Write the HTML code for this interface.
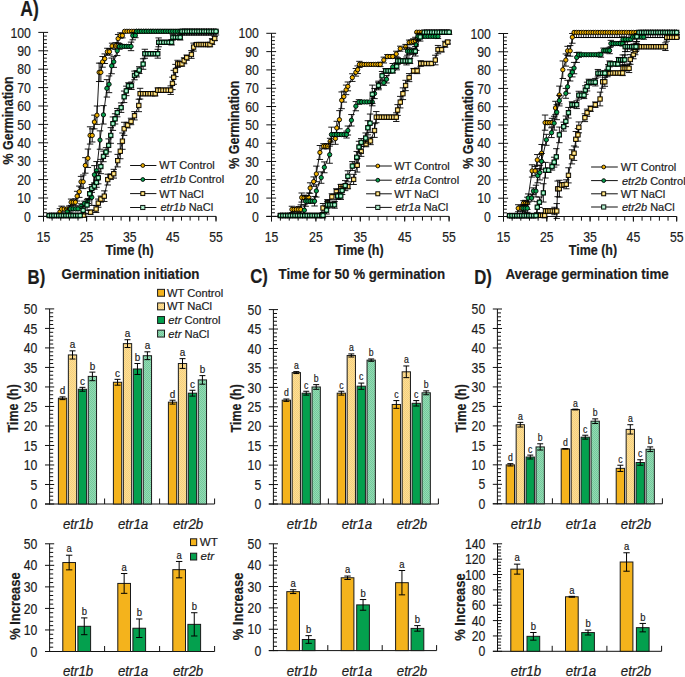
<!DOCTYPE html>
<html><head><meta charset="utf-8"><style>html,body{margin:0;padding:0;background:#fff;}svg{display:block;}text{font-family:"Liberation Sans",sans-serif;stroke:#1c1c1c;stroke-width:0.2px;}</style></head><body>
<svg width="685" height="677" viewBox="0 0 685 677" font-family="Liberation Sans, sans-serif" fill="#1c1c1c">
<defs><pattern id="pp" width="2" height="2" patternUnits="userSpaceOnUse"><rect width="2" height="2" fill="#FCDE96"/><rect width="1" height="1" fill="#F6D07C"/><rect x="1" y="1" width="1" height="1" fill="#F6D07C"/></pattern><pattern id="pg" width="2" height="2" patternUnits="userSpaceOnUse"><rect width="2" height="2" fill="#95DAB4"/><rect width="1" height="1" fill="#72CA9B"/><rect x="1" y="1" width="1" height="1" fill="#72CA9B"/></pattern></defs>
<rect width="685" height="677" fill="#fff"/>
<text transform="translate(20.2,15.7) scale(0.8,1)" font-size="22" font-weight="bold">A)</text>
<path d="M43.5 216.9V32.4M38.3 216.4H48.1M43.5 212.72H46.9M43.5 209.04H46.9M43.5 205.36H46.9M43.5 201.68H46.9M38.3 198H48.1M43.5 194.32H46.9M43.5 190.64H46.9M43.5 186.96H46.9M43.5 183.28H46.9M38.3 179.6H48.1M43.5 175.92H46.9M43.5 172.24H46.9M43.5 168.56H46.9M43.5 164.88H46.9M38.3 161.2H48.1M43.5 157.52H46.9M43.5 153.84H46.9M43.5 150.16H46.9M43.5 146.48H46.9M38.3 142.8H48.1M43.5 139.12H46.9M43.5 135.44H46.9M43.5 131.76H46.9M43.5 128.08H46.9M38.3 124.4H48.1M43.5 120.72H46.9M43.5 117.04H46.9M43.5 113.36H46.9M43.5 109.68H46.9M38.3 106H48.1M43.5 102.32H46.9M43.5 98.64H46.9M43.5 94.96H46.9M43.5 91.28H46.9M38.3 87.6H48.1M43.5 83.92H46.9M43.5 80.24H46.9M43.5 76.56H46.9M43.5 72.88H46.9M38.3 69.2H48.1M43.5 65.52H46.9M43.5 61.84H46.9M43.5 58.16H46.9M43.5 54.48H46.9M38.3 50.8H48.1M43.5 47.12H46.9M43.5 43.44H46.9M43.5 39.76H46.9M43.5 36.08H46.9M38.3 32.4H48.1M38.3 216.4H216M43.5 216.4V220.6M52.12 216.4V220.6M60.75 216.4V220.6M69.38 216.4V220.6M78 216.4V220.6M86.62 216.4V220.6M95.25 216.4V220.6M103.88 216.4V220.6M112.5 216.4V220.6M121.12 216.4V220.6M129.75 216.4V220.6M138.38 216.4V220.6M147 216.4V220.6M155.62 216.4V220.6M164.25 216.4V220.6M172.88 216.4V220.6M181.5 216.4V220.6M190.12 216.4V220.6M198.75 216.4V220.6M207.38 216.4V220.6M216 216.4V220.6M43.5 216.4V221.6M86.62 216.4V221.6M129.75 216.4V221.6M172.88 216.4V221.6M216 216.4V221.6" stroke="#111" stroke-width="1" fill="none"/>
<text transform="translate(30.9,221.55) scale(0.85,1)" font-size="14.4" text-anchor="end">0</text>
<text transform="translate(30.9,203.15) scale(0.85,1)" font-size="14.4" text-anchor="end">10</text>
<text transform="translate(30.9,184.75) scale(0.85,1)" font-size="14.4" text-anchor="end">20</text>
<text transform="translate(30.9,166.35) scale(0.85,1)" font-size="14.4" text-anchor="end">30</text>
<text transform="translate(30.9,147.95) scale(0.85,1)" font-size="14.4" text-anchor="end">40</text>
<text transform="translate(30.9,129.55) scale(0.85,1)" font-size="14.4" text-anchor="end">50</text>
<text transform="translate(30.9,111.15) scale(0.85,1)" font-size="14.4" text-anchor="end">60</text>
<text transform="translate(30.9,92.75) scale(0.85,1)" font-size="14.4" text-anchor="end">70</text>
<text transform="translate(30.9,74.35) scale(0.85,1)" font-size="14.4" text-anchor="end">80</text>
<text transform="translate(30.9,55.95) scale(0.85,1)" font-size="14.4" text-anchor="end">90</text>
<text transform="translate(30.9,37.55) scale(0.85,1)" font-size="14.4" text-anchor="end">100</text>
<text transform="translate(43.5,241.9) scale(0.85,1)" font-size="14.4" text-anchor="middle">15</text>
<text transform="translate(86.62,241.9) scale(0.85,1)" font-size="14.4" text-anchor="middle">25</text>
<text transform="translate(129.75,241.9) scale(0.85,1)" font-size="14.4" text-anchor="middle">35</text>
<text transform="translate(172.88,241.9) scale(0.85,1)" font-size="14.4" text-anchor="middle">45</text>
<text transform="translate(216,241.9) scale(0.85,1)" font-size="14.4" text-anchor="middle">55</text>
<path d="M59.89 208.67V215.3M56.69 208.67H63.09M56.69 215.3H63.09M61.61 206.13V211.95M58.41 206.13H64.81M58.41 211.95H64.81M64.2 207.75V210.33M61 207.75H67.4M61 210.33H67.4M66.79 207.75V210.33M63.59 207.75H69.99M63.59 210.33H69.99M69.38 205.88V212.2M66.17 205.88H72.58M66.17 212.2H72.58M71.1 199.07V205.39M67.9 199.07H74.3M67.9 205.39H74.3M73.26 200.06V204.41M70.06 200.06H76.46M70.06 204.41H76.46M75.41 198.79V205.68M72.21 198.79H78.61M72.21 205.68H78.61M77.14 191.3V201.02M73.94 191.3H80.34M73.94 201.02H80.34M79.29 186.09V197.4M76.09 186.09H82.49M76.09 197.4H82.49M81.02 176.4V187.21M77.82 176.4H84.22M77.82 187.21H84.22M83.17 175V188.61M79.97 175H86.38M79.97 188.61H86.38M85.33 157.67V173.2M82.13 157.67H88.53M82.13 173.2H88.53M87.92 149.06V167.46M84.72 149.06H91.12M84.72 167.46H91.12M90.08 126.81V144.07M86.88 126.81H93.28M86.88 144.07H93.28M92.23 128.89V141.99M89.03 128.89H95.43M89.03 141.99H95.43M94.39 115.15V128.86M91.19 115.15H97.59M91.19 128.86H97.59M96.97 106V124.4M93.77 106H100.17M93.77 124.4H100.17M99.13 63.13V81.53M95.93 63.13H102.33M95.93 81.53H102.33M100.86 63.13V81.53M97.66 63.13H104.06M97.66 81.53H104.06M102.58 56.49V67.19M99.38 56.49H105.78M99.38 67.19H105.78M104.74 53.92V63.5M101.54 53.92H107.94M101.54 63.5H107.94M107.33 48.25V55.19M104.12 48.25H110.53M104.12 55.19H110.53M109.48 48.54V54.9M106.28 48.54H112.68M106.28 54.9H112.68M112.07 43.16V48.87M108.87 43.16H115.27M108.87 48.87H115.27M115.52 42.7V49.33M112.32 42.7H118.72M112.32 49.33H118.72M118.11 34.48V42.83M114.91 34.48H121.31M114.91 42.83H121.31M120.26 32.87V38.19M117.06 32.87H123.46M117.06 38.19H123.46M122.42 33.21V37.85M119.22 33.21H125.62M119.22 37.85H125.62" stroke="#000" stroke-width="0.9" fill="none"/>
<path d="M49.54 215.5L51.8 215.5L54.07 215.5L56.33 215.5L58.59 215.5L59.89 211.98L61.61 209.04L64.2 209.04L66.79 209.04L69.38 209.04L71.1 202.23L73.26 202.23L75.41 202.23L77.14 196.16L79.29 191.74L81.02 181.81L83.17 181.81L85.33 165.43L87.92 158.26L90.08 135.44L92.23 135.44L94.39 122.01L96.97 115.2L99.13 72.33L100.86 72.33L102.58 61.84L104.74 58.71L107.33 51.72L109.48 51.72L112.07 46.02L115.52 46.02L118.11 38.66L120.26 35.53L122.42 35.53L124.57 31.3L126.92 31.3L129.26 31.3L131.61 31.3L133.95 31.3L136.3 31.3L138.64 31.3L140.98 31.3L143.33 31.3L145.67 31.3L148.02 31.3L150.36 31.3L152.71 31.3L155.05 31.3L157.39 31.3L159.74 31.3L162.08 31.3L164.43 31.3L166.77 31.3L169.12 31.3L171.46 31.3L173.8 31.3L176.15 31.3L178.49 31.3L180.84 31.3L183.18 31.3L185.52 31.3L187.87 31.3L190.21 31.3L192.56 31.3L194.9 31.3L197.25 31.3L199.59 31.3L201.93 31.3L204.28 31.3L206.62 31.3L208.97 31.3L211.31 31.3L213.66 31.3L216 31.3" stroke="#000" stroke-width="0.9" fill="none"/>
<circle cx="49.54" cy="215.5" r="2.15" fill="#F2B200" stroke="#000" stroke-width="0.9"/>
<circle cx="51.8" cy="215.5" r="2.15" fill="#F2B200" stroke="#000" stroke-width="0.9"/>
<circle cx="54.07" cy="215.5" r="2.15" fill="#F2B200" stroke="#000" stroke-width="0.9"/>
<circle cx="56.33" cy="215.5" r="2.15" fill="#F2B200" stroke="#000" stroke-width="0.9"/>
<circle cx="58.59" cy="215.5" r="2.15" fill="#F2B200" stroke="#000" stroke-width="0.9"/>
<circle cx="59.89" cy="211.98" r="2.15" fill="#F2B200" stroke="#000" stroke-width="0.9"/>
<circle cx="61.61" cy="209.04" r="2.15" fill="#F2B200" stroke="#000" stroke-width="0.9"/>
<circle cx="64.2" cy="209.04" r="2.15" fill="#F2B200" stroke="#000" stroke-width="0.9"/>
<circle cx="66.79" cy="209.04" r="2.15" fill="#F2B200" stroke="#000" stroke-width="0.9"/>
<circle cx="69.38" cy="209.04" r="2.15" fill="#F2B200" stroke="#000" stroke-width="0.9"/>
<circle cx="71.1" cy="202.23" r="2.15" fill="#F2B200" stroke="#000" stroke-width="0.9"/>
<circle cx="73.26" cy="202.23" r="2.15" fill="#F2B200" stroke="#000" stroke-width="0.9"/>
<circle cx="75.41" cy="202.23" r="2.15" fill="#F2B200" stroke="#000" stroke-width="0.9"/>
<circle cx="77.14" cy="196.16" r="2.15" fill="#F2B200" stroke="#000" stroke-width="0.9"/>
<circle cx="79.29" cy="191.74" r="2.15" fill="#F2B200" stroke="#000" stroke-width="0.9"/>
<circle cx="81.02" cy="181.81" r="2.15" fill="#F2B200" stroke="#000" stroke-width="0.9"/>
<circle cx="83.17" cy="181.81" r="2.15" fill="#F2B200" stroke="#000" stroke-width="0.9"/>
<circle cx="85.33" cy="165.43" r="2.15" fill="#F2B200" stroke="#000" stroke-width="0.9"/>
<circle cx="87.92" cy="158.26" r="2.15" fill="#F2B200" stroke="#000" stroke-width="0.9"/>
<circle cx="90.08" cy="135.44" r="2.15" fill="#F2B200" stroke="#000" stroke-width="0.9"/>
<circle cx="92.23" cy="135.44" r="2.15" fill="#F2B200" stroke="#000" stroke-width="0.9"/>
<circle cx="94.39" cy="122.01" r="2.15" fill="#F2B200" stroke="#000" stroke-width="0.9"/>
<circle cx="96.97" cy="115.2" r="2.15" fill="#F2B200" stroke="#000" stroke-width="0.9"/>
<circle cx="99.13" cy="72.33" r="2.15" fill="#F2B200" stroke="#000" stroke-width="0.9"/>
<circle cx="100.86" cy="72.33" r="2.15" fill="#F2B200" stroke="#000" stroke-width="0.9"/>
<circle cx="102.58" cy="61.84" r="2.15" fill="#F2B200" stroke="#000" stroke-width="0.9"/>
<circle cx="104.74" cy="58.71" r="2.15" fill="#F2B200" stroke="#000" stroke-width="0.9"/>
<circle cx="107.33" cy="51.72" r="2.15" fill="#F2B200" stroke="#000" stroke-width="0.9"/>
<circle cx="109.48" cy="51.72" r="2.15" fill="#F2B200" stroke="#000" stroke-width="0.9"/>
<circle cx="112.07" cy="46.02" r="2.15" fill="#F2B200" stroke="#000" stroke-width="0.9"/>
<circle cx="115.52" cy="46.02" r="2.15" fill="#F2B200" stroke="#000" stroke-width="0.9"/>
<circle cx="118.11" cy="38.66" r="2.15" fill="#F2B200" stroke="#000" stroke-width="0.9"/>
<circle cx="120.26" cy="35.53" r="2.15" fill="#F2B200" stroke="#000" stroke-width="0.9"/>
<circle cx="122.42" cy="35.53" r="2.15" fill="#F2B200" stroke="#000" stroke-width="0.9"/>
<circle cx="124.57" cy="31.3" r="2.15" fill="#F2B200" stroke="#000" stroke-width="0.9"/>
<circle cx="126.92" cy="31.3" r="2.15" fill="#F2B200" stroke="#000" stroke-width="0.9"/>
<circle cx="129.26" cy="31.3" r="2.15" fill="#F2B200" stroke="#000" stroke-width="0.9"/>
<circle cx="131.61" cy="31.3" r="2.15" fill="#F2B200" stroke="#000" stroke-width="0.9"/>
<circle cx="133.95" cy="31.3" r="2.15" fill="#F2B200" stroke="#000" stroke-width="0.9"/>
<circle cx="136.3" cy="31.3" r="2.15" fill="#F2B200" stroke="#000" stroke-width="0.9"/>
<circle cx="138.64" cy="31.3" r="2.15" fill="#F2B200" stroke="#000" stroke-width="0.9"/>
<circle cx="140.98" cy="31.3" r="2.15" fill="#F2B200" stroke="#000" stroke-width="0.9"/>
<circle cx="143.33" cy="31.3" r="2.15" fill="#F2B200" stroke="#000" stroke-width="0.9"/>
<circle cx="145.67" cy="31.3" r="2.15" fill="#F2B200" stroke="#000" stroke-width="0.9"/>
<circle cx="148.02" cy="31.3" r="2.15" fill="#F2B200" stroke="#000" stroke-width="0.9"/>
<circle cx="150.36" cy="31.3" r="2.15" fill="#F2B200" stroke="#000" stroke-width="0.9"/>
<circle cx="152.71" cy="31.3" r="2.15" fill="#F2B200" stroke="#000" stroke-width="0.9"/>
<circle cx="155.05" cy="31.3" r="2.15" fill="#F2B200" stroke="#000" stroke-width="0.9"/>
<circle cx="157.39" cy="31.3" r="2.15" fill="#F2B200" stroke="#000" stroke-width="0.9"/>
<circle cx="159.74" cy="31.3" r="2.15" fill="#F2B200" stroke="#000" stroke-width="0.9"/>
<circle cx="162.08" cy="31.3" r="2.15" fill="#F2B200" stroke="#000" stroke-width="0.9"/>
<circle cx="164.43" cy="31.3" r="2.15" fill="#F2B200" stroke="#000" stroke-width="0.9"/>
<circle cx="166.77" cy="31.3" r="2.15" fill="#F2B200" stroke="#000" stroke-width="0.9"/>
<circle cx="169.12" cy="31.3" r="2.15" fill="#F2B200" stroke="#000" stroke-width="0.9"/>
<circle cx="171.46" cy="31.3" r="2.15" fill="#F2B200" stroke="#000" stroke-width="0.9"/>
<circle cx="173.8" cy="31.3" r="2.15" fill="#F2B200" stroke="#000" stroke-width="0.9"/>
<circle cx="176.15" cy="31.3" r="2.15" fill="#F2B200" stroke="#000" stroke-width="0.9"/>
<circle cx="178.49" cy="31.3" r="2.15" fill="#F2B200" stroke="#000" stroke-width="0.9"/>
<circle cx="180.84" cy="31.3" r="2.15" fill="#F2B200" stroke="#000" stroke-width="0.9"/>
<circle cx="183.18" cy="31.3" r="2.15" fill="#F2B200" stroke="#000" stroke-width="0.9"/>
<circle cx="185.52" cy="31.3" r="2.15" fill="#F2B200" stroke="#000" stroke-width="0.9"/>
<circle cx="187.87" cy="31.3" r="2.15" fill="#F2B200" stroke="#000" stroke-width="0.9"/>
<circle cx="190.21" cy="31.3" r="2.15" fill="#F2B200" stroke="#000" stroke-width="0.9"/>
<circle cx="192.56" cy="31.3" r="2.15" fill="#F2B200" stroke="#000" stroke-width="0.9"/>
<circle cx="194.9" cy="31.3" r="2.15" fill="#F2B200" stroke="#000" stroke-width="0.9"/>
<circle cx="197.25" cy="31.3" r="2.15" fill="#F2B200" stroke="#000" stroke-width="0.9"/>
<circle cx="199.59" cy="31.3" r="2.15" fill="#F2B200" stroke="#000" stroke-width="0.9"/>
<circle cx="201.93" cy="31.3" r="2.15" fill="#F2B200" stroke="#000" stroke-width="0.9"/>
<circle cx="204.28" cy="31.3" r="2.15" fill="#F2B200" stroke="#000" stroke-width="0.9"/>
<circle cx="206.62" cy="31.3" r="2.15" fill="#F2B200" stroke="#000" stroke-width="0.9"/>
<circle cx="208.97" cy="31.3" r="2.15" fill="#F2B200" stroke="#000" stroke-width="0.9"/>
<circle cx="211.31" cy="31.3" r="2.15" fill="#F2B200" stroke="#000" stroke-width="0.9"/>
<circle cx="213.66" cy="31.3" r="2.15" fill="#F2B200" stroke="#000" stroke-width="0.9"/>
<circle cx="216" cy="31.3" r="2.15" fill="#F2B200" stroke="#000" stroke-width="0.9"/>
<path d="M67.22 208.84V215.13M64.02 208.84H70.42M64.02 215.13H70.42M70.67 206.92V210.79M67.47 206.92H73.87M67.47 210.79H73.87M73.11 207.53V210.18M69.91 207.53H76.31M69.91 210.18H76.31M75.56 207.53V210.18M72.36 207.53H78.76M72.36 210.18H78.76M78 206.96V210.75M74.8 206.96H81.2M74.8 210.75H81.2M81.02 203.82V208.74M77.82 203.82H84.22M77.82 208.74H84.22M84.47 201.13V205.91M81.27 201.13H87.67M81.27 205.91H87.67M87.92 198.45V203.44M84.72 198.45H91.12M84.72 203.44H91.12M91.8 189.13V205.4M88.6 189.13H95M88.6 205.4H95M94.39 165.62V184.02M91.19 165.62H97.59M91.19 184.02H97.59M96.54 161.57V179.97M93.34 161.57H99.74M93.34 179.97H99.74M99.99 130.84V149.24M96.79 130.84H103.19M96.79 149.24H103.19M103.44 105.63V124.03M100.24 105.63H106.64M100.24 124.03H106.64M106.89 79.63V97.05M103.69 79.63H110.09M103.69 97.05H110.09M109.05 75.92V92.66M105.85 75.92H112.25M105.85 92.66H112.25M111.64 58.05V73.73M108.44 58.05H114.84M108.44 73.73H114.84M113.79 56.32V67.36M110.59 56.32H116.99M110.59 67.36H116.99M117.24 46.02V55.58M114.04 46.02H120.44M114.04 55.58H120.44M119.4 43.5V49.27M116.2 43.5H122.6M116.2 49.27H122.6M121.73 44.95V47.82M118.53 44.95H124.93M118.53 47.82H124.93M124.06 45.1V47.67M120.86 45.1H127.26M120.86 47.67H127.26M126.39 45.1V47.67M123.19 45.1H129.59M123.19 47.67H129.59M128.71 44.65V48.12M125.51 44.65H131.91M125.51 48.12H131.91M131.04 42.11V50.66M127.84 42.11H134.24M127.84 50.66H134.24M132.77 32.4V39.8M129.57 32.4H135.97M129.57 39.8H135.97M135.36 33.38V37.68M132.16 33.38H138.56M132.16 37.68H138.56" stroke="#000" stroke-width="0.9" fill="none"/>
<path d="M49.11 215.5L51.39 215.5L53.67 215.5L55.94 215.5L58.22 215.5L60.5 215.5L62.78 215.5L65.06 215.5L67.22 211.98L70.67 208.86L73.11 208.86L75.56 208.86L78 208.86L81.02 206.28L84.47 203.52L87.92 200.94L91.8 197.26L94.39 174.82L96.54 170.77L99.99 140.04L103.44 114.83L106.89 88.34L109.05 84.29L111.64 65.89L113.79 61.84L117.24 50.8L119.4 46.38L121.73 46.38L124.06 46.38L126.39 46.38L128.71 46.38L131.04 46.38L132.77 35.53L135.36 35.53L136.65 31.3L139.05 31.3L141.46 31.3L143.86 31.3L146.27 31.3L148.67 31.3L151.08 31.3L153.48 31.3L155.89 31.3L158.29 31.3L160.7 31.3L163.1 31.3L165.5 31.3L167.91 31.3L170.31 31.3L172.72 31.3L175.12 31.3L177.53 31.3L179.93 31.3L182.34 31.3L184.74 31.3L187.15 31.3L189.55 31.3L191.95 31.3L194.36 31.3L196.76 31.3L199.17 31.3L201.57 31.3L203.98 31.3L206.38 31.3L208.79 31.3L211.19 31.3L213.6 31.3L216 31.3" stroke="#000" stroke-width="0.9" fill="none"/>
<circle cx="49.11" cy="215.5" r="2.15" fill="#07A04C" stroke="#000" stroke-width="0.9"/>
<circle cx="51.39" cy="215.5" r="2.15" fill="#07A04C" stroke="#000" stroke-width="0.9"/>
<circle cx="53.67" cy="215.5" r="2.15" fill="#07A04C" stroke="#000" stroke-width="0.9"/>
<circle cx="55.94" cy="215.5" r="2.15" fill="#07A04C" stroke="#000" stroke-width="0.9"/>
<circle cx="58.22" cy="215.5" r="2.15" fill="#07A04C" stroke="#000" stroke-width="0.9"/>
<circle cx="60.5" cy="215.5" r="2.15" fill="#07A04C" stroke="#000" stroke-width="0.9"/>
<circle cx="62.78" cy="215.5" r="2.15" fill="#07A04C" stroke="#000" stroke-width="0.9"/>
<circle cx="65.06" cy="215.5" r="2.15" fill="#07A04C" stroke="#000" stroke-width="0.9"/>
<circle cx="67.22" cy="211.98" r="2.15" fill="#07A04C" stroke="#000" stroke-width="0.9"/>
<circle cx="70.67" cy="208.86" r="2.15" fill="#07A04C" stroke="#000" stroke-width="0.9"/>
<circle cx="73.11" cy="208.86" r="2.15" fill="#07A04C" stroke="#000" stroke-width="0.9"/>
<circle cx="75.56" cy="208.86" r="2.15" fill="#07A04C" stroke="#000" stroke-width="0.9"/>
<circle cx="78" cy="208.86" r="2.15" fill="#07A04C" stroke="#000" stroke-width="0.9"/>
<circle cx="81.02" cy="206.28" r="2.15" fill="#07A04C" stroke="#000" stroke-width="0.9"/>
<circle cx="84.47" cy="203.52" r="2.15" fill="#07A04C" stroke="#000" stroke-width="0.9"/>
<circle cx="87.92" cy="200.94" r="2.15" fill="#07A04C" stroke="#000" stroke-width="0.9"/>
<circle cx="91.8" cy="197.26" r="2.15" fill="#07A04C" stroke="#000" stroke-width="0.9"/>
<circle cx="94.39" cy="174.82" r="2.15" fill="#07A04C" stroke="#000" stroke-width="0.9"/>
<circle cx="96.54" cy="170.77" r="2.15" fill="#07A04C" stroke="#000" stroke-width="0.9"/>
<circle cx="99.99" cy="140.04" r="2.15" fill="#07A04C" stroke="#000" stroke-width="0.9"/>
<circle cx="103.44" cy="114.83" r="2.15" fill="#07A04C" stroke="#000" stroke-width="0.9"/>
<circle cx="106.89" cy="88.34" r="2.15" fill="#07A04C" stroke="#000" stroke-width="0.9"/>
<circle cx="109.05" cy="84.29" r="2.15" fill="#07A04C" stroke="#000" stroke-width="0.9"/>
<circle cx="111.64" cy="65.89" r="2.15" fill="#07A04C" stroke="#000" stroke-width="0.9"/>
<circle cx="113.79" cy="61.84" r="2.15" fill="#07A04C" stroke="#000" stroke-width="0.9"/>
<circle cx="117.24" cy="50.8" r="2.15" fill="#07A04C" stroke="#000" stroke-width="0.9"/>
<circle cx="119.4" cy="46.38" r="2.15" fill="#07A04C" stroke="#000" stroke-width="0.9"/>
<circle cx="121.73" cy="46.38" r="2.15" fill="#07A04C" stroke="#000" stroke-width="0.9"/>
<circle cx="124.06" cy="46.38" r="2.15" fill="#07A04C" stroke="#000" stroke-width="0.9"/>
<circle cx="126.39" cy="46.38" r="2.15" fill="#07A04C" stroke="#000" stroke-width="0.9"/>
<circle cx="128.71" cy="46.38" r="2.15" fill="#07A04C" stroke="#000" stroke-width="0.9"/>
<circle cx="131.04" cy="46.38" r="2.15" fill="#07A04C" stroke="#000" stroke-width="0.9"/>
<circle cx="132.77" cy="35.53" r="2.15" fill="#07A04C" stroke="#000" stroke-width="0.9"/>
<circle cx="135.36" cy="35.53" r="2.15" fill="#07A04C" stroke="#000" stroke-width="0.9"/>
<circle cx="136.65" cy="31.3" r="2.15" fill="#07A04C" stroke="#000" stroke-width="0.9"/>
<circle cx="139.05" cy="31.3" r="2.15" fill="#07A04C" stroke="#000" stroke-width="0.9"/>
<circle cx="141.46" cy="31.3" r="2.15" fill="#07A04C" stroke="#000" stroke-width="0.9"/>
<circle cx="143.86" cy="31.3" r="2.15" fill="#07A04C" stroke="#000" stroke-width="0.9"/>
<circle cx="146.27" cy="31.3" r="2.15" fill="#07A04C" stroke="#000" stroke-width="0.9"/>
<circle cx="148.67" cy="31.3" r="2.15" fill="#07A04C" stroke="#000" stroke-width="0.9"/>
<circle cx="151.08" cy="31.3" r="2.15" fill="#07A04C" stroke="#000" stroke-width="0.9"/>
<circle cx="153.48" cy="31.3" r="2.15" fill="#07A04C" stroke="#000" stroke-width="0.9"/>
<circle cx="155.89" cy="31.3" r="2.15" fill="#07A04C" stroke="#000" stroke-width="0.9"/>
<circle cx="158.29" cy="31.3" r="2.15" fill="#07A04C" stroke="#000" stroke-width="0.9"/>
<circle cx="160.7" cy="31.3" r="2.15" fill="#07A04C" stroke="#000" stroke-width="0.9"/>
<circle cx="163.1" cy="31.3" r="2.15" fill="#07A04C" stroke="#000" stroke-width="0.9"/>
<circle cx="165.5" cy="31.3" r="2.15" fill="#07A04C" stroke="#000" stroke-width="0.9"/>
<circle cx="167.91" cy="31.3" r="2.15" fill="#07A04C" stroke="#000" stroke-width="0.9"/>
<circle cx="170.31" cy="31.3" r="2.15" fill="#07A04C" stroke="#000" stroke-width="0.9"/>
<circle cx="172.72" cy="31.3" r="2.15" fill="#07A04C" stroke="#000" stroke-width="0.9"/>
<circle cx="175.12" cy="31.3" r="2.15" fill="#07A04C" stroke="#000" stroke-width="0.9"/>
<circle cx="177.53" cy="31.3" r="2.15" fill="#07A04C" stroke="#000" stroke-width="0.9"/>
<circle cx="179.93" cy="31.3" r="2.15" fill="#07A04C" stroke="#000" stroke-width="0.9"/>
<circle cx="182.34" cy="31.3" r="2.15" fill="#07A04C" stroke="#000" stroke-width="0.9"/>
<circle cx="184.74" cy="31.3" r="2.15" fill="#07A04C" stroke="#000" stroke-width="0.9"/>
<circle cx="187.15" cy="31.3" r="2.15" fill="#07A04C" stroke="#000" stroke-width="0.9"/>
<circle cx="189.55" cy="31.3" r="2.15" fill="#07A04C" stroke="#000" stroke-width="0.9"/>
<circle cx="191.95" cy="31.3" r="2.15" fill="#07A04C" stroke="#000" stroke-width="0.9"/>
<circle cx="194.36" cy="31.3" r="2.15" fill="#07A04C" stroke="#000" stroke-width="0.9"/>
<circle cx="196.76" cy="31.3" r="2.15" fill="#07A04C" stroke="#000" stroke-width="0.9"/>
<circle cx="199.17" cy="31.3" r="2.15" fill="#07A04C" stroke="#000" stroke-width="0.9"/>
<circle cx="201.57" cy="31.3" r="2.15" fill="#07A04C" stroke="#000" stroke-width="0.9"/>
<circle cx="203.98" cy="31.3" r="2.15" fill="#07A04C" stroke="#000" stroke-width="0.9"/>
<circle cx="206.38" cy="31.3" r="2.15" fill="#07A04C" stroke="#000" stroke-width="0.9"/>
<circle cx="208.79" cy="31.3" r="2.15" fill="#07A04C" stroke="#000" stroke-width="0.9"/>
<circle cx="211.19" cy="31.3" r="2.15" fill="#07A04C" stroke="#000" stroke-width="0.9"/>
<circle cx="213.6" cy="31.3" r="2.15" fill="#07A04C" stroke="#000" stroke-width="0.9"/>
<circle cx="216" cy="31.3" r="2.15" fill="#07A04C" stroke="#000" stroke-width="0.9"/>
<path d="M83.61 213.25V216.97M80.41 213.25H86.81M80.41 216.97H86.81M90.51 210.18V214.16M87.31 210.18H93.71M87.31 214.16H93.71M96.11 205.55V212.53M92.91 205.55H99.31M92.91 212.53H99.31M98.27 199.07V207.24M95.07 199.07H101.47M95.07 207.24H101.47M100.86 196.1V202.11M97.66 196.1H104.06M97.66 202.11H104.06M104.31 190.85V201.47M101.11 190.85H107.51M101.11 201.47H107.51M107.76 174.2V185M104.56 174.2H110.96M104.56 185H110.96M110.78 173.98V179.33M107.58 173.98H113.98M107.58 179.33H113.98M113.79 169.33V178.09M110.59 169.33H116.99M110.59 178.09H116.99M117.68 154.38V166.91M114.48 154.38H120.88M114.48 166.91H120.88M120.26 143.76V158.76M117.06 143.76H123.46M117.06 158.76H123.46M122.42 133V149.29M119.22 133H125.62M119.22 149.29H125.62M124.14 122.27V135.37M120.94 122.27H127.34M120.94 135.37H127.34M127.59 122.33V127.94M124.39 122.33H130.79M124.39 127.94H130.79M131.04 118.23V124.68M127.84 118.23H134.24M127.84 124.68H134.24M134.49 111.59V119.92M131.29 111.59H137.69M131.29 119.92H137.69M138.81 99.22V111.67M135.61 99.22H142.01M135.61 111.67H142.01M140.1 88.3V99.05M136.9 88.3H143.3M136.9 99.05H143.3M142.62 92.2V95.14M139.42 92.2H145.82M139.42 95.14H145.82M145.13 92.38V94.96M141.93 92.38H148.33M141.93 94.96H148.33M147.65 92.38V94.96M144.45 92.38H150.85M144.45 94.96H150.85M150.16 92.38V94.96M146.96 92.38H153.36M146.96 94.96H153.36M152.68 92.36V94.99M149.48 92.36H155.88M149.48 94.99H155.88M155.19 91.42V95.92M151.99 91.42H158.39M151.99 95.92H158.39M157.78 87.93V92.43M154.58 87.93H160.98M154.58 92.43H160.98M160.37 88.89V91.46M157.17 88.89H163.57M157.17 91.46H163.57M162.96 88.89V91.46M159.76 88.89H166.16M159.76 91.46H166.16M165.54 88.89V91.46M162.34 88.89H168.74M162.34 91.46H168.74M168.13 88.89V91.46M164.93 88.89H171.33M164.93 91.46H171.33M170.72 85.9V94.45M167.52 85.9H173.92M167.52 94.45H173.92M172.44 77.13V89.6M169.24 77.13H175.64M169.24 89.6H175.64M173.74 70.33V84.26M170.54 70.33H176.94M170.54 84.26H176.94M175.46 64.39V76.58M172.26 64.39H178.66M172.26 76.58H178.66M177.62 60.29V67.44M174.42 60.29H180.82M174.42 67.44H180.82M179.78 62.04V65.69M176.58 62.04H182.97M176.58 65.69H182.97M181.93 61.57V66.16M178.73 61.57H185.13M178.73 66.16H185.13M184.09 57.73V63.74M180.89 57.73H187.29M180.89 63.74H187.29M186.68 54.99V60.23M183.48 54.99H189.88M183.48 60.23H189.88M191.42 50.6V58.36M188.22 50.6H194.62M188.22 58.36H194.62M193.57 43.12V51.12M190.38 43.12H196.77M190.38 51.12H196.77M196.59 42.65V46.44M193.39 42.65H199.79M193.39 46.44H199.79M198.82 43.17V45.92M195.62 43.17H202.02M195.62 45.92H202.02M201.05 43.26V45.83M197.85 43.26H204.25M197.85 45.83H204.25M203.28 43.26V45.83M200.08 43.26H206.48M200.08 45.83H206.48M205.51 43.26V45.83M202.31 43.26H208.71M202.31 45.83H208.71M207.73 43.12V45.97M204.53 43.12H210.93M204.53 45.97H210.93M209.96 42.3V46.78M206.76 42.3H213.16M206.76 46.78H213.16M212.12 38.64V44.56M208.92 38.64H215.32M208.92 44.56H215.32M214.71 36.32V40.62M211.51 36.32H217.91M211.51 40.62H217.91" stroke="#000" stroke-width="0.9" fill="none"/>
<path d="M49.54 215.5L51.89 215.5L54.25 215.5L56.6 215.5L58.96 215.5L61.31 215.5L63.67 215.5L66.02 215.5L68.38 215.5L70.74 215.5L73.09 215.5L75.45 215.5L77.8 215.5L80.16 215.5L83.61 215.11L90.51 212.17L96.11 209.04L98.27 203.15L100.86 199.1L104.31 196.16L107.76 179.6L110.78 176.66L113.79 173.71L117.68 160.65L120.26 151.26L122.42 141.14L124.14 128.82L127.59 125.14L131.04 121.46L134.49 115.75L138.81 105.45L140.1 93.67L142.62 93.67L145.13 93.67L147.65 93.67L150.16 93.67L152.68 93.67L155.19 93.67L157.78 90.18L160.37 90.18L162.96 90.18L165.54 90.18L168.13 90.18L170.72 90.18L172.44 83.37L173.74 77.3L175.46 70.49L177.62 63.86L179.78 63.86L181.93 63.86L184.09 60.74L186.68 57.61L191.42 54.48L193.57 47.12L196.59 44.54L198.82 44.54L201.05 44.54L203.28 44.54L205.51 44.54L207.73 44.54L209.96 44.54L212.12 41.6L214.71 38.47" stroke="#000" stroke-width="0.9" fill="none"/>
<rect x="47.34" y="213.3" width="4.4" height="4.4" fill="#D8A838" stroke="#000" stroke-width="0.9"/>
<circle cx="49.54" cy="215.5" r="1.2" fill="#FBF0A6"/>
<rect x="49.69" y="213.3" width="4.4" height="4.4" fill="#D8A838" stroke="#000" stroke-width="0.9"/>
<circle cx="51.89" cy="215.5" r="1.2" fill="#FBF0A6"/>
<rect x="52.05" y="213.3" width="4.4" height="4.4" fill="#D8A838" stroke="#000" stroke-width="0.9"/>
<circle cx="54.25" cy="215.5" r="1.2" fill="#FBF0A6"/>
<rect x="54.4" y="213.3" width="4.4" height="4.4" fill="#D8A838" stroke="#000" stroke-width="0.9"/>
<circle cx="56.6" cy="215.5" r="1.2" fill="#FBF0A6"/>
<rect x="56.76" y="213.3" width="4.4" height="4.4" fill="#D8A838" stroke="#000" stroke-width="0.9"/>
<circle cx="58.96" cy="215.5" r="1.2" fill="#FBF0A6"/>
<rect x="59.11" y="213.3" width="4.4" height="4.4" fill="#D8A838" stroke="#000" stroke-width="0.9"/>
<circle cx="61.31" cy="215.5" r="1.2" fill="#FBF0A6"/>
<rect x="61.47" y="213.3" width="4.4" height="4.4" fill="#D8A838" stroke="#000" stroke-width="0.9"/>
<circle cx="63.67" cy="215.5" r="1.2" fill="#FBF0A6"/>
<rect x="63.82" y="213.3" width="4.4" height="4.4" fill="#D8A838" stroke="#000" stroke-width="0.9"/>
<circle cx="66.02" cy="215.5" r="1.2" fill="#FBF0A6"/>
<rect x="66.18" y="213.3" width="4.4" height="4.4" fill="#D8A838" stroke="#000" stroke-width="0.9"/>
<circle cx="68.38" cy="215.5" r="1.2" fill="#FBF0A6"/>
<rect x="68.54" y="213.3" width="4.4" height="4.4" fill="#D8A838" stroke="#000" stroke-width="0.9"/>
<circle cx="70.74" cy="215.5" r="1.2" fill="#FBF0A6"/>
<rect x="70.89" y="213.3" width="4.4" height="4.4" fill="#D8A838" stroke="#000" stroke-width="0.9"/>
<circle cx="73.09" cy="215.5" r="1.2" fill="#FBF0A6"/>
<rect x="73.25" y="213.3" width="4.4" height="4.4" fill="#D8A838" stroke="#000" stroke-width="0.9"/>
<circle cx="75.45" cy="215.5" r="1.2" fill="#FBF0A6"/>
<rect x="75.6" y="213.3" width="4.4" height="4.4" fill="#D8A838" stroke="#000" stroke-width="0.9"/>
<circle cx="77.8" cy="215.5" r="1.2" fill="#FBF0A6"/>
<rect x="77.96" y="213.3" width="4.4" height="4.4" fill="#D8A838" stroke="#000" stroke-width="0.9"/>
<circle cx="80.16" cy="215.5" r="1.2" fill="#FBF0A6"/>
<rect x="81.41" y="212.91" width="4.4" height="4.4" fill="#D8A838" stroke="#000" stroke-width="0.9"/>
<circle cx="83.61" cy="215.11" r="1.2" fill="#FBF0A6"/>
<rect x="88.31" y="209.97" width="4.4" height="4.4" fill="#D8A838" stroke="#000" stroke-width="0.9"/>
<circle cx="90.51" cy="212.17" r="1.2" fill="#FBF0A6"/>
<rect x="93.91" y="206.84" width="4.4" height="4.4" fill="#D8A838" stroke="#000" stroke-width="0.9"/>
<circle cx="96.11" cy="209.04" r="1.2" fill="#FBF0A6"/>
<rect x="96.07" y="200.95" width="4.4" height="4.4" fill="#D8A838" stroke="#000" stroke-width="0.9"/>
<circle cx="98.27" cy="203.15" r="1.2" fill="#FBF0A6"/>
<rect x="98.66" y="196.9" width="4.4" height="4.4" fill="#D8A838" stroke="#000" stroke-width="0.9"/>
<circle cx="100.86" cy="199.1" r="1.2" fill="#FBF0A6"/>
<rect x="102.11" y="193.96" width="4.4" height="4.4" fill="#D8A838" stroke="#000" stroke-width="0.9"/>
<circle cx="104.31" cy="196.16" r="1.2" fill="#FBF0A6"/>
<rect x="105.56" y="177.4" width="4.4" height="4.4" fill="#D8A838" stroke="#000" stroke-width="0.9"/>
<circle cx="107.76" cy="179.6" r="1.2" fill="#FBF0A6"/>
<rect x="108.58" y="174.46" width="4.4" height="4.4" fill="#D8A838" stroke="#000" stroke-width="0.9"/>
<circle cx="110.78" cy="176.66" r="1.2" fill="#FBF0A6"/>
<rect x="111.59" y="171.51" width="4.4" height="4.4" fill="#D8A838" stroke="#000" stroke-width="0.9"/>
<circle cx="113.79" cy="173.71" r="1.2" fill="#FBF0A6"/>
<rect x="115.48" y="158.45" width="4.4" height="4.4" fill="#D8A838" stroke="#000" stroke-width="0.9"/>
<circle cx="117.68" cy="160.65" r="1.2" fill="#FBF0A6"/>
<rect x="118.06" y="149.06" width="4.4" height="4.4" fill="#D8A838" stroke="#000" stroke-width="0.9"/>
<circle cx="120.26" cy="151.26" r="1.2" fill="#FBF0A6"/>
<rect x="120.22" y="138.94" width="4.4" height="4.4" fill="#D8A838" stroke="#000" stroke-width="0.9"/>
<circle cx="122.42" cy="141.14" r="1.2" fill="#FBF0A6"/>
<rect x="121.94" y="126.62" width="4.4" height="4.4" fill="#D8A838" stroke="#000" stroke-width="0.9"/>
<circle cx="124.14" cy="128.82" r="1.2" fill="#FBF0A6"/>
<rect x="125.39" y="122.94" width="4.4" height="4.4" fill="#D8A838" stroke="#000" stroke-width="0.9"/>
<circle cx="127.59" cy="125.14" r="1.2" fill="#FBF0A6"/>
<rect x="128.84" y="119.26" width="4.4" height="4.4" fill="#D8A838" stroke="#000" stroke-width="0.9"/>
<circle cx="131.04" cy="121.46" r="1.2" fill="#FBF0A6"/>
<rect x="132.29" y="113.55" width="4.4" height="4.4" fill="#D8A838" stroke="#000" stroke-width="0.9"/>
<circle cx="134.49" cy="115.75" r="1.2" fill="#FBF0A6"/>
<rect x="136.61" y="103.25" width="4.4" height="4.4" fill="#D8A838" stroke="#000" stroke-width="0.9"/>
<circle cx="138.81" cy="105.45" r="1.2" fill="#FBF0A6"/>
<rect x="137.9" y="91.47" width="4.4" height="4.4" fill="#D8A838" stroke="#000" stroke-width="0.9"/>
<circle cx="140.1" cy="93.67" r="1.2" fill="#FBF0A6"/>
<rect x="140.42" y="91.47" width="4.4" height="4.4" fill="#D8A838" stroke="#000" stroke-width="0.9"/>
<circle cx="142.62" cy="93.67" r="1.2" fill="#FBF0A6"/>
<rect x="142.93" y="91.47" width="4.4" height="4.4" fill="#D8A838" stroke="#000" stroke-width="0.9"/>
<circle cx="145.13" cy="93.67" r="1.2" fill="#FBF0A6"/>
<rect x="145.45" y="91.47" width="4.4" height="4.4" fill="#D8A838" stroke="#000" stroke-width="0.9"/>
<circle cx="147.65" cy="93.67" r="1.2" fill="#FBF0A6"/>
<rect x="147.96" y="91.47" width="4.4" height="4.4" fill="#D8A838" stroke="#000" stroke-width="0.9"/>
<circle cx="150.16" cy="93.67" r="1.2" fill="#FBF0A6"/>
<rect x="150.48" y="91.47" width="4.4" height="4.4" fill="#D8A838" stroke="#000" stroke-width="0.9"/>
<circle cx="152.68" cy="93.67" r="1.2" fill="#FBF0A6"/>
<rect x="152.99" y="91.47" width="4.4" height="4.4" fill="#D8A838" stroke="#000" stroke-width="0.9"/>
<circle cx="155.19" cy="93.67" r="1.2" fill="#FBF0A6"/>
<rect x="155.58" y="87.98" width="4.4" height="4.4" fill="#D8A838" stroke="#000" stroke-width="0.9"/>
<circle cx="157.78" cy="90.18" r="1.2" fill="#FBF0A6"/>
<rect x="158.17" y="87.98" width="4.4" height="4.4" fill="#D8A838" stroke="#000" stroke-width="0.9"/>
<circle cx="160.37" cy="90.18" r="1.2" fill="#FBF0A6"/>
<rect x="160.76" y="87.98" width="4.4" height="4.4" fill="#D8A838" stroke="#000" stroke-width="0.9"/>
<circle cx="162.96" cy="90.18" r="1.2" fill="#FBF0A6"/>
<rect x="163.34" y="87.98" width="4.4" height="4.4" fill="#D8A838" stroke="#000" stroke-width="0.9"/>
<circle cx="165.54" cy="90.18" r="1.2" fill="#FBF0A6"/>
<rect x="165.93" y="87.98" width="4.4" height="4.4" fill="#D8A838" stroke="#000" stroke-width="0.9"/>
<circle cx="168.13" cy="90.18" r="1.2" fill="#FBF0A6"/>
<rect x="168.52" y="87.98" width="4.4" height="4.4" fill="#D8A838" stroke="#000" stroke-width="0.9"/>
<circle cx="170.72" cy="90.18" r="1.2" fill="#FBF0A6"/>
<rect x="170.24" y="81.17" width="4.4" height="4.4" fill="#D8A838" stroke="#000" stroke-width="0.9"/>
<circle cx="172.44" cy="83.37" r="1.2" fill="#FBF0A6"/>
<rect x="171.54" y="75.1" width="4.4" height="4.4" fill="#D8A838" stroke="#000" stroke-width="0.9"/>
<circle cx="173.74" cy="77.3" r="1.2" fill="#FBF0A6"/>
<rect x="173.26" y="68.29" width="4.4" height="4.4" fill="#D8A838" stroke="#000" stroke-width="0.9"/>
<circle cx="175.46" cy="70.49" r="1.2" fill="#FBF0A6"/>
<rect x="175.42" y="61.66" width="4.4" height="4.4" fill="#D8A838" stroke="#000" stroke-width="0.9"/>
<circle cx="177.62" cy="63.86" r="1.2" fill="#FBF0A6"/>
<rect x="177.58" y="61.66" width="4.4" height="4.4" fill="#D8A838" stroke="#000" stroke-width="0.9"/>
<circle cx="179.78" cy="63.86" r="1.2" fill="#FBF0A6"/>
<rect x="179.73" y="61.66" width="4.4" height="4.4" fill="#D8A838" stroke="#000" stroke-width="0.9"/>
<circle cx="181.93" cy="63.86" r="1.2" fill="#FBF0A6"/>
<rect x="181.89" y="58.54" width="4.4" height="4.4" fill="#D8A838" stroke="#000" stroke-width="0.9"/>
<circle cx="184.09" cy="60.74" r="1.2" fill="#FBF0A6"/>
<rect x="184.48" y="55.41" width="4.4" height="4.4" fill="#D8A838" stroke="#000" stroke-width="0.9"/>
<circle cx="186.68" cy="57.61" r="1.2" fill="#FBF0A6"/>
<rect x="189.22" y="52.28" width="4.4" height="4.4" fill="#D8A838" stroke="#000" stroke-width="0.9"/>
<circle cx="191.42" cy="54.48" r="1.2" fill="#FBF0A6"/>
<rect x="191.38" y="44.92" width="4.4" height="4.4" fill="#D8A838" stroke="#000" stroke-width="0.9"/>
<circle cx="193.57" cy="47.12" r="1.2" fill="#FBF0A6"/>
<rect x="194.39" y="42.34" width="4.4" height="4.4" fill="#D8A838" stroke="#000" stroke-width="0.9"/>
<circle cx="196.59" cy="44.54" r="1.2" fill="#FBF0A6"/>
<rect x="196.62" y="42.34" width="4.4" height="4.4" fill="#D8A838" stroke="#000" stroke-width="0.9"/>
<circle cx="198.82" cy="44.54" r="1.2" fill="#FBF0A6"/>
<rect x="198.85" y="42.34" width="4.4" height="4.4" fill="#D8A838" stroke="#000" stroke-width="0.9"/>
<circle cx="201.05" cy="44.54" r="1.2" fill="#FBF0A6"/>
<rect x="201.08" y="42.34" width="4.4" height="4.4" fill="#D8A838" stroke="#000" stroke-width="0.9"/>
<circle cx="203.28" cy="44.54" r="1.2" fill="#FBF0A6"/>
<rect x="203.31" y="42.34" width="4.4" height="4.4" fill="#D8A838" stroke="#000" stroke-width="0.9"/>
<circle cx="205.51" cy="44.54" r="1.2" fill="#FBF0A6"/>
<rect x="205.53" y="42.34" width="4.4" height="4.4" fill="#D8A838" stroke="#000" stroke-width="0.9"/>
<circle cx="207.73" cy="44.54" r="1.2" fill="#FBF0A6"/>
<rect x="207.76" y="42.34" width="4.4" height="4.4" fill="#D8A838" stroke="#000" stroke-width="0.9"/>
<circle cx="209.96" cy="44.54" r="1.2" fill="#FBF0A6"/>
<rect x="209.92" y="39.4" width="4.4" height="4.4" fill="#D8A838" stroke="#000" stroke-width="0.9"/>
<circle cx="212.12" cy="41.6" r="1.2" fill="#FBF0A6"/>
<rect x="212.51" y="36.27" width="4.4" height="4.4" fill="#D8A838" stroke="#000" stroke-width="0.9"/>
<circle cx="214.71" cy="38.47" r="1.2" fill="#FBF0A6"/>
<path d="M83.17 206.63V214.03M79.97 206.63H86.38M79.97 214.03H86.38M87.06 199.64V210.34M83.86 199.64H90.26M83.86 210.34H90.26M89.64 187.82V199.72M86.44 187.82H92.84M86.44 199.72H92.84M91.8 184.5V192.36M88.6 184.5H95M88.6 192.36H95M94.39 182.8V189.28M91.19 182.8H97.59M91.19 189.28H97.59M96.54 177.84V187.25M93.34 177.84H99.74M93.34 187.25H99.74M98.27 171.69V183.83M95.07 171.69H101.47M95.07 183.83H101.47M100.86 159.38V173.69M97.66 159.38H104.06M97.66 173.69H104.06M103.44 151.13V161.7M100.24 151.13H106.64M100.24 161.7H106.64M106.03 147.68V156.32M102.83 147.68H109.23M102.83 156.32H109.23M108.62 138.89V151.87M105.42 138.89H111.82M105.42 151.87H111.82M110.78 127.61V143.27M107.58 127.61H113.98M107.58 143.27H113.98M112.93 116.93V130.4M109.73 116.93H116.13M109.73 130.4H116.13M115.09 113.76V124M111.89 113.76H118.29M111.89 124H118.29M117.24 108.44V116.81M114.04 108.44H120.44M114.04 116.81H120.44M121.12 102.9V112.41M117.92 102.9H124.33M117.92 112.41H124.33M124.14 91.05V102.55M120.94 91.05H127.34M120.94 102.55H127.34M126.3 86.16V95.66M123.1 86.16H129.5M123.1 95.66H129.5M128.46 82.73V88.79M125.26 82.73H131.66M125.26 88.79H131.66M131.47 82.04V89.48M128.28 82.04H134.67M128.28 89.48H134.67M134.49 71.12V79.8M131.29 71.12H137.69M131.29 79.8H137.69M136.65 70.64V76.96M133.45 70.64H139.85M133.45 76.96H139.85M139.24 66.71V73.53M136.04 66.71H142.44M136.04 73.53H142.44M143.12 58.81V69.28M139.92 58.81H146.32M139.92 69.28H146.32M144.84 49.25V58.24M141.64 49.25H148.04M141.64 58.24H148.04M147.43 52.46V55.03M144.23 52.46H150.63M144.23 55.03H150.63M150.02 52.46V55.03M146.82 52.46H153.22M146.82 55.03H153.22M152.61 52.46V55.03M149.41 52.46H155.81M149.41 55.03H155.81M155.19 52.46V55.03M151.99 52.46H158.39M151.99 55.03H158.39M157.78 49.32V58.17M154.58 49.32H160.98M154.58 58.17H160.98M158.64 37.91V46.76M155.44 37.91H161.84M155.44 46.76H161.84M161.23 41.05V43.62M158.03 41.05H164.43M158.03 43.62H164.43M163.82 41.05V43.62M160.62 41.05H167.02M160.62 43.62H167.02M166.41 41.05V43.62M163.21 41.05H169.61M163.21 43.62H169.61M168.99 41.05V43.62M165.79 41.05H172.19M165.79 43.62H172.19M171.58 39.68V44.99M168.38 39.68H174.78M168.38 44.99H174.78M172.88 34.71V40.02M169.68 34.71H176.07M169.68 40.02H176.07M175.32 35.93V38.81M172.12 35.93H178.52M172.12 38.81H178.52M177.76 35.97V38.77M174.56 35.97H180.96M174.56 38.77H180.96M180.21 34.71V40.02M177.01 34.71H183.41M177.01 40.02H183.41M181.93 31.3V34.98M178.73 34.98H185.13M184.36 31.3V34.98M181.16 34.98H187.56M186.8 31.3V34.98M183.6 34.98H190M189.23 31.3V34.98M186.03 34.98H192.43M191.67 31.3V34.98M188.47 34.98H194.87M194.1 31.3V34.98M190.9 34.98H197.3M196.53 31.3V34.98M193.33 34.98H199.73M198.97 31.3V34.98M195.77 34.98H202.17M201.4 31.3V34.98M198.2 34.98H204.6M203.83 31.3V34.98M200.63 34.98H207.03M206.27 31.3V34.98M203.07 34.98H209.47M208.7 31.3V34.98M205.5 34.98H211.9M211.13 31.3V34.98M207.93 34.98H214.33M213.57 31.3V34.98M210.37 34.98H216.77M216 31.3V34.98M212.8 34.98H219.2" stroke="#000" stroke-width="0.9" fill="none"/>
<path d="M49.11 215.5L51.49 215.5L53.88 215.5L56.27 215.5L58.66 215.5L61.05 215.5L63.44 215.5L65.83 215.5L68.21 215.5L70.6 215.5L72.99 215.5L75.38 215.5L77.77 215.5L80.16 215.5L83.17 210.33L87.06 204.99L89.64 193.77L91.8 188.43L94.39 186.04L96.54 182.54L98.27 177.76L100.86 166.54L103.44 156.42L106.03 152L108.62 145.38L110.78 135.44L112.93 123.66L115.09 118.88L117.24 112.62L121.12 107.66L124.14 96.8L126.3 90.91L128.46 85.76L131.47 85.76L134.49 75.46L136.65 73.8L139.24 70.12L143.12 64.05L144.84 53.74L147.43 53.74L150.02 53.74L152.61 53.74L155.19 53.74L157.78 53.74L158.64 42.34L161.23 42.34L163.82 42.34L166.41 42.34L168.99 42.34L171.58 42.34L172.88 37.37L175.32 37.37L177.76 37.37L180.21 37.37L181.93 31.3L184.36 31.3L186.8 31.3L189.23 31.3L191.67 31.3L194.1 31.3L196.53 31.3L198.97 31.3L201.4 31.3L203.83 31.3L206.27 31.3L208.7 31.3L211.13 31.3L213.57 31.3L216 31.3" stroke="#000" stroke-width="0.9" fill="none"/>
<rect x="46.91" y="213.3" width="4.4" height="4.4" fill="#128A47" stroke="#000" stroke-width="0.9"/>
<circle cx="49.11" cy="215.5" r="1.35" fill="#B4F2D4"/>
<rect x="49.29" y="213.3" width="4.4" height="4.4" fill="#128A47" stroke="#000" stroke-width="0.9"/>
<circle cx="51.49" cy="215.5" r="1.35" fill="#B4F2D4"/>
<rect x="51.68" y="213.3" width="4.4" height="4.4" fill="#128A47" stroke="#000" stroke-width="0.9"/>
<circle cx="53.88" cy="215.5" r="1.35" fill="#B4F2D4"/>
<rect x="54.07" y="213.3" width="4.4" height="4.4" fill="#128A47" stroke="#000" stroke-width="0.9"/>
<circle cx="56.27" cy="215.5" r="1.35" fill="#B4F2D4"/>
<rect x="56.46" y="213.3" width="4.4" height="4.4" fill="#128A47" stroke="#000" stroke-width="0.9"/>
<circle cx="58.66" cy="215.5" r="1.35" fill="#B4F2D4"/>
<rect x="58.85" y="213.3" width="4.4" height="4.4" fill="#128A47" stroke="#000" stroke-width="0.9"/>
<circle cx="61.05" cy="215.5" r="1.35" fill="#B4F2D4"/>
<rect x="61.24" y="213.3" width="4.4" height="4.4" fill="#128A47" stroke="#000" stroke-width="0.9"/>
<circle cx="63.44" cy="215.5" r="1.35" fill="#B4F2D4"/>
<rect x="63.63" y="213.3" width="4.4" height="4.4" fill="#128A47" stroke="#000" stroke-width="0.9"/>
<circle cx="65.83" cy="215.5" r="1.35" fill="#B4F2D4"/>
<rect x="66.01" y="213.3" width="4.4" height="4.4" fill="#128A47" stroke="#000" stroke-width="0.9"/>
<circle cx="68.21" cy="215.5" r="1.35" fill="#B4F2D4"/>
<rect x="68.4" y="213.3" width="4.4" height="4.4" fill="#128A47" stroke="#000" stroke-width="0.9"/>
<circle cx="70.6" cy="215.5" r="1.35" fill="#B4F2D4"/>
<rect x="70.79" y="213.3" width="4.4" height="4.4" fill="#128A47" stroke="#000" stroke-width="0.9"/>
<circle cx="72.99" cy="215.5" r="1.35" fill="#B4F2D4"/>
<rect x="73.18" y="213.3" width="4.4" height="4.4" fill="#128A47" stroke="#000" stroke-width="0.9"/>
<circle cx="75.38" cy="215.5" r="1.35" fill="#B4F2D4"/>
<rect x="75.57" y="213.3" width="4.4" height="4.4" fill="#128A47" stroke="#000" stroke-width="0.9"/>
<circle cx="77.77" cy="215.5" r="1.35" fill="#B4F2D4"/>
<rect x="77.96" y="213.3" width="4.4" height="4.4" fill="#128A47" stroke="#000" stroke-width="0.9"/>
<circle cx="80.16" cy="215.5" r="1.35" fill="#B4F2D4"/>
<rect x="80.97" y="208.13" width="4.4" height="4.4" fill="#128A47" stroke="#000" stroke-width="0.9"/>
<circle cx="83.17" cy="210.33" r="1.35" fill="#B4F2D4"/>
<rect x="84.86" y="202.79" width="4.4" height="4.4" fill="#128A47" stroke="#000" stroke-width="0.9"/>
<circle cx="87.06" cy="204.99" r="1.35" fill="#B4F2D4"/>
<rect x="87.44" y="191.57" width="4.4" height="4.4" fill="#128A47" stroke="#000" stroke-width="0.9"/>
<circle cx="89.64" cy="193.77" r="1.35" fill="#B4F2D4"/>
<rect x="89.6" y="186.23" width="4.4" height="4.4" fill="#128A47" stroke="#000" stroke-width="0.9"/>
<circle cx="91.8" cy="188.43" r="1.35" fill="#B4F2D4"/>
<rect x="92.19" y="183.84" width="4.4" height="4.4" fill="#128A47" stroke="#000" stroke-width="0.9"/>
<circle cx="94.39" cy="186.04" r="1.35" fill="#B4F2D4"/>
<rect x="94.34" y="180.34" width="4.4" height="4.4" fill="#128A47" stroke="#000" stroke-width="0.9"/>
<circle cx="96.54" cy="182.54" r="1.35" fill="#B4F2D4"/>
<rect x="96.07" y="175.56" width="4.4" height="4.4" fill="#128A47" stroke="#000" stroke-width="0.9"/>
<circle cx="98.27" cy="177.76" r="1.35" fill="#B4F2D4"/>
<rect x="98.66" y="164.34" width="4.4" height="4.4" fill="#128A47" stroke="#000" stroke-width="0.9"/>
<circle cx="100.86" cy="166.54" r="1.35" fill="#B4F2D4"/>
<rect x="101.24" y="154.22" width="4.4" height="4.4" fill="#128A47" stroke="#000" stroke-width="0.9"/>
<circle cx="103.44" cy="156.42" r="1.35" fill="#B4F2D4"/>
<rect x="103.83" y="149.8" width="4.4" height="4.4" fill="#128A47" stroke="#000" stroke-width="0.9"/>
<circle cx="106.03" cy="152" r="1.35" fill="#B4F2D4"/>
<rect x="106.42" y="143.18" width="4.4" height="4.4" fill="#128A47" stroke="#000" stroke-width="0.9"/>
<circle cx="108.62" cy="145.38" r="1.35" fill="#B4F2D4"/>
<rect x="108.58" y="133.24" width="4.4" height="4.4" fill="#128A47" stroke="#000" stroke-width="0.9"/>
<circle cx="110.78" cy="135.44" r="1.35" fill="#B4F2D4"/>
<rect x="110.73" y="121.46" width="4.4" height="4.4" fill="#128A47" stroke="#000" stroke-width="0.9"/>
<circle cx="112.93" cy="123.66" r="1.35" fill="#B4F2D4"/>
<rect x="112.89" y="116.68" width="4.4" height="4.4" fill="#128A47" stroke="#000" stroke-width="0.9"/>
<circle cx="115.09" cy="118.88" r="1.35" fill="#B4F2D4"/>
<rect x="115.04" y="110.42" width="4.4" height="4.4" fill="#128A47" stroke="#000" stroke-width="0.9"/>
<circle cx="117.24" cy="112.62" r="1.35" fill="#B4F2D4"/>
<rect x="118.92" y="105.46" width="4.4" height="4.4" fill="#128A47" stroke="#000" stroke-width="0.9"/>
<circle cx="121.12" cy="107.66" r="1.35" fill="#B4F2D4"/>
<rect x="121.94" y="94.6" width="4.4" height="4.4" fill="#128A47" stroke="#000" stroke-width="0.9"/>
<circle cx="124.14" cy="96.8" r="1.35" fill="#B4F2D4"/>
<rect x="124.1" y="88.71" width="4.4" height="4.4" fill="#128A47" stroke="#000" stroke-width="0.9"/>
<circle cx="126.3" cy="90.91" r="1.35" fill="#B4F2D4"/>
<rect x="126.26" y="83.56" width="4.4" height="4.4" fill="#128A47" stroke="#000" stroke-width="0.9"/>
<circle cx="128.46" cy="85.76" r="1.35" fill="#B4F2D4"/>
<rect x="129.28" y="83.56" width="4.4" height="4.4" fill="#128A47" stroke="#000" stroke-width="0.9"/>
<circle cx="131.47" cy="85.76" r="1.35" fill="#B4F2D4"/>
<rect x="132.29" y="73.26" width="4.4" height="4.4" fill="#128A47" stroke="#000" stroke-width="0.9"/>
<circle cx="134.49" cy="75.46" r="1.35" fill="#B4F2D4"/>
<rect x="134.45" y="71.6" width="4.4" height="4.4" fill="#128A47" stroke="#000" stroke-width="0.9"/>
<circle cx="136.65" cy="73.8" r="1.35" fill="#B4F2D4"/>
<rect x="137.04" y="67.92" width="4.4" height="4.4" fill="#128A47" stroke="#000" stroke-width="0.9"/>
<circle cx="139.24" cy="70.12" r="1.35" fill="#B4F2D4"/>
<rect x="140.92" y="61.85" width="4.4" height="4.4" fill="#128A47" stroke="#000" stroke-width="0.9"/>
<circle cx="143.12" cy="64.05" r="1.35" fill="#B4F2D4"/>
<rect x="142.64" y="51.54" width="4.4" height="4.4" fill="#128A47" stroke="#000" stroke-width="0.9"/>
<circle cx="144.84" cy="53.74" r="1.35" fill="#B4F2D4"/>
<rect x="145.23" y="51.54" width="4.4" height="4.4" fill="#128A47" stroke="#000" stroke-width="0.9"/>
<circle cx="147.43" cy="53.74" r="1.35" fill="#B4F2D4"/>
<rect x="147.82" y="51.54" width="4.4" height="4.4" fill="#128A47" stroke="#000" stroke-width="0.9"/>
<circle cx="150.02" cy="53.74" r="1.35" fill="#B4F2D4"/>
<rect x="150.41" y="51.54" width="4.4" height="4.4" fill="#128A47" stroke="#000" stroke-width="0.9"/>
<circle cx="152.61" cy="53.74" r="1.35" fill="#B4F2D4"/>
<rect x="152.99" y="51.54" width="4.4" height="4.4" fill="#128A47" stroke="#000" stroke-width="0.9"/>
<circle cx="155.19" cy="53.74" r="1.35" fill="#B4F2D4"/>
<rect x="155.58" y="51.54" width="4.4" height="4.4" fill="#128A47" stroke="#000" stroke-width="0.9"/>
<circle cx="157.78" cy="53.74" r="1.35" fill="#B4F2D4"/>
<rect x="156.44" y="40.14" width="4.4" height="4.4" fill="#128A47" stroke="#000" stroke-width="0.9"/>
<circle cx="158.64" cy="42.34" r="1.35" fill="#B4F2D4"/>
<rect x="159.03" y="40.14" width="4.4" height="4.4" fill="#128A47" stroke="#000" stroke-width="0.9"/>
<circle cx="161.23" cy="42.34" r="1.35" fill="#B4F2D4"/>
<rect x="161.62" y="40.14" width="4.4" height="4.4" fill="#128A47" stroke="#000" stroke-width="0.9"/>
<circle cx="163.82" cy="42.34" r="1.35" fill="#B4F2D4"/>
<rect x="164.21" y="40.14" width="4.4" height="4.4" fill="#128A47" stroke="#000" stroke-width="0.9"/>
<circle cx="166.41" cy="42.34" r="1.35" fill="#B4F2D4"/>
<rect x="166.79" y="40.14" width="4.4" height="4.4" fill="#128A47" stroke="#000" stroke-width="0.9"/>
<circle cx="168.99" cy="42.34" r="1.35" fill="#B4F2D4"/>
<rect x="169.38" y="40.14" width="4.4" height="4.4" fill="#128A47" stroke="#000" stroke-width="0.9"/>
<circle cx="171.58" cy="42.34" r="1.35" fill="#B4F2D4"/>
<rect x="170.68" y="35.17" width="4.4" height="4.4" fill="#128A47" stroke="#000" stroke-width="0.9"/>
<circle cx="172.88" cy="37.37" r="1.35" fill="#B4F2D4"/>
<rect x="173.12" y="35.17" width="4.4" height="4.4" fill="#128A47" stroke="#000" stroke-width="0.9"/>
<circle cx="175.32" cy="37.37" r="1.35" fill="#B4F2D4"/>
<rect x="175.56" y="35.17" width="4.4" height="4.4" fill="#128A47" stroke="#000" stroke-width="0.9"/>
<circle cx="177.76" cy="37.37" r="1.35" fill="#B4F2D4"/>
<rect x="178.01" y="35.17" width="4.4" height="4.4" fill="#128A47" stroke="#000" stroke-width="0.9"/>
<circle cx="180.21" cy="37.37" r="1.35" fill="#B4F2D4"/>
<rect x="179.73" y="29.1" width="4.4" height="4.4" fill="#128A47" stroke="#000" stroke-width="0.9"/>
<circle cx="181.93" cy="31.3" r="1.35" fill="#B4F2D4"/>
<rect x="182.16" y="29.1" width="4.4" height="4.4" fill="#128A47" stroke="#000" stroke-width="0.9"/>
<circle cx="184.36" cy="31.3" r="1.35" fill="#B4F2D4"/>
<rect x="184.6" y="29.1" width="4.4" height="4.4" fill="#128A47" stroke="#000" stroke-width="0.9"/>
<circle cx="186.8" cy="31.3" r="1.35" fill="#B4F2D4"/>
<rect x="187.03" y="29.1" width="4.4" height="4.4" fill="#128A47" stroke="#000" stroke-width="0.9"/>
<circle cx="189.23" cy="31.3" r="1.35" fill="#B4F2D4"/>
<rect x="189.47" y="29.1" width="4.4" height="4.4" fill="#128A47" stroke="#000" stroke-width="0.9"/>
<circle cx="191.67" cy="31.3" r="1.35" fill="#B4F2D4"/>
<rect x="191.9" y="29.1" width="4.4" height="4.4" fill="#128A47" stroke="#000" stroke-width="0.9"/>
<circle cx="194.1" cy="31.3" r="1.35" fill="#B4F2D4"/>
<rect x="194.33" y="29.1" width="4.4" height="4.4" fill="#128A47" stroke="#000" stroke-width="0.9"/>
<circle cx="196.53" cy="31.3" r="1.35" fill="#B4F2D4"/>
<rect x="196.77" y="29.1" width="4.4" height="4.4" fill="#128A47" stroke="#000" stroke-width="0.9"/>
<circle cx="198.97" cy="31.3" r="1.35" fill="#B4F2D4"/>
<rect x="199.2" y="29.1" width="4.4" height="4.4" fill="#128A47" stroke="#000" stroke-width="0.9"/>
<circle cx="201.4" cy="31.3" r="1.35" fill="#B4F2D4"/>
<rect x="201.63" y="29.1" width="4.4" height="4.4" fill="#128A47" stroke="#000" stroke-width="0.9"/>
<circle cx="203.83" cy="31.3" r="1.35" fill="#B4F2D4"/>
<rect x="204.07" y="29.1" width="4.4" height="4.4" fill="#128A47" stroke="#000" stroke-width="0.9"/>
<circle cx="206.27" cy="31.3" r="1.35" fill="#B4F2D4"/>
<rect x="206.5" y="29.1" width="4.4" height="4.4" fill="#128A47" stroke="#000" stroke-width="0.9"/>
<circle cx="208.7" cy="31.3" r="1.35" fill="#B4F2D4"/>
<rect x="208.93" y="29.1" width="4.4" height="4.4" fill="#128A47" stroke="#000" stroke-width="0.9"/>
<circle cx="211.13" cy="31.3" r="1.35" fill="#B4F2D4"/>
<rect x="211.37" y="29.1" width="4.4" height="4.4" fill="#128A47" stroke="#000" stroke-width="0.9"/>
<circle cx="213.57" cy="31.3" r="1.35" fill="#B4F2D4"/>
<rect x="213.8" y="29.1" width="4.4" height="4.4" fill="#128A47" stroke="#000" stroke-width="0.9"/>
<circle cx="216" cy="31.3" r="1.35" fill="#B4F2D4"/>
<line x1="130.1" y1="165.5" x2="156.4" y2="165.5" stroke="#111" stroke-width="1"/>
<circle cx="142.8" cy="165.5" r="1.9" fill="#F2B200" stroke="#000" stroke-width="0.9"/>
<text x="159.3" y="169.4" font-size="11">WT Control</text>
<line x1="130.1" y1="179.5" x2="156.4" y2="179.5" stroke="#111" stroke-width="1"/>
<circle cx="142.8" cy="179.5" r="1.9" fill="#07A04C" stroke="#000" stroke-width="0.9"/>
<text x="160.5" y="183.4" font-size="11"><tspan font-style="italic">etr1b</tspan> Control</text>
<line x1="130.1" y1="193.6" x2="156.4" y2="193.6" stroke="#111" stroke-width="1"/>
<rect x="140.8" y="191.6" width="4" height="4" fill="#D8A838" stroke="#000" stroke-width="0.9"/>
<circle cx="142.8" cy="193.6" r="1.2" fill="#FBF0A6"/>
<text x="159.3" y="197.5" font-size="11">WT NaCl</text>
<line x1="130.1" y1="207.5" x2="156.4" y2="207.5" stroke="#111" stroke-width="1"/>
<rect x="140.7" y="205.4" width="4.2" height="4.2" fill="#86D9AC" stroke="#000" stroke-width="0.9"/>
<path d="M141.7 206.4L143.9 208.6M141.7 208.6L143.9 206.4" stroke="#F2FFF8" stroke-width="0.7"/>
<text x="160.5" y="211.4" font-size="11"><tspan font-style="italic">etr1b</tspan> NaCl</text>
<path d="M271.5 216.9V33.3M266.3 216.4H276.1M271.5 212.74H274.9M271.5 209.08H274.9M271.5 205.41H274.9M271.5 201.75H274.9M266.3 198.09H276.1M271.5 194.43H274.9M271.5 190.77H274.9M271.5 187.1H274.9M271.5 183.44H274.9M266.3 179.78H276.1M271.5 176.12H274.9M271.5 172.46H274.9M271.5 168.79H274.9M271.5 165.13H274.9M266.3 161.47H276.1M271.5 157.81H274.9M271.5 154.15H274.9M271.5 150.48H274.9M271.5 146.82H274.9M266.3 143.16H276.1M271.5 139.5H274.9M271.5 135.84H274.9M271.5 132.17H274.9M271.5 128.51H274.9M266.3 124.85H276.1M271.5 121.19H274.9M271.5 117.53H274.9M271.5 113.86H274.9M271.5 110.2H274.9M266.3 106.54H276.1M271.5 102.88H274.9M271.5 99.22H274.9M271.5 95.55H274.9M271.5 91.89H274.9M266.3 88.23H276.1M271.5 84.57H274.9M271.5 80.91H274.9M271.5 77.24H274.9M271.5 73.58H274.9M266.3 69.92H276.1M271.5 66.26H274.9M271.5 62.6H274.9M271.5 58.93H274.9M271.5 55.27H274.9M266.3 51.61H276.1M271.5 47.95H274.9M271.5 44.29H274.9M271.5 40.62H274.9M271.5 36.96H274.9M266.3 33.3H276.1M266.3 216.4H449.1M271.5 216.4V220.6M280.38 216.4V220.6M289.26 216.4V220.6M298.14 216.4V220.6M307.02 216.4V220.6M315.9 216.4V220.6M324.78 216.4V220.6M333.66 216.4V220.6M342.54 216.4V220.6M351.42 216.4V220.6M360.3 216.4V220.6M369.18 216.4V220.6M378.06 216.4V220.6M386.94 216.4V220.6M395.82 216.4V220.6M404.7 216.4V220.6M413.58 216.4V220.6M422.46 216.4V220.6M431.34 216.4V220.6M440.22 216.4V220.6M449.1 216.4V220.6M271.5 216.4V221.6M315.9 216.4V221.6M360.3 216.4V221.6M404.7 216.4V221.6M449.1 216.4V221.6" stroke="#111" stroke-width="1" fill="none"/>
<text transform="translate(258.9,221.55) scale(0.85,1)" font-size="14.4" text-anchor="end">0</text>
<text transform="translate(258.9,203.24) scale(0.85,1)" font-size="14.4" text-anchor="end">10</text>
<text transform="translate(258.9,184.93) scale(0.85,1)" font-size="14.4" text-anchor="end">20</text>
<text transform="translate(258.9,166.62) scale(0.85,1)" font-size="14.4" text-anchor="end">30</text>
<text transform="translate(258.9,148.31) scale(0.85,1)" font-size="14.4" text-anchor="end">40</text>
<text transform="translate(258.9,130) scale(0.85,1)" font-size="14.4" text-anchor="end">50</text>
<text transform="translate(258.9,111.69) scale(0.85,1)" font-size="14.4" text-anchor="end">60</text>
<text transform="translate(258.9,93.38) scale(0.85,1)" font-size="14.4" text-anchor="end">70</text>
<text transform="translate(258.9,75.07) scale(0.85,1)" font-size="14.4" text-anchor="end">80</text>
<text transform="translate(258.9,56.76) scale(0.85,1)" font-size="14.4" text-anchor="end">90</text>
<text transform="translate(258.9,38.45) scale(0.85,1)" font-size="14.4" text-anchor="end">100</text>
<text transform="translate(271.5,241.9) scale(0.85,1)" font-size="14.4" text-anchor="middle">15</text>
<text transform="translate(315.9,241.9) scale(0.85,1)" font-size="14.4" text-anchor="middle">25</text>
<text transform="translate(360.3,241.9) scale(0.85,1)" font-size="14.4" text-anchor="middle">35</text>
<text transform="translate(404.7,241.9) scale(0.85,1)" font-size="14.4" text-anchor="middle">45</text>
<text transform="translate(449.1,241.9) scale(0.85,1)" font-size="14.4" text-anchor="middle">55</text>
<path d="M291.92 206.25V212.64M288.72 206.25H295.12M288.72 212.64H295.12M294.14 207.68V211.2M290.94 207.68H297.34M290.94 211.2H297.34M296.36 208.16V210.72M293.16 208.16H299.56M293.16 210.72H299.56M298.58 206.52V212.36M295.38 206.52H301.78M295.38 212.36H301.78M300.8 204.89V214M297.6 204.89H304M297.6 214H304M301.69 192.99V202.1M298.49 192.99H304.89M298.49 202.1H304.89M304.06 195.17V199.91M300.86 195.17H307.26M300.86 199.91H307.26M306.43 195.68V199.4M303.23 195.68H309.63M303.23 199.4H309.63M308.8 192.98V202.1M305.6 192.98H312M305.6 202.1H312M310.13 182.8V193.24M306.93 182.8H313.33M306.93 193.24H313.33M313.68 176.89V186.33M310.48 176.89H316.88M310.48 186.33H316.88M316.34 166.11V181.74M313.14 166.11H319.54M313.14 181.74H319.54M319.9 145.51V159.48M316.7 145.51H323.1M316.7 159.48H323.1M323.45 143.71V148.84M320.25 143.71H326.65M320.25 148.84H326.65M325.45 144.33V148.22M322.25 144.33H328.65M322.25 148.22H328.65M327.44 143.63V148.91M324.24 143.63H330.64M324.24 148.91H330.64M330.11 138.31V144.35M326.91 138.31H333.31M326.91 144.35H333.31M335.44 132.87V144.3M332.24 132.87H338.64M332.24 144.3H338.64M336.77 121.31V134.62M333.57 121.31H339.97M333.57 134.62H339.97M339.43 110.64V128.81M336.23 110.64H342.63M336.23 128.81H342.63M341.65 91.94V108.69M338.45 91.94H344.85M338.45 108.69H344.85M343.87 91.19V102.11M340.67 91.19H347.07M340.67 102.11H347.07M346.09 85.09V94.66M342.89 85.09H349.29M342.89 94.66H349.29M347.87 81.97V90.83M344.67 81.97H351.07M344.67 90.83H351.07M352.31 73.78V81.44M349.11 73.78H355.51M349.11 81.44H355.51M355.86 68.49V76.11M352.66 68.49H359.06M352.66 76.11H359.06M357.64 65.92V73.55M354.44 65.92H360.84M354.44 73.55H360.84M359.41 61.33V67.52M356.21 61.33H362.61M356.21 67.52H362.61M361.73 62.86V65.99M358.53 62.86H364.93M358.53 65.99H364.93M364.05 63.15V65.71M360.85 63.15H367.25M360.85 65.71H367.25M366.37 63.15V65.71M363.17 63.15H369.57M363.17 65.71H369.57M368.69 63.15V65.71M365.49 63.15H371.89M365.49 65.71H371.89M371.01 63.15V65.71M367.81 63.15H374.21M367.81 65.71H374.21M373.32 63.15V65.71M370.12 63.15H376.52M370.12 65.71H376.52M375.64 63.15V65.71M372.44 63.15H378.84M372.44 65.71H378.84M377.96 63.03V65.83M374.76 63.03H381.16M374.76 65.83H381.16M380.28 62.24V66.62M377.08 62.24H383.48M377.08 66.62H383.48M383.83 57.13V62.94M380.63 57.13H387.03M380.63 62.94H387.03M387.38 54.55V58.55M384.18 54.55H390.58M384.18 58.55H390.58M390.05 55.27V57.84M386.85 55.27H393.25M386.85 57.84H393.25M392.71 54.74V58.36M389.51 54.74H395.91M389.51 58.36H395.91M396.26 51.21V56.77M393.06 51.21H399.46M393.06 56.77H399.46M400.26 46.17V51.19M397.06 46.17H403.46M397.06 51.19H403.46M405.59 44.41V49.29M402.39 44.41H408.79M402.39 49.29H408.79M409.14 40.07V44.84M405.94 40.07H412.34M405.94 44.84H412.34M411.21 40.08V43.73M408.01 40.08H414.41M408.01 43.73H414.41M413.28 38.81V43.9M410.08 38.81H416.48M410.08 43.9H416.48M415.36 37.27V44.35M412.16 37.27H418.56M412.16 44.35H418.56" stroke="#000" stroke-width="0.9" fill="none"/>
<path d="M280.38 215.5L282.82 215.5L285.26 215.5L287.71 215.5L290.15 215.5L291.92 209.44L294.14 209.44L296.36 209.44L298.58 209.44L300.8 209.44L301.69 197.54L304.06 197.54L306.43 197.54L308.8 197.54L310.13 188.02L313.68 181.61L316.34 173.92L319.9 152.5L323.45 146.27L325.45 146.27L327.44 146.27L330.11 141.33L335.44 138.58L336.77 127.96L339.43 119.72L341.65 100.31L343.87 96.65L346.09 89.88L347.87 86.4L352.31 77.61L355.86 72.3L357.64 69.74L359.41 64.43L361.73 64.43L364.05 64.43L366.37 64.43L368.69 64.43L371.01 64.43L373.32 64.43L375.64 64.43L377.96 64.43L380.28 64.43L383.83 60.03L387.38 56.55L390.05 56.55L392.71 56.55L396.26 53.99L400.26 48.68L405.59 46.85L409.14 42.46L411.21 41.91L413.28 41.36L415.36 40.81L416.69 32.2L419.18 32.2L421.67 32.2L424.17 32.2L426.66 32.2L429.15 32.2L431.65 32.2L434.14 32.2L436.63 32.2L439.13 32.2L441.62 32.2L444.11 32.2L446.61 32.2L449.1 32.2" stroke="#000" stroke-width="0.9" fill="none"/>
<circle cx="280.38" cy="215.5" r="2.15" fill="#F2B200" stroke="#000" stroke-width="0.9"/>
<circle cx="282.82" cy="215.5" r="2.15" fill="#F2B200" stroke="#000" stroke-width="0.9"/>
<circle cx="285.26" cy="215.5" r="2.15" fill="#F2B200" stroke="#000" stroke-width="0.9"/>
<circle cx="287.71" cy="215.5" r="2.15" fill="#F2B200" stroke="#000" stroke-width="0.9"/>
<circle cx="290.15" cy="215.5" r="2.15" fill="#F2B200" stroke="#000" stroke-width="0.9"/>
<circle cx="291.92" cy="209.44" r="2.15" fill="#F2B200" stroke="#000" stroke-width="0.9"/>
<circle cx="294.14" cy="209.44" r="2.15" fill="#F2B200" stroke="#000" stroke-width="0.9"/>
<circle cx="296.36" cy="209.44" r="2.15" fill="#F2B200" stroke="#000" stroke-width="0.9"/>
<circle cx="298.58" cy="209.44" r="2.15" fill="#F2B200" stroke="#000" stroke-width="0.9"/>
<circle cx="300.8" cy="209.44" r="2.15" fill="#F2B200" stroke="#000" stroke-width="0.9"/>
<circle cx="301.69" cy="197.54" r="2.15" fill="#F2B200" stroke="#000" stroke-width="0.9"/>
<circle cx="304.06" cy="197.54" r="2.15" fill="#F2B200" stroke="#000" stroke-width="0.9"/>
<circle cx="306.43" cy="197.54" r="2.15" fill="#F2B200" stroke="#000" stroke-width="0.9"/>
<circle cx="308.8" cy="197.54" r="2.15" fill="#F2B200" stroke="#000" stroke-width="0.9"/>
<circle cx="310.13" cy="188.02" r="2.15" fill="#F2B200" stroke="#000" stroke-width="0.9"/>
<circle cx="313.68" cy="181.61" r="2.15" fill="#F2B200" stroke="#000" stroke-width="0.9"/>
<circle cx="316.34" cy="173.92" r="2.15" fill="#F2B200" stroke="#000" stroke-width="0.9"/>
<circle cx="319.9" cy="152.5" r="2.15" fill="#F2B200" stroke="#000" stroke-width="0.9"/>
<circle cx="323.45" cy="146.27" r="2.15" fill="#F2B200" stroke="#000" stroke-width="0.9"/>
<circle cx="325.45" cy="146.27" r="2.15" fill="#F2B200" stroke="#000" stroke-width="0.9"/>
<circle cx="327.44" cy="146.27" r="2.15" fill="#F2B200" stroke="#000" stroke-width="0.9"/>
<circle cx="330.11" cy="141.33" r="2.15" fill="#F2B200" stroke="#000" stroke-width="0.9"/>
<circle cx="335.44" cy="138.58" r="2.15" fill="#F2B200" stroke="#000" stroke-width="0.9"/>
<circle cx="336.77" cy="127.96" r="2.15" fill="#F2B200" stroke="#000" stroke-width="0.9"/>
<circle cx="339.43" cy="119.72" r="2.15" fill="#F2B200" stroke="#000" stroke-width="0.9"/>
<circle cx="341.65" cy="100.31" r="2.15" fill="#F2B200" stroke="#000" stroke-width="0.9"/>
<circle cx="343.87" cy="96.65" r="2.15" fill="#F2B200" stroke="#000" stroke-width="0.9"/>
<circle cx="346.09" cy="89.88" r="2.15" fill="#F2B200" stroke="#000" stroke-width="0.9"/>
<circle cx="347.87" cy="86.4" r="2.15" fill="#F2B200" stroke="#000" stroke-width="0.9"/>
<circle cx="352.31" cy="77.61" r="2.15" fill="#F2B200" stroke="#000" stroke-width="0.9"/>
<circle cx="355.86" cy="72.3" r="2.15" fill="#F2B200" stroke="#000" stroke-width="0.9"/>
<circle cx="357.64" cy="69.74" r="2.15" fill="#F2B200" stroke="#000" stroke-width="0.9"/>
<circle cx="359.41" cy="64.43" r="2.15" fill="#F2B200" stroke="#000" stroke-width="0.9"/>
<circle cx="361.73" cy="64.43" r="2.15" fill="#F2B200" stroke="#000" stroke-width="0.9"/>
<circle cx="364.05" cy="64.43" r="2.15" fill="#F2B200" stroke="#000" stroke-width="0.9"/>
<circle cx="366.37" cy="64.43" r="2.15" fill="#F2B200" stroke="#000" stroke-width="0.9"/>
<circle cx="368.69" cy="64.43" r="2.15" fill="#F2B200" stroke="#000" stroke-width="0.9"/>
<circle cx="371.01" cy="64.43" r="2.15" fill="#F2B200" stroke="#000" stroke-width="0.9"/>
<circle cx="373.32" cy="64.43" r="2.15" fill="#F2B200" stroke="#000" stroke-width="0.9"/>
<circle cx="375.64" cy="64.43" r="2.15" fill="#F2B200" stroke="#000" stroke-width="0.9"/>
<circle cx="377.96" cy="64.43" r="2.15" fill="#F2B200" stroke="#000" stroke-width="0.9"/>
<circle cx="380.28" cy="64.43" r="2.15" fill="#F2B200" stroke="#000" stroke-width="0.9"/>
<circle cx="383.83" cy="60.03" r="2.15" fill="#F2B200" stroke="#000" stroke-width="0.9"/>
<circle cx="387.38" cy="56.55" r="2.15" fill="#F2B200" stroke="#000" stroke-width="0.9"/>
<circle cx="390.05" cy="56.55" r="2.15" fill="#F2B200" stroke="#000" stroke-width="0.9"/>
<circle cx="392.71" cy="56.55" r="2.15" fill="#F2B200" stroke="#000" stroke-width="0.9"/>
<circle cx="396.26" cy="53.99" r="2.15" fill="#F2B200" stroke="#000" stroke-width="0.9"/>
<circle cx="400.26" cy="48.68" r="2.15" fill="#F2B200" stroke="#000" stroke-width="0.9"/>
<circle cx="405.59" cy="46.85" r="2.15" fill="#F2B200" stroke="#000" stroke-width="0.9"/>
<circle cx="409.14" cy="42.46" r="2.15" fill="#F2B200" stroke="#000" stroke-width="0.9"/>
<circle cx="411.21" cy="41.91" r="2.15" fill="#F2B200" stroke="#000" stroke-width="0.9"/>
<circle cx="413.28" cy="41.36" r="2.15" fill="#F2B200" stroke="#000" stroke-width="0.9"/>
<circle cx="415.36" cy="40.81" r="2.15" fill="#F2B200" stroke="#000" stroke-width="0.9"/>
<circle cx="416.69" cy="32.2" r="2.15" fill="#F2B200" stroke="#000" stroke-width="0.9"/>
<circle cx="419.18" cy="32.2" r="2.15" fill="#F2B200" stroke="#000" stroke-width="0.9"/>
<circle cx="421.67" cy="32.2" r="2.15" fill="#F2B200" stroke="#000" stroke-width="0.9"/>
<circle cx="424.17" cy="32.2" r="2.15" fill="#F2B200" stroke="#000" stroke-width="0.9"/>
<circle cx="426.66" cy="32.2" r="2.15" fill="#F2B200" stroke="#000" stroke-width="0.9"/>
<circle cx="429.15" cy="32.2" r="2.15" fill="#F2B200" stroke="#000" stroke-width="0.9"/>
<circle cx="431.65" cy="32.2" r="2.15" fill="#F2B200" stroke="#000" stroke-width="0.9"/>
<circle cx="434.14" cy="32.2" r="2.15" fill="#F2B200" stroke="#000" stroke-width="0.9"/>
<circle cx="436.63" cy="32.2" r="2.15" fill="#F2B200" stroke="#000" stroke-width="0.9"/>
<circle cx="439.13" cy="32.2" r="2.15" fill="#F2B200" stroke="#000" stroke-width="0.9"/>
<circle cx="441.62" cy="32.2" r="2.15" fill="#F2B200" stroke="#000" stroke-width="0.9"/>
<circle cx="444.11" cy="32.2" r="2.15" fill="#F2B200" stroke="#000" stroke-width="0.9"/>
<circle cx="446.61" cy="32.2" r="2.15" fill="#F2B200" stroke="#000" stroke-width="0.9"/>
<circle cx="449.1" cy="32.2" r="2.15" fill="#F2B200" stroke="#000" stroke-width="0.9"/>
<path d="M304.36 204.71V215.64M301.16 204.71H307.56M301.16 215.64H307.56M305.69 196.17V206.24M302.49 196.17H308.89M302.49 206.24H308.89M307.91 199.1V203.31M304.71 199.1H311.11M304.71 203.31H311.11M310.13 199.92V202.48M306.93 199.92H313.33M306.93 202.48H313.33M312.35 199.22V203.19M309.15 199.22H315.55M309.15 203.19H315.55M314.57 196.43V205.97M311.37 196.43H317.77M311.37 205.97H317.77M316.34 184.84V197.06M313.14 184.84H319.54M313.14 197.06H319.54M321.23 171.88V183.29M318.03 171.88H324.43M318.03 183.29H324.43M324.34 161.89V172.76M321.14 161.89H327.54M321.14 172.76H327.54M329.66 146.14V163.25M326.46 146.14H332.86M326.46 163.25H332.86M331.44 127.15V141.95M328.24 127.15H334.64M328.24 141.95H334.64M333.96 132.81V136.3M330.76 132.81H337.16M330.76 136.3H337.16M336.47 133.27V135.84M333.27 133.27H339.67M333.27 135.84H339.67M338.99 133.27V135.84M335.79 133.27H342.19M335.79 135.84H342.19M341.5 133.27V135.84M338.3 133.27H344.7M338.3 135.84H344.7M344.02 133.15V135.96M340.82 133.15H347.22M340.82 135.96H347.22M346.54 131.11V138M343.34 131.11H349.74M343.34 138H349.74M347.87 126.02V135.03M344.67 126.02H351.07M344.67 135.03H351.07M351.42 114.55V126M348.22 114.55H354.62M348.22 126H354.62M355.86 101.57V110.77M352.66 101.57H359.06M352.66 110.77H359.06M358.97 99.69V104.24M355.77 99.69H362.17M355.77 104.24H362.17M361.63 100.68V103.24M358.43 100.68H364.83M358.43 103.24H364.83M364.3 100.68V103.24M361.1 100.68H367.5M361.1 103.24H367.5M366.96 100.68V103.24M363.76 100.68H370.16M363.76 103.24H370.16M369.62 100.68V103.24M366.42 100.68H372.82M366.42 103.24H372.82M372.29 98.12V105.81M369.09 98.12H375.49M369.09 105.81H375.49M374.51 88.46V98.61M371.31 88.46H377.71M371.31 98.61H377.71M378.5 82.35V88.62M375.3 82.35H381.7M375.3 88.62H381.7M383.83 80.12V85.35M380.63 80.12H387.03M380.63 85.35H387.03M386.5 75.57V82.94M383.3 75.57H389.7M383.3 82.94H389.7M392.71 63.5V70.48M389.51 63.5H395.91M389.51 70.48H395.91M398.48 58.9V63M395.28 58.9H401.68M395.28 63H401.68M401.15 59.67V62.23M397.95 59.67H404.35M397.95 62.23H404.35M403.81 59.67V62.23M400.61 59.67H407.01M400.61 62.23H407.01M406.48 57V64.9M403.28 57H409.68M403.28 64.9H409.68M407.36 47.29V55.19M404.16 47.29H410.56M404.16 55.19H410.56M409.44 48.18V54.3M406.24 48.18H412.64M406.24 54.3H412.64M411.51 49.58V52.91M408.31 49.58H414.71M408.31 52.91H414.71M413.58 48.25V54.24M410.38 48.25H416.78M410.38 54.24H416.78M416.24 39.66V50.38M413.04 39.66H419.44M413.04 50.38H419.44M418.02 33.3V40.63M414.82 33.3H421.22M414.82 40.63H421.22M420.52 34.91V37.92M417.32 34.91H423.72M417.32 37.92H423.72M423.01 35.13V37.69M419.81 35.13H426.21M419.81 37.69H426.21M425.51 35.13V37.69M422.31 35.13H428.71M422.31 37.69H428.71M428.01 35.13V37.69M424.81 35.13H431.21M424.81 37.69H431.21M430.51 35.13V37.69M427.31 35.13H433.71M427.31 37.69H433.71M433 35.13V37.69M429.81 35.13H436.2M429.81 37.69H436.2M435.5 35.07V37.76M432.3 35.07H438.7M432.3 37.76H438.7M438 34.28V38.55M434.8 34.28H441.2M434.8 38.55H441.2" stroke="#000" stroke-width="0.9" fill="none"/>
<path d="M280.38 215.5L282.85 215.5L285.31 215.5L287.78 215.5L290.25 215.5L292.71 215.5L295.18 215.5L297.65 215.5L300.11 215.5L302.58 215.5L304.36 210.17L305.69 201.2L307.91 201.2L310.13 201.2L312.35 201.2L314.57 201.2L316.34 190.95L321.23 177.58L324.34 167.33L329.66 154.7L331.44 134.55L333.96 134.55L336.47 134.55L338.99 134.55L341.5 134.55L344.02 134.55L346.54 134.55L347.87 130.53L351.42 120.27L355.86 106.17L358.97 101.96L361.63 101.96L364.3 101.96L366.96 101.96L369.62 101.96L372.29 101.96L374.51 93.54L378.5 85.48L383.83 82.74L386.5 79.26L392.71 66.99L398.48 60.95L401.15 60.95L403.81 60.95L406.48 60.95L407.36 51.24L409.44 51.24L411.51 51.24L413.58 51.24L416.24 45.02L418.02 36.41L420.52 36.41L423.01 36.41L425.51 36.41L428.01 36.41L430.51 36.41L433 36.41L435.5 36.41L438 36.41L440.22 32.2L442.44 32.2L444.66 32.2L446.88 32.2L449.1 32.2" stroke="#000" stroke-width="0.9" fill="none"/>
<circle cx="280.38" cy="215.5" r="2.15" fill="#07A04C" stroke="#000" stroke-width="0.9"/>
<circle cx="282.85" cy="215.5" r="2.15" fill="#07A04C" stroke="#000" stroke-width="0.9"/>
<circle cx="285.31" cy="215.5" r="2.15" fill="#07A04C" stroke="#000" stroke-width="0.9"/>
<circle cx="287.78" cy="215.5" r="2.15" fill="#07A04C" stroke="#000" stroke-width="0.9"/>
<circle cx="290.25" cy="215.5" r="2.15" fill="#07A04C" stroke="#000" stroke-width="0.9"/>
<circle cx="292.71" cy="215.5" r="2.15" fill="#07A04C" stroke="#000" stroke-width="0.9"/>
<circle cx="295.18" cy="215.5" r="2.15" fill="#07A04C" stroke="#000" stroke-width="0.9"/>
<circle cx="297.65" cy="215.5" r="2.15" fill="#07A04C" stroke="#000" stroke-width="0.9"/>
<circle cx="300.11" cy="215.5" r="2.15" fill="#07A04C" stroke="#000" stroke-width="0.9"/>
<circle cx="302.58" cy="215.5" r="2.15" fill="#07A04C" stroke="#000" stroke-width="0.9"/>
<circle cx="304.36" cy="210.17" r="2.15" fill="#07A04C" stroke="#000" stroke-width="0.9"/>
<circle cx="305.69" cy="201.2" r="2.15" fill="#07A04C" stroke="#000" stroke-width="0.9"/>
<circle cx="307.91" cy="201.2" r="2.15" fill="#07A04C" stroke="#000" stroke-width="0.9"/>
<circle cx="310.13" cy="201.2" r="2.15" fill="#07A04C" stroke="#000" stroke-width="0.9"/>
<circle cx="312.35" cy="201.2" r="2.15" fill="#07A04C" stroke="#000" stroke-width="0.9"/>
<circle cx="314.57" cy="201.2" r="2.15" fill="#07A04C" stroke="#000" stroke-width="0.9"/>
<circle cx="316.34" cy="190.95" r="2.15" fill="#07A04C" stroke="#000" stroke-width="0.9"/>
<circle cx="321.23" cy="177.58" r="2.15" fill="#07A04C" stroke="#000" stroke-width="0.9"/>
<circle cx="324.34" cy="167.33" r="2.15" fill="#07A04C" stroke="#000" stroke-width="0.9"/>
<circle cx="329.66" cy="154.7" r="2.15" fill="#07A04C" stroke="#000" stroke-width="0.9"/>
<circle cx="331.44" cy="134.55" r="2.15" fill="#07A04C" stroke="#000" stroke-width="0.9"/>
<circle cx="333.96" cy="134.55" r="2.15" fill="#07A04C" stroke="#000" stroke-width="0.9"/>
<circle cx="336.47" cy="134.55" r="2.15" fill="#07A04C" stroke="#000" stroke-width="0.9"/>
<circle cx="338.99" cy="134.55" r="2.15" fill="#07A04C" stroke="#000" stroke-width="0.9"/>
<circle cx="341.5" cy="134.55" r="2.15" fill="#07A04C" stroke="#000" stroke-width="0.9"/>
<circle cx="344.02" cy="134.55" r="2.15" fill="#07A04C" stroke="#000" stroke-width="0.9"/>
<circle cx="346.54" cy="134.55" r="2.15" fill="#07A04C" stroke="#000" stroke-width="0.9"/>
<circle cx="347.87" cy="130.53" r="2.15" fill="#07A04C" stroke="#000" stroke-width="0.9"/>
<circle cx="351.42" cy="120.27" r="2.15" fill="#07A04C" stroke="#000" stroke-width="0.9"/>
<circle cx="355.86" cy="106.17" r="2.15" fill="#07A04C" stroke="#000" stroke-width="0.9"/>
<circle cx="358.97" cy="101.96" r="2.15" fill="#07A04C" stroke="#000" stroke-width="0.9"/>
<circle cx="361.63" cy="101.96" r="2.15" fill="#07A04C" stroke="#000" stroke-width="0.9"/>
<circle cx="364.3" cy="101.96" r="2.15" fill="#07A04C" stroke="#000" stroke-width="0.9"/>
<circle cx="366.96" cy="101.96" r="2.15" fill="#07A04C" stroke="#000" stroke-width="0.9"/>
<circle cx="369.62" cy="101.96" r="2.15" fill="#07A04C" stroke="#000" stroke-width="0.9"/>
<circle cx="372.29" cy="101.96" r="2.15" fill="#07A04C" stroke="#000" stroke-width="0.9"/>
<circle cx="374.51" cy="93.54" r="2.15" fill="#07A04C" stroke="#000" stroke-width="0.9"/>
<circle cx="378.5" cy="85.48" r="2.15" fill="#07A04C" stroke="#000" stroke-width="0.9"/>
<circle cx="383.83" cy="82.74" r="2.15" fill="#07A04C" stroke="#000" stroke-width="0.9"/>
<circle cx="386.5" cy="79.26" r="2.15" fill="#07A04C" stroke="#000" stroke-width="0.9"/>
<circle cx="392.71" cy="66.99" r="2.15" fill="#07A04C" stroke="#000" stroke-width="0.9"/>
<circle cx="398.48" cy="60.95" r="2.15" fill="#07A04C" stroke="#000" stroke-width="0.9"/>
<circle cx="401.15" cy="60.95" r="2.15" fill="#07A04C" stroke="#000" stroke-width="0.9"/>
<circle cx="403.81" cy="60.95" r="2.15" fill="#07A04C" stroke="#000" stroke-width="0.9"/>
<circle cx="406.48" cy="60.95" r="2.15" fill="#07A04C" stroke="#000" stroke-width="0.9"/>
<circle cx="407.36" cy="51.24" r="2.15" fill="#07A04C" stroke="#000" stroke-width="0.9"/>
<circle cx="409.44" cy="51.24" r="2.15" fill="#07A04C" stroke="#000" stroke-width="0.9"/>
<circle cx="411.51" cy="51.24" r="2.15" fill="#07A04C" stroke="#000" stroke-width="0.9"/>
<circle cx="413.58" cy="51.24" r="2.15" fill="#07A04C" stroke="#000" stroke-width="0.9"/>
<circle cx="416.24" cy="45.02" r="2.15" fill="#07A04C" stroke="#000" stroke-width="0.9"/>
<circle cx="418.02" cy="36.41" r="2.15" fill="#07A04C" stroke="#000" stroke-width="0.9"/>
<circle cx="420.52" cy="36.41" r="2.15" fill="#07A04C" stroke="#000" stroke-width="0.9"/>
<circle cx="423.01" cy="36.41" r="2.15" fill="#07A04C" stroke="#000" stroke-width="0.9"/>
<circle cx="425.51" cy="36.41" r="2.15" fill="#07A04C" stroke="#000" stroke-width="0.9"/>
<circle cx="428.01" cy="36.41" r="2.15" fill="#07A04C" stroke="#000" stroke-width="0.9"/>
<circle cx="430.51" cy="36.41" r="2.15" fill="#07A04C" stroke="#000" stroke-width="0.9"/>
<circle cx="433" cy="36.41" r="2.15" fill="#07A04C" stroke="#000" stroke-width="0.9"/>
<circle cx="435.5" cy="36.41" r="2.15" fill="#07A04C" stroke="#000" stroke-width="0.9"/>
<circle cx="438" cy="36.41" r="2.15" fill="#07A04C" stroke="#000" stroke-width="0.9"/>
<circle cx="440.22" cy="32.2" r="2.15" fill="#07A04C" stroke="#000" stroke-width="0.9"/>
<circle cx="442.44" cy="32.2" r="2.15" fill="#07A04C" stroke="#000" stroke-width="0.9"/>
<circle cx="444.66" cy="32.2" r="2.15" fill="#07A04C" stroke="#000" stroke-width="0.9"/>
<circle cx="446.88" cy="32.2" r="2.15" fill="#07A04C" stroke="#000" stroke-width="0.9"/>
<circle cx="449.1" cy="32.2" r="2.15" fill="#07A04C" stroke="#000" stroke-width="0.9"/>
<path d="M323 203.5V212.45M319.8 203.5H326.2M319.8 212.45H326.2M327.44 199.54V205.79M324.24 199.54H330.64M324.24 205.79H330.64M331.88 193.71V199.9M328.68 193.71H335.08M328.68 199.9H335.08M336.32 188.71V194.66M333.12 188.71H339.52M333.12 194.66H339.52M340.76 184.43V188.68M337.56 184.43H343.96M337.56 188.68H343.96M343.13 185.18V187.93M339.93 185.18H346.33M339.93 187.93H346.33M345.5 185.17V187.94M342.3 185.17H348.7M342.3 187.94H348.7M347.87 184.37V188.74M344.67 184.37H351.07M344.67 188.74H351.07M353.64 174.32V184.51M350.44 174.32H356.84M350.44 184.51H356.84M357.19 158.57V172.06M353.99 158.57H360.39M353.99 172.06H360.39M361.19 146.44V156.36M357.99 146.44H364.39M357.99 156.36H364.39M366.07 141V146.78M362.87 141H369.27M362.87 146.78H369.27M370.51 137.28V144.64M367.31 137.28H373.71M367.31 144.64H373.71M374.51 123.66V137.4M371.31 123.66H377.71M371.31 137.4H377.71M376.28 111.56V122.76M373.08 111.56H379.48M373.08 122.76H379.48M378.78 115.53V118.79M375.58 115.53H381.98M375.58 118.79H381.98M381.28 115.88V118.44M378.08 115.88H384.48M378.08 118.44H384.48M383.78 115.88V118.44M380.58 115.88H386.98M380.58 118.44H386.98M386.27 115.88V118.44M383.07 115.88H389.47M383.07 118.44H389.47M388.77 115.88V118.44M385.57 115.88H391.97M385.57 118.44H391.97M391.27 115.88V118.44M388.07 115.88H394.47M388.07 118.44H394.47M393.77 115.63V118.69M390.57 115.63H396.97M390.57 118.69H396.97M396.26 112.83V121.49M393.06 112.83H399.46M393.06 121.49H399.46M397.6 104.61V115.43M394.4 104.61H400.8M394.4 115.43H400.8M400.26 96.38V107.91M397.06 96.38H403.46M397.06 107.91H403.46M402.92 87.86V99.59M399.72 87.86H406.12M399.72 99.59H406.12M405.59 80.31V90.65M402.39 80.31H408.79M402.39 90.65H408.79M409.14 73.59V81.63M405.94 73.59H412.34M405.94 81.63H412.34M413.58 68.44V73.24M410.38 68.44H416.78M410.38 73.24H416.78M417.13 68.04V73.63M413.93 68.04H420.33M413.93 73.63H420.33M420.68 60.72V66.3M417.48 60.72H423.88M417.48 66.3H423.88M423.35 62.23V64.79M420.15 62.23H426.55M420.15 64.79H426.55M426.01 62.23V64.79M422.81 62.23H429.21M422.81 64.79H429.21M428.68 62.23V64.79M425.48 62.23H431.88M425.48 64.79H431.88M431.34 61.59V65.43M428.14 61.59H434.54M428.14 65.43H434.54M435.34 55.24V64.82M432.14 55.24H438.54M432.14 64.82H438.54M438 45.44V53.75M434.8 45.44H441.2M434.8 53.75H441.2M441.55 47.22V51.97M438.35 47.22H444.75M438.35 51.97H444.75M445.1 41.3V47.27M441.9 41.3H448.3M441.9 47.27H448.3M447.77 40.2V43.97M444.57 40.2H450.97M444.57 43.97H450.97" stroke="#000" stroke-width="0.9" fill="none"/>
<path d="M280.38 215.5L282.88 215.5L285.38 215.5L287.87 215.5L290.37 215.5L292.87 215.5L295.37 215.5L297.86 215.5L300.36 215.5L302.86 215.5L305.36 215.5L307.85 215.5L310.35 215.5L312.85 215.5L315.35 215.5L317.84 215.5L320.34 215.5L323 207.98L327.44 202.67L331.88 196.81L336.32 191.68L340.76 186.55L343.13 186.55L345.5 186.55L347.87 186.55L353.64 179.41L357.19 165.32L361.19 151.4L366.07 143.89L370.51 140.96L374.51 130.53L376.28 117.16L378.78 117.16L381.28 117.16L383.78 117.16L386.27 117.16L388.77 117.16L391.27 117.16L393.77 117.16L396.26 117.16L397.6 110.02L400.26 102.15L402.92 93.72L405.59 85.48L409.14 77.61L413.58 70.84L417.13 70.84L420.68 63.51L423.35 63.51L426.01 63.51L428.68 63.51L431.34 63.51L435.34 60.03L438 49.6L441.55 49.6L445.1 44.29L447.77 42.09" stroke="#000" stroke-width="0.9" fill="none"/>
<rect x="278.18" y="213.3" width="4.4" height="4.4" fill="#D8A838" stroke="#000" stroke-width="0.9"/>
<circle cx="280.38" cy="215.5" r="1.2" fill="#FBF0A6"/>
<rect x="280.68" y="213.3" width="4.4" height="4.4" fill="#D8A838" stroke="#000" stroke-width="0.9"/>
<circle cx="282.88" cy="215.5" r="1.2" fill="#FBF0A6"/>
<rect x="283.18" y="213.3" width="4.4" height="4.4" fill="#D8A838" stroke="#000" stroke-width="0.9"/>
<circle cx="285.38" cy="215.5" r="1.2" fill="#FBF0A6"/>
<rect x="285.67" y="213.3" width="4.4" height="4.4" fill="#D8A838" stroke="#000" stroke-width="0.9"/>
<circle cx="287.87" cy="215.5" r="1.2" fill="#FBF0A6"/>
<rect x="288.17" y="213.3" width="4.4" height="4.4" fill="#D8A838" stroke="#000" stroke-width="0.9"/>
<circle cx="290.37" cy="215.5" r="1.2" fill="#FBF0A6"/>
<rect x="290.67" y="213.3" width="4.4" height="4.4" fill="#D8A838" stroke="#000" stroke-width="0.9"/>
<circle cx="292.87" cy="215.5" r="1.2" fill="#FBF0A6"/>
<rect x="293.17" y="213.3" width="4.4" height="4.4" fill="#D8A838" stroke="#000" stroke-width="0.9"/>
<circle cx="295.37" cy="215.5" r="1.2" fill="#FBF0A6"/>
<rect x="295.66" y="213.3" width="4.4" height="4.4" fill="#D8A838" stroke="#000" stroke-width="0.9"/>
<circle cx="297.86" cy="215.5" r="1.2" fill="#FBF0A6"/>
<rect x="298.16" y="213.3" width="4.4" height="4.4" fill="#D8A838" stroke="#000" stroke-width="0.9"/>
<circle cx="300.36" cy="215.5" r="1.2" fill="#FBF0A6"/>
<rect x="300.66" y="213.3" width="4.4" height="4.4" fill="#D8A838" stroke="#000" stroke-width="0.9"/>
<circle cx="302.86" cy="215.5" r="1.2" fill="#FBF0A6"/>
<rect x="303.16" y="213.3" width="4.4" height="4.4" fill="#D8A838" stroke="#000" stroke-width="0.9"/>
<circle cx="305.36" cy="215.5" r="1.2" fill="#FBF0A6"/>
<rect x="305.65" y="213.3" width="4.4" height="4.4" fill="#D8A838" stroke="#000" stroke-width="0.9"/>
<circle cx="307.85" cy="215.5" r="1.2" fill="#FBF0A6"/>
<rect x="308.15" y="213.3" width="4.4" height="4.4" fill="#D8A838" stroke="#000" stroke-width="0.9"/>
<circle cx="310.35" cy="215.5" r="1.2" fill="#FBF0A6"/>
<rect x="310.65" y="213.3" width="4.4" height="4.4" fill="#D8A838" stroke="#000" stroke-width="0.9"/>
<circle cx="312.85" cy="215.5" r="1.2" fill="#FBF0A6"/>
<rect x="313.15" y="213.3" width="4.4" height="4.4" fill="#D8A838" stroke="#000" stroke-width="0.9"/>
<circle cx="315.35" cy="215.5" r="1.2" fill="#FBF0A6"/>
<rect x="315.64" y="213.3" width="4.4" height="4.4" fill="#D8A838" stroke="#000" stroke-width="0.9"/>
<circle cx="317.84" cy="215.5" r="1.2" fill="#FBF0A6"/>
<rect x="318.14" y="213.3" width="4.4" height="4.4" fill="#D8A838" stroke="#000" stroke-width="0.9"/>
<circle cx="320.34" cy="215.5" r="1.2" fill="#FBF0A6"/>
<rect x="320.8" y="205.78" width="4.4" height="4.4" fill="#D8A838" stroke="#000" stroke-width="0.9"/>
<circle cx="323" cy="207.98" r="1.2" fill="#FBF0A6"/>
<rect x="325.24" y="200.47" width="4.4" height="4.4" fill="#D8A838" stroke="#000" stroke-width="0.9"/>
<circle cx="327.44" cy="202.67" r="1.2" fill="#FBF0A6"/>
<rect x="329.68" y="194.61" width="4.4" height="4.4" fill="#D8A838" stroke="#000" stroke-width="0.9"/>
<circle cx="331.88" cy="196.81" r="1.2" fill="#FBF0A6"/>
<rect x="334.12" y="189.48" width="4.4" height="4.4" fill="#D8A838" stroke="#000" stroke-width="0.9"/>
<circle cx="336.32" cy="191.68" r="1.2" fill="#FBF0A6"/>
<rect x="338.56" y="184.35" width="4.4" height="4.4" fill="#D8A838" stroke="#000" stroke-width="0.9"/>
<circle cx="340.76" cy="186.55" r="1.2" fill="#FBF0A6"/>
<rect x="340.93" y="184.35" width="4.4" height="4.4" fill="#D8A838" stroke="#000" stroke-width="0.9"/>
<circle cx="343.13" cy="186.55" r="1.2" fill="#FBF0A6"/>
<rect x="343.3" y="184.35" width="4.4" height="4.4" fill="#D8A838" stroke="#000" stroke-width="0.9"/>
<circle cx="345.5" cy="186.55" r="1.2" fill="#FBF0A6"/>
<rect x="345.67" y="184.35" width="4.4" height="4.4" fill="#D8A838" stroke="#000" stroke-width="0.9"/>
<circle cx="347.87" cy="186.55" r="1.2" fill="#FBF0A6"/>
<rect x="351.44" y="177.21" width="4.4" height="4.4" fill="#D8A838" stroke="#000" stroke-width="0.9"/>
<circle cx="353.64" cy="179.41" r="1.2" fill="#FBF0A6"/>
<rect x="354.99" y="163.12" width="4.4" height="4.4" fill="#D8A838" stroke="#000" stroke-width="0.9"/>
<circle cx="357.19" cy="165.32" r="1.2" fill="#FBF0A6"/>
<rect x="358.99" y="149.2" width="4.4" height="4.4" fill="#D8A838" stroke="#000" stroke-width="0.9"/>
<circle cx="361.19" cy="151.4" r="1.2" fill="#FBF0A6"/>
<rect x="363.87" y="141.69" width="4.4" height="4.4" fill="#D8A838" stroke="#000" stroke-width="0.9"/>
<circle cx="366.07" cy="143.89" r="1.2" fill="#FBF0A6"/>
<rect x="368.31" y="138.76" width="4.4" height="4.4" fill="#D8A838" stroke="#000" stroke-width="0.9"/>
<circle cx="370.51" cy="140.96" r="1.2" fill="#FBF0A6"/>
<rect x="372.31" y="128.33" width="4.4" height="4.4" fill="#D8A838" stroke="#000" stroke-width="0.9"/>
<circle cx="374.51" cy="130.53" r="1.2" fill="#FBF0A6"/>
<rect x="374.08" y="114.96" width="4.4" height="4.4" fill="#D8A838" stroke="#000" stroke-width="0.9"/>
<circle cx="376.28" cy="117.16" r="1.2" fill="#FBF0A6"/>
<rect x="376.58" y="114.96" width="4.4" height="4.4" fill="#D8A838" stroke="#000" stroke-width="0.9"/>
<circle cx="378.78" cy="117.16" r="1.2" fill="#FBF0A6"/>
<rect x="379.08" y="114.96" width="4.4" height="4.4" fill="#D8A838" stroke="#000" stroke-width="0.9"/>
<circle cx="381.28" cy="117.16" r="1.2" fill="#FBF0A6"/>
<rect x="381.58" y="114.96" width="4.4" height="4.4" fill="#D8A838" stroke="#000" stroke-width="0.9"/>
<circle cx="383.78" cy="117.16" r="1.2" fill="#FBF0A6"/>
<rect x="384.07" y="114.96" width="4.4" height="4.4" fill="#D8A838" stroke="#000" stroke-width="0.9"/>
<circle cx="386.27" cy="117.16" r="1.2" fill="#FBF0A6"/>
<rect x="386.57" y="114.96" width="4.4" height="4.4" fill="#D8A838" stroke="#000" stroke-width="0.9"/>
<circle cx="388.77" cy="117.16" r="1.2" fill="#FBF0A6"/>
<rect x="389.07" y="114.96" width="4.4" height="4.4" fill="#D8A838" stroke="#000" stroke-width="0.9"/>
<circle cx="391.27" cy="117.16" r="1.2" fill="#FBF0A6"/>
<rect x="391.57" y="114.96" width="4.4" height="4.4" fill="#D8A838" stroke="#000" stroke-width="0.9"/>
<circle cx="393.77" cy="117.16" r="1.2" fill="#FBF0A6"/>
<rect x="394.06" y="114.96" width="4.4" height="4.4" fill="#D8A838" stroke="#000" stroke-width="0.9"/>
<circle cx="396.26" cy="117.16" r="1.2" fill="#FBF0A6"/>
<rect x="395.4" y="107.82" width="4.4" height="4.4" fill="#D8A838" stroke="#000" stroke-width="0.9"/>
<circle cx="397.6" cy="110.02" r="1.2" fill="#FBF0A6"/>
<rect x="398.06" y="99.95" width="4.4" height="4.4" fill="#D8A838" stroke="#000" stroke-width="0.9"/>
<circle cx="400.26" cy="102.15" r="1.2" fill="#FBF0A6"/>
<rect x="400.72" y="91.52" width="4.4" height="4.4" fill="#D8A838" stroke="#000" stroke-width="0.9"/>
<circle cx="402.92" cy="93.72" r="1.2" fill="#FBF0A6"/>
<rect x="403.39" y="83.28" width="4.4" height="4.4" fill="#D8A838" stroke="#000" stroke-width="0.9"/>
<circle cx="405.59" cy="85.48" r="1.2" fill="#FBF0A6"/>
<rect x="406.94" y="75.41" width="4.4" height="4.4" fill="#D8A838" stroke="#000" stroke-width="0.9"/>
<circle cx="409.14" cy="77.61" r="1.2" fill="#FBF0A6"/>
<rect x="411.38" y="68.64" width="4.4" height="4.4" fill="#D8A838" stroke="#000" stroke-width="0.9"/>
<circle cx="413.58" cy="70.84" r="1.2" fill="#FBF0A6"/>
<rect x="414.93" y="68.64" width="4.4" height="4.4" fill="#D8A838" stroke="#000" stroke-width="0.9"/>
<circle cx="417.13" cy="70.84" r="1.2" fill="#FBF0A6"/>
<rect x="418.48" y="61.31" width="4.4" height="4.4" fill="#D8A838" stroke="#000" stroke-width="0.9"/>
<circle cx="420.68" cy="63.51" r="1.2" fill="#FBF0A6"/>
<rect x="421.15" y="61.31" width="4.4" height="4.4" fill="#D8A838" stroke="#000" stroke-width="0.9"/>
<circle cx="423.35" cy="63.51" r="1.2" fill="#FBF0A6"/>
<rect x="423.81" y="61.31" width="4.4" height="4.4" fill="#D8A838" stroke="#000" stroke-width="0.9"/>
<circle cx="426.01" cy="63.51" r="1.2" fill="#FBF0A6"/>
<rect x="426.48" y="61.31" width="4.4" height="4.4" fill="#D8A838" stroke="#000" stroke-width="0.9"/>
<circle cx="428.68" cy="63.51" r="1.2" fill="#FBF0A6"/>
<rect x="429.14" y="61.31" width="4.4" height="4.4" fill="#D8A838" stroke="#000" stroke-width="0.9"/>
<circle cx="431.34" cy="63.51" r="1.2" fill="#FBF0A6"/>
<rect x="433.14" y="57.83" width="4.4" height="4.4" fill="#D8A838" stroke="#000" stroke-width="0.9"/>
<circle cx="435.34" cy="60.03" r="1.2" fill="#FBF0A6"/>
<rect x="435.8" y="47.4" width="4.4" height="4.4" fill="#D8A838" stroke="#000" stroke-width="0.9"/>
<circle cx="438" cy="49.6" r="1.2" fill="#FBF0A6"/>
<rect x="439.35" y="47.4" width="4.4" height="4.4" fill="#D8A838" stroke="#000" stroke-width="0.9"/>
<circle cx="441.55" cy="49.6" r="1.2" fill="#FBF0A6"/>
<rect x="442.9" y="42.09" width="4.4" height="4.4" fill="#D8A838" stroke="#000" stroke-width="0.9"/>
<circle cx="445.1" cy="44.29" r="1.2" fill="#FBF0A6"/>
<rect x="445.57" y="39.89" width="4.4" height="4.4" fill="#D8A838" stroke="#000" stroke-width="0.9"/>
<circle cx="447.77" cy="42.09" r="1.2" fill="#FBF0A6"/>
<path d="M323 212.66V217.94M319.8 212.66H326.2M319.8 217.94H326.2M326.56 206.38V213.97M323.36 206.38H329.76M323.36 213.97H329.76M327.44 201.42V208.31M324.24 201.42H330.64M324.24 208.31H330.64M329.81 203.1V206.63M326.61 203.1H333.01M326.61 206.63H333.01M332.18 203.35V206.38M328.98 203.35H335.38M328.98 206.38H335.38M334.55 201.51V208.22M331.35 201.51H337.75M331.35 208.22H337.75M337.66 192.72V199.43M334.46 192.72H340.86M334.46 199.43H340.86M340.76 192.7V199.45M337.56 192.7H343.96M337.56 199.45H343.96M342.1 186.63V194.54M338.9 186.63H345.3M338.9 194.54H345.3M345.2 180.62V190.65M342 180.62H348.4M342 190.65H348.4M347.87 170.76V181.84M344.67 170.76H351.07M344.67 181.84H351.07M352.31 161.62V170.47M349.11 161.62H355.51M349.11 170.47H355.51M356.75 151.46V163.06M353.55 151.46H359.95M353.55 163.06H359.95M358.97 141.28V152.73M355.77 141.28H362.17M355.77 152.73H362.17M361.19 138.6V146.26M357.99 138.6H364.39M357.99 146.26H364.39M365.63 132.95V143.11M362.43 132.95H368.83M362.43 143.11H368.83M367.85 120.71V134.85M364.65 120.71H371.05M364.65 134.85H371.05M370.07 114.05V132.36M366.87 114.05H373.27M366.87 132.36H373.27M372.29 85.12V103.43M369.09 85.12H375.49M369.09 103.43H375.49M378.5 81.16V89.8M375.3 81.16H381.7M375.3 89.8H381.7M382.06 71.48V80.08M378.86 71.48H385.26M378.86 80.08H385.26M385.61 68.53V73.14M382.41 68.53H388.81M382.41 73.14H388.81M387.98 69.44V72.23M384.78 69.44H391.18M384.78 72.23H391.18M390.34 69.46V72.21M387.14 69.46H393.54M387.14 72.21H393.54M392.71 68.71V72.96M389.51 68.71H395.91M389.51 72.96H395.91M396.71 62.68V69.84M393.51 62.68H399.91M393.51 69.84H399.91M397.6 57.65V64.25M394.4 57.65H400.8M394.4 64.25H400.8M400.08 59.37V62.52M396.88 59.37H403.28M396.88 62.52H403.28M402.57 59.67V62.23M399.37 59.67H405.77M399.37 62.23H405.77M405.06 59.67V62.23M401.86 59.67H408.26M401.86 62.23H408.26M407.54 59.58V62.32M404.34 59.58H410.74M404.34 62.32H410.74M410.03 58.33V63.56M406.83 58.33H413.23M406.83 63.56H413.23M415.36 46.49V56M412.16 46.49H418.56M412.16 56H418.56M420.24 33.3V41.06M417.04 33.3H423.44M417.04 41.06H423.44M424.24 32.2V34.4M421.04 34.4H427.44M426.72 32.2V34.4M423.52 34.4H429.92M429.21 32.2V34.4M426.01 34.4H432.41M431.7 32.2V34.4M428.5 34.4H434.9M434.18 32.2V34.4M430.98 34.4H437.38M436.67 32.2V34.4M433.47 34.4H439.87M439.15 32.2V34.4M435.95 34.4H442.35M441.64 32.2V34.4M438.44 34.4H444.84M444.13 32.2V34.4M440.93 34.4H447.33M446.61 32.2V34.4M443.41 34.4H449.81M449.1 32.2V34.4M445.9 34.4H452.3" stroke="#000" stroke-width="0.9" fill="none"/>
<path d="M280.38 215.5L282.81 215.5L285.24 215.5L287.67 215.5L290.1 215.5L292.52 215.5L294.95 215.5L297.38 215.5L299.81 215.5L302.24 215.5L304.67 215.5L307.1 215.5L309.53 215.5L311.96 215.5L314.39 215.5L316.81 215.5L319.24 215.5L321.67 215.5L323 215.3L326.56 210.17L327.44 204.86L329.81 204.86L332.18 204.86L334.55 204.86L337.66 196.08L340.76 196.08L342.1 190.58L345.2 185.64L347.87 176.3L352.31 166.05L356.75 157.26L358.97 147.01L361.19 142.43L365.63 138.03L367.85 127.78L370.07 123.2L372.29 94.27L378.5 85.48L382.06 75.78L385.61 70.84L387.98 70.84L390.34 70.84L392.71 70.84L396.71 66.26L397.6 60.95L400.08 60.95L402.57 60.95L405.06 60.95L407.54 60.95L410.03 60.95L415.36 51.24L420.24 36.96L424.24 32.2L426.72 32.2L429.21 32.2L431.7 32.2L434.18 32.2L436.67 32.2L439.15 32.2L441.64 32.2L444.13 32.2L446.61 32.2L449.1 32.2" stroke="#000" stroke-width="0.9" fill="none"/>
<rect x="278.18" y="213.3" width="4.4" height="4.4" fill="#128A47" stroke="#000" stroke-width="0.9"/>
<circle cx="280.38" cy="215.5" r="1.35" fill="#B4F2D4"/>
<rect x="280.61" y="213.3" width="4.4" height="4.4" fill="#128A47" stroke="#000" stroke-width="0.9"/>
<circle cx="282.81" cy="215.5" r="1.35" fill="#B4F2D4"/>
<rect x="283.04" y="213.3" width="4.4" height="4.4" fill="#128A47" stroke="#000" stroke-width="0.9"/>
<circle cx="285.24" cy="215.5" r="1.35" fill="#B4F2D4"/>
<rect x="285.47" y="213.3" width="4.4" height="4.4" fill="#128A47" stroke="#000" stroke-width="0.9"/>
<circle cx="287.67" cy="215.5" r="1.35" fill="#B4F2D4"/>
<rect x="287.9" y="213.3" width="4.4" height="4.4" fill="#128A47" stroke="#000" stroke-width="0.9"/>
<circle cx="290.1" cy="215.5" r="1.35" fill="#B4F2D4"/>
<rect x="290.32" y="213.3" width="4.4" height="4.4" fill="#128A47" stroke="#000" stroke-width="0.9"/>
<circle cx="292.52" cy="215.5" r="1.35" fill="#B4F2D4"/>
<rect x="292.75" y="213.3" width="4.4" height="4.4" fill="#128A47" stroke="#000" stroke-width="0.9"/>
<circle cx="294.95" cy="215.5" r="1.35" fill="#B4F2D4"/>
<rect x="295.18" y="213.3" width="4.4" height="4.4" fill="#128A47" stroke="#000" stroke-width="0.9"/>
<circle cx="297.38" cy="215.5" r="1.35" fill="#B4F2D4"/>
<rect x="297.61" y="213.3" width="4.4" height="4.4" fill="#128A47" stroke="#000" stroke-width="0.9"/>
<circle cx="299.81" cy="215.5" r="1.35" fill="#B4F2D4"/>
<rect x="300.04" y="213.3" width="4.4" height="4.4" fill="#128A47" stroke="#000" stroke-width="0.9"/>
<circle cx="302.24" cy="215.5" r="1.35" fill="#B4F2D4"/>
<rect x="302.47" y="213.3" width="4.4" height="4.4" fill="#128A47" stroke="#000" stroke-width="0.9"/>
<circle cx="304.67" cy="215.5" r="1.35" fill="#B4F2D4"/>
<rect x="304.9" y="213.3" width="4.4" height="4.4" fill="#128A47" stroke="#000" stroke-width="0.9"/>
<circle cx="307.1" cy="215.5" r="1.35" fill="#B4F2D4"/>
<rect x="307.33" y="213.3" width="4.4" height="4.4" fill="#128A47" stroke="#000" stroke-width="0.9"/>
<circle cx="309.53" cy="215.5" r="1.35" fill="#B4F2D4"/>
<rect x="309.76" y="213.3" width="4.4" height="4.4" fill="#128A47" stroke="#000" stroke-width="0.9"/>
<circle cx="311.96" cy="215.5" r="1.35" fill="#B4F2D4"/>
<rect x="312.19" y="213.3" width="4.4" height="4.4" fill="#128A47" stroke="#000" stroke-width="0.9"/>
<circle cx="314.39" cy="215.5" r="1.35" fill="#B4F2D4"/>
<rect x="314.61" y="213.3" width="4.4" height="4.4" fill="#128A47" stroke="#000" stroke-width="0.9"/>
<circle cx="316.81" cy="215.5" r="1.35" fill="#B4F2D4"/>
<rect x="317.04" y="213.3" width="4.4" height="4.4" fill="#128A47" stroke="#000" stroke-width="0.9"/>
<circle cx="319.24" cy="215.5" r="1.35" fill="#B4F2D4"/>
<rect x="319.47" y="213.3" width="4.4" height="4.4" fill="#128A47" stroke="#000" stroke-width="0.9"/>
<circle cx="321.67" cy="215.5" r="1.35" fill="#B4F2D4"/>
<rect x="320.8" y="213.1" width="4.4" height="4.4" fill="#128A47" stroke="#000" stroke-width="0.9"/>
<circle cx="323" cy="215.3" r="1.35" fill="#B4F2D4"/>
<rect x="324.36" y="207.97" width="4.4" height="4.4" fill="#128A47" stroke="#000" stroke-width="0.9"/>
<circle cx="326.56" cy="210.17" r="1.35" fill="#B4F2D4"/>
<rect x="325.24" y="202.66" width="4.4" height="4.4" fill="#128A47" stroke="#000" stroke-width="0.9"/>
<circle cx="327.44" cy="204.86" r="1.35" fill="#B4F2D4"/>
<rect x="327.61" y="202.66" width="4.4" height="4.4" fill="#128A47" stroke="#000" stroke-width="0.9"/>
<circle cx="329.81" cy="204.86" r="1.35" fill="#B4F2D4"/>
<rect x="329.98" y="202.66" width="4.4" height="4.4" fill="#128A47" stroke="#000" stroke-width="0.9"/>
<circle cx="332.18" cy="204.86" r="1.35" fill="#B4F2D4"/>
<rect x="332.35" y="202.66" width="4.4" height="4.4" fill="#128A47" stroke="#000" stroke-width="0.9"/>
<circle cx="334.55" cy="204.86" r="1.35" fill="#B4F2D4"/>
<rect x="335.46" y="193.88" width="4.4" height="4.4" fill="#128A47" stroke="#000" stroke-width="0.9"/>
<circle cx="337.66" cy="196.08" r="1.35" fill="#B4F2D4"/>
<rect x="338.56" y="193.88" width="4.4" height="4.4" fill="#128A47" stroke="#000" stroke-width="0.9"/>
<circle cx="340.76" cy="196.08" r="1.35" fill="#B4F2D4"/>
<rect x="339.9" y="188.38" width="4.4" height="4.4" fill="#128A47" stroke="#000" stroke-width="0.9"/>
<circle cx="342.1" cy="190.58" r="1.35" fill="#B4F2D4"/>
<rect x="343" y="183.44" width="4.4" height="4.4" fill="#128A47" stroke="#000" stroke-width="0.9"/>
<circle cx="345.2" cy="185.64" r="1.35" fill="#B4F2D4"/>
<rect x="345.67" y="174.1" width="4.4" height="4.4" fill="#128A47" stroke="#000" stroke-width="0.9"/>
<circle cx="347.87" cy="176.3" r="1.35" fill="#B4F2D4"/>
<rect x="350.11" y="163.85" width="4.4" height="4.4" fill="#128A47" stroke="#000" stroke-width="0.9"/>
<circle cx="352.31" cy="166.05" r="1.35" fill="#B4F2D4"/>
<rect x="354.55" y="155.06" width="4.4" height="4.4" fill="#128A47" stroke="#000" stroke-width="0.9"/>
<circle cx="356.75" cy="157.26" r="1.35" fill="#B4F2D4"/>
<rect x="356.77" y="144.81" width="4.4" height="4.4" fill="#128A47" stroke="#000" stroke-width="0.9"/>
<circle cx="358.97" cy="147.01" r="1.35" fill="#B4F2D4"/>
<rect x="358.99" y="140.23" width="4.4" height="4.4" fill="#128A47" stroke="#000" stroke-width="0.9"/>
<circle cx="361.19" cy="142.43" r="1.35" fill="#B4F2D4"/>
<rect x="363.43" y="135.83" width="4.4" height="4.4" fill="#128A47" stroke="#000" stroke-width="0.9"/>
<circle cx="365.63" cy="138.03" r="1.35" fill="#B4F2D4"/>
<rect x="365.65" y="125.58" width="4.4" height="4.4" fill="#128A47" stroke="#000" stroke-width="0.9"/>
<circle cx="367.85" cy="127.78" r="1.35" fill="#B4F2D4"/>
<rect x="367.87" y="121" width="4.4" height="4.4" fill="#128A47" stroke="#000" stroke-width="0.9"/>
<circle cx="370.07" cy="123.2" r="1.35" fill="#B4F2D4"/>
<rect x="370.09" y="92.07" width="4.4" height="4.4" fill="#128A47" stroke="#000" stroke-width="0.9"/>
<circle cx="372.29" cy="94.27" r="1.35" fill="#B4F2D4"/>
<rect x="376.3" y="83.28" width="4.4" height="4.4" fill="#128A47" stroke="#000" stroke-width="0.9"/>
<circle cx="378.5" cy="85.48" r="1.35" fill="#B4F2D4"/>
<rect x="379.86" y="73.58" width="4.4" height="4.4" fill="#128A47" stroke="#000" stroke-width="0.9"/>
<circle cx="382.06" cy="75.78" r="1.35" fill="#B4F2D4"/>
<rect x="383.41" y="68.64" width="4.4" height="4.4" fill="#128A47" stroke="#000" stroke-width="0.9"/>
<circle cx="385.61" cy="70.84" r="1.35" fill="#B4F2D4"/>
<rect x="385.78" y="68.64" width="4.4" height="4.4" fill="#128A47" stroke="#000" stroke-width="0.9"/>
<circle cx="387.98" cy="70.84" r="1.35" fill="#B4F2D4"/>
<rect x="388.14" y="68.64" width="4.4" height="4.4" fill="#128A47" stroke="#000" stroke-width="0.9"/>
<circle cx="390.34" cy="70.84" r="1.35" fill="#B4F2D4"/>
<rect x="390.51" y="68.64" width="4.4" height="4.4" fill="#128A47" stroke="#000" stroke-width="0.9"/>
<circle cx="392.71" cy="70.84" r="1.35" fill="#B4F2D4"/>
<rect x="394.51" y="64.06" width="4.4" height="4.4" fill="#128A47" stroke="#000" stroke-width="0.9"/>
<circle cx="396.71" cy="66.26" r="1.35" fill="#B4F2D4"/>
<rect x="395.4" y="58.75" width="4.4" height="4.4" fill="#128A47" stroke="#000" stroke-width="0.9"/>
<circle cx="397.6" cy="60.95" r="1.35" fill="#B4F2D4"/>
<rect x="397.88" y="58.75" width="4.4" height="4.4" fill="#128A47" stroke="#000" stroke-width="0.9"/>
<circle cx="400.08" cy="60.95" r="1.35" fill="#B4F2D4"/>
<rect x="400.37" y="58.75" width="4.4" height="4.4" fill="#128A47" stroke="#000" stroke-width="0.9"/>
<circle cx="402.57" cy="60.95" r="1.35" fill="#B4F2D4"/>
<rect x="402.86" y="58.75" width="4.4" height="4.4" fill="#128A47" stroke="#000" stroke-width="0.9"/>
<circle cx="405.06" cy="60.95" r="1.35" fill="#B4F2D4"/>
<rect x="405.34" y="58.75" width="4.4" height="4.4" fill="#128A47" stroke="#000" stroke-width="0.9"/>
<circle cx="407.54" cy="60.95" r="1.35" fill="#B4F2D4"/>
<rect x="407.83" y="58.75" width="4.4" height="4.4" fill="#128A47" stroke="#000" stroke-width="0.9"/>
<circle cx="410.03" cy="60.95" r="1.35" fill="#B4F2D4"/>
<rect x="413.16" y="49.04" width="4.4" height="4.4" fill="#128A47" stroke="#000" stroke-width="0.9"/>
<circle cx="415.36" cy="51.24" r="1.35" fill="#B4F2D4"/>
<rect x="418.04" y="34.76" width="4.4" height="4.4" fill="#128A47" stroke="#000" stroke-width="0.9"/>
<circle cx="420.24" cy="36.96" r="1.35" fill="#B4F2D4"/>
<rect x="422.04" y="30" width="4.4" height="4.4" fill="#128A47" stroke="#000" stroke-width="0.9"/>
<circle cx="424.24" cy="32.2" r="1.35" fill="#B4F2D4"/>
<rect x="424.52" y="30" width="4.4" height="4.4" fill="#128A47" stroke="#000" stroke-width="0.9"/>
<circle cx="426.72" cy="32.2" r="1.35" fill="#B4F2D4"/>
<rect x="427.01" y="30" width="4.4" height="4.4" fill="#128A47" stroke="#000" stroke-width="0.9"/>
<circle cx="429.21" cy="32.2" r="1.35" fill="#B4F2D4"/>
<rect x="429.5" y="30" width="4.4" height="4.4" fill="#128A47" stroke="#000" stroke-width="0.9"/>
<circle cx="431.7" cy="32.2" r="1.35" fill="#B4F2D4"/>
<rect x="431.98" y="30" width="4.4" height="4.4" fill="#128A47" stroke="#000" stroke-width="0.9"/>
<circle cx="434.18" cy="32.2" r="1.35" fill="#B4F2D4"/>
<rect x="434.47" y="30" width="4.4" height="4.4" fill="#128A47" stroke="#000" stroke-width="0.9"/>
<circle cx="436.67" cy="32.2" r="1.35" fill="#B4F2D4"/>
<rect x="436.95" y="30" width="4.4" height="4.4" fill="#128A47" stroke="#000" stroke-width="0.9"/>
<circle cx="439.15" cy="32.2" r="1.35" fill="#B4F2D4"/>
<rect x="439.44" y="30" width="4.4" height="4.4" fill="#128A47" stroke="#000" stroke-width="0.9"/>
<circle cx="441.64" cy="32.2" r="1.35" fill="#B4F2D4"/>
<rect x="441.93" y="30" width="4.4" height="4.4" fill="#128A47" stroke="#000" stroke-width="0.9"/>
<circle cx="444.13" cy="32.2" r="1.35" fill="#B4F2D4"/>
<rect x="444.41" y="30" width="4.4" height="4.4" fill="#128A47" stroke="#000" stroke-width="0.9"/>
<circle cx="446.61" cy="32.2" r="1.35" fill="#B4F2D4"/>
<rect x="446.9" y="30" width="4.4" height="4.4" fill="#128A47" stroke="#000" stroke-width="0.9"/>
<circle cx="449.1" cy="32.2" r="1.35" fill="#B4F2D4"/>
<line x1="366.1" y1="166" x2="391.8" y2="166" stroke="#111" stroke-width="1"/>
<circle cx="377.8" cy="166" r="1.9" fill="#F2B200" stroke="#000" stroke-width="0.9"/>
<text x="394.3" y="169.9" font-size="11">WT Control</text>
<line x1="366.1" y1="180.2" x2="391.8" y2="180.2" stroke="#111" stroke-width="1"/>
<circle cx="377.8" cy="180.2" r="1.9" fill="#07A04C" stroke="#000" stroke-width="0.9"/>
<text x="395.5" y="184.1" font-size="11"><tspan font-style="italic">etr1a</tspan> Control</text>
<line x1="366.1" y1="193.8" x2="391.8" y2="193.8" stroke="#111" stroke-width="1"/>
<rect x="375.8" y="191.8" width="4" height="4" fill="#D8A838" stroke="#000" stroke-width="0.9"/>
<circle cx="377.8" cy="193.8" r="1.2" fill="#FBF0A6"/>
<text x="394.3" y="197.7" font-size="11">WT NaCl</text>
<line x1="366.1" y1="207.4" x2="391.8" y2="207.4" stroke="#111" stroke-width="1"/>
<rect x="375.7" y="205.3" width="4.2" height="4.2" fill="#86D9AC" stroke="#000" stroke-width="0.9"/>
<path d="M376.7 206.3L378.9 208.5M376.7 208.5L378.9 206.3" stroke="#F2FFF8" stroke-width="0.7"/>
<text x="395.5" y="211.3" font-size="11"><tspan font-style="italic">etr1a</tspan> NaCl</text>
<path d="M503.5 217V33.5M498.3 216.5H508.1M503.5 212.84H506.9M503.5 209.18H506.9M503.5 205.52H506.9M503.5 201.86H506.9M498.3 198.2H508.1M503.5 194.54H506.9M503.5 190.88H506.9M503.5 187.22H506.9M503.5 183.56H506.9M498.3 179.9H508.1M503.5 176.24H506.9M503.5 172.58H506.9M503.5 168.92H506.9M503.5 165.26H506.9M498.3 161.6H508.1M503.5 157.94H506.9M503.5 154.28H506.9M503.5 150.62H506.9M503.5 146.96H506.9M498.3 143.3H508.1M503.5 139.64H506.9M503.5 135.98H506.9M503.5 132.32H506.9M503.5 128.66H506.9M498.3 125H508.1M503.5 121.34H506.9M503.5 117.68H506.9M503.5 114.02H506.9M503.5 110.36H506.9M498.3 106.7H508.1M503.5 103.04H506.9M503.5 99.38H506.9M503.5 95.72H506.9M503.5 92.06H506.9M498.3 88.4H508.1M503.5 84.74H506.9M503.5 81.08H506.9M503.5 77.42H506.9M503.5 73.76H506.9M498.3 70.1H508.1M503.5 66.44H506.9M503.5 62.78H506.9M503.5 59.12H506.9M503.5 55.46H506.9M498.3 51.8H508.1M503.5 48.14H506.9M503.5 44.48H506.9M503.5 40.82H506.9M503.5 37.16H506.9M498.3 33.5H508.1M498.3 216.5H676.7M503.5 216.5V220.7M512.16 216.5V220.7M520.82 216.5V220.7M529.48 216.5V220.7M538.14 216.5V220.7M546.8 216.5V220.7M555.46 216.5V220.7M564.12 216.5V220.7M572.78 216.5V220.7M581.44 216.5V220.7M590.1 216.5V220.7M598.76 216.5V220.7M607.42 216.5V220.7M616.08 216.5V220.7M624.74 216.5V220.7M633.4 216.5V220.7M642.06 216.5V220.7M650.72 216.5V220.7M659.38 216.5V220.7M668.04 216.5V220.7M676.7 216.5V220.7M503.5 216.5V221.7M546.8 216.5V221.7M590.1 216.5V221.7M633.4 216.5V221.7M676.7 216.5V221.7" stroke="#111" stroke-width="1" fill="none"/>
<text transform="translate(490.9,221.65) scale(0.85,1)" font-size="14.4" text-anchor="end">0</text>
<text transform="translate(490.9,203.35) scale(0.85,1)" font-size="14.4" text-anchor="end">10</text>
<text transform="translate(490.9,185.05) scale(0.85,1)" font-size="14.4" text-anchor="end">20</text>
<text transform="translate(490.9,166.75) scale(0.85,1)" font-size="14.4" text-anchor="end">30</text>
<text transform="translate(490.9,148.45) scale(0.85,1)" font-size="14.4" text-anchor="end">40</text>
<text transform="translate(490.9,130.15) scale(0.85,1)" font-size="14.4" text-anchor="end">50</text>
<text transform="translate(490.9,111.85) scale(0.85,1)" font-size="14.4" text-anchor="end">60</text>
<text transform="translate(490.9,93.55) scale(0.85,1)" font-size="14.4" text-anchor="end">70</text>
<text transform="translate(490.9,75.25) scale(0.85,1)" font-size="14.4" text-anchor="end">80</text>
<text transform="translate(490.9,56.95) scale(0.85,1)" font-size="14.4" text-anchor="end">90</text>
<text transform="translate(490.9,38.65) scale(0.85,1)" font-size="14.4" text-anchor="end">100</text>
<text transform="translate(503.5,241.9) scale(0.85,1)" font-size="14.4" text-anchor="middle">15</text>
<text transform="translate(546.8,241.9) scale(0.85,1)" font-size="14.4" text-anchor="middle">25</text>
<text transform="translate(590.1,241.9) scale(0.85,1)" font-size="14.4" text-anchor="middle">35</text>
<text transform="translate(633.4,241.9) scale(0.85,1)" font-size="14.4" text-anchor="middle">45</text>
<text transform="translate(676.7,241.9) scale(0.85,1)" font-size="14.4" text-anchor="middle">55</text>
<path d="M518.22 204.72V211.81M515.02 204.72H521.42M515.02 211.81H521.42M521.69 205.63V210.9M518.49 205.63H524.89M518.49 210.9H524.89M523.42 200.68V205.96M520.22 200.68H526.62M520.22 205.96H526.62M525.37 200.32V206.33M522.17 200.32H528.57M522.17 206.33H528.57M527.32 197.18V209.46M524.12 197.18H530.52M524.12 209.46H530.52M532.08 164.79V177.07M528.88 164.79H535.28M528.88 177.07H535.28M535.11 166.45V175.42M531.91 166.45H538.31M531.91 175.42H538.31M537.27 154.54V165.37M534.07 154.54H540.47M534.07 165.37H540.47M541.6 144.48V161.88M538.4 144.48H544.8M538.4 161.88H544.8M545.07 115.04V130.21M541.87 115.04H548.27M541.87 130.21H548.27M547.38 120.64V124.6M544.18 120.64H550.58M544.18 124.6H550.58M549.69 121V124.24M546.49 121H552.89M546.49 124.24H552.89M552 118.32V126.92M548.8 118.32H555.2M548.8 126.92H555.2M555.46 101.3V114.66M552.26 101.3H558.66M552.26 114.66H558.66M559.36 86.12V103.86M556.16 86.12H562.56M556.16 103.86H562.56M562.82 60.96V78.51M559.62 60.96H566.02M559.62 78.51H566.02M565.85 53.95V66.12M562.65 53.95H569.05M562.65 66.12H569.05M567.58 46.33V55.44M564.38 46.33H570.78M564.38 55.44H570.78M570.18 45.58V56.19M566.98 45.58H573.38M566.98 56.19H573.38M572.35 33.5V43.22M569.15 33.5H575.55M569.15 43.22H575.55M574.08 32.4V37.52M570.88 37.52H577.28M576.47 32.4V37.52M573.27 37.52H579.67M578.85 32.4V37.52M575.65 37.52H582.05M581.24 32.4V37.52M578.04 37.52H584.44M583.63 32.4V37.52M580.43 37.52H586.83M586.01 32.4V37.52M582.81 37.52H589.21M588.4 32.4V37.52M585.2 37.52H591.6M590.78 32.4V37.52M587.58 37.52H593.98M593.17 32.4V37.52M589.97 37.52H596.37M595.56 32.4V37.52M592.36 37.52H598.76M597.94 32.4V37.52M594.74 37.52H601.14M600.33 32.4V37.52M597.13 37.52H603.53M602.72 32.4V37.52M599.52 37.52H605.92M605.1 32.4V37.52M601.9 37.52H608.3M607.49 32.4V37.52M604.29 37.52H610.69M609.88 32.4V37.52M606.68 37.52H613.08M612.26 32.4V37.52M609.06 37.52H615.46M614.65 32.4V37.52M611.45 37.52H617.85M617.04 32.4V37.52M613.84 37.52H620.24M619.42 32.4V37.52M616.22 37.52H622.62M621.81 32.4V37.52M618.61 37.52H625.01M624.2 32.4V37.52M621 37.52H627.4M626.58 32.4V37.52M623.38 37.52H629.78M628.97 32.4V37.52M625.77 37.52H632.17M631.36 32.4V37.52M628.16 37.52H634.56M633.74 32.4V37.52M630.54 37.52H636.94M636.13 32.4V37.52M632.93 37.52H639.33M638.52 32.4V37.52M635.32 37.52H641.72M640.9 32.4V37.52M637.7 37.52H644.1M643.29 32.4V37.52M640.09 37.52H646.49M645.68 32.4V37.52M642.48 37.52H648.88M648.06 32.4V37.52M644.86 37.52H651.26M650.45 32.4V37.52M647.25 37.52H653.65M652.83 32.4V37.52M649.63 37.52H656.03M655.22 32.4V37.52M652.02 37.52H658.42M657.61 32.4V37.52M654.41 37.52H660.81M659.99 32.4V37.52M656.79 37.52H663.19M662.38 32.4V37.52M659.18 37.52H665.58M664.77 32.4V37.52M661.57 37.52H667.97M667.15 32.4V37.52M663.95 37.52H670.35M669.54 32.4V37.52M666.34 37.52H672.74M671.93 32.4V37.52M668.73 37.52H675.13M674.31 32.4V37.52M671.11 37.52H677.51M676.7 32.4V37.52M673.5 37.52H679.9" stroke="#000" stroke-width="0.9" fill="none"/>
<path d="M509.56 215.6L512.02 215.6L514.47 215.6L516.92 215.6L518.22 208.26L521.69 208.26L523.42 203.32L525.37 203.32L527.32 203.32L532.08 170.93L535.11 170.93L537.27 159.95L541.6 153.18L545.07 122.62L547.38 122.62L549.69 122.62L552 122.62L555.46 107.98L559.36 94.99L562.82 69.73L565.85 60.03L567.58 50.88L570.18 50.88L572.35 37.16L574.08 32.4L576.47 32.4L578.85 32.4L581.24 32.4L583.63 32.4L586.01 32.4L588.4 32.4L590.78 32.4L593.17 32.4L595.56 32.4L597.94 32.4L600.33 32.4L602.72 32.4L605.1 32.4L607.49 32.4L609.88 32.4L612.26 32.4L614.65 32.4L617.04 32.4L619.42 32.4L621.81 32.4L624.2 32.4L626.58 32.4L628.97 32.4L631.36 32.4L633.74 32.4L636.13 32.4L638.52 32.4L640.9 32.4L643.29 32.4L645.68 32.4L648.06 32.4L650.45 32.4L652.83 32.4L655.22 32.4L657.61 32.4L659.99 32.4L662.38 32.4L664.77 32.4L667.15 32.4L669.54 32.4L671.93 32.4L674.31 32.4L676.7 32.4" stroke="#000" stroke-width="0.9" fill="none"/>
<circle cx="509.56" cy="215.6" r="2.15" fill="#F2B200" stroke="#000" stroke-width="0.9"/>
<circle cx="512.02" cy="215.6" r="2.15" fill="#F2B200" stroke="#000" stroke-width="0.9"/>
<circle cx="514.47" cy="215.6" r="2.15" fill="#F2B200" stroke="#000" stroke-width="0.9"/>
<circle cx="516.92" cy="215.6" r="2.15" fill="#F2B200" stroke="#000" stroke-width="0.9"/>
<circle cx="518.22" cy="208.26" r="2.15" fill="#F2B200" stroke="#000" stroke-width="0.9"/>
<circle cx="521.69" cy="208.26" r="2.15" fill="#F2B200" stroke="#000" stroke-width="0.9"/>
<circle cx="523.42" cy="203.32" r="2.15" fill="#F2B200" stroke="#000" stroke-width="0.9"/>
<circle cx="525.37" cy="203.32" r="2.15" fill="#F2B200" stroke="#000" stroke-width="0.9"/>
<circle cx="527.32" cy="203.32" r="2.15" fill="#F2B200" stroke="#000" stroke-width="0.9"/>
<circle cx="532.08" cy="170.93" r="2.15" fill="#F2B200" stroke="#000" stroke-width="0.9"/>
<circle cx="535.11" cy="170.93" r="2.15" fill="#F2B200" stroke="#000" stroke-width="0.9"/>
<circle cx="537.27" cy="159.95" r="2.15" fill="#F2B200" stroke="#000" stroke-width="0.9"/>
<circle cx="541.6" cy="153.18" r="2.15" fill="#F2B200" stroke="#000" stroke-width="0.9"/>
<circle cx="545.07" cy="122.62" r="2.15" fill="#F2B200" stroke="#000" stroke-width="0.9"/>
<circle cx="547.38" cy="122.62" r="2.15" fill="#F2B200" stroke="#000" stroke-width="0.9"/>
<circle cx="549.69" cy="122.62" r="2.15" fill="#F2B200" stroke="#000" stroke-width="0.9"/>
<circle cx="552" cy="122.62" r="2.15" fill="#F2B200" stroke="#000" stroke-width="0.9"/>
<circle cx="555.46" cy="107.98" r="2.15" fill="#F2B200" stroke="#000" stroke-width="0.9"/>
<circle cx="559.36" cy="94.99" r="2.15" fill="#F2B200" stroke="#000" stroke-width="0.9"/>
<circle cx="562.82" cy="69.73" r="2.15" fill="#F2B200" stroke="#000" stroke-width="0.9"/>
<circle cx="565.85" cy="60.03" r="2.15" fill="#F2B200" stroke="#000" stroke-width="0.9"/>
<circle cx="567.58" cy="50.88" r="2.15" fill="#F2B200" stroke="#000" stroke-width="0.9"/>
<circle cx="570.18" cy="50.88" r="2.15" fill="#F2B200" stroke="#000" stroke-width="0.9"/>
<circle cx="572.35" cy="37.16" r="2.15" fill="#F2B200" stroke="#000" stroke-width="0.9"/>
<circle cx="574.08" cy="32.4" r="2.15" fill="#F2B200" stroke="#000" stroke-width="0.9"/>
<circle cx="576.47" cy="32.4" r="2.15" fill="#F2B200" stroke="#000" stroke-width="0.9"/>
<circle cx="578.85" cy="32.4" r="2.15" fill="#F2B200" stroke="#000" stroke-width="0.9"/>
<circle cx="581.24" cy="32.4" r="2.15" fill="#F2B200" stroke="#000" stroke-width="0.9"/>
<circle cx="583.63" cy="32.4" r="2.15" fill="#F2B200" stroke="#000" stroke-width="0.9"/>
<circle cx="586.01" cy="32.4" r="2.15" fill="#F2B200" stroke="#000" stroke-width="0.9"/>
<circle cx="588.4" cy="32.4" r="2.15" fill="#F2B200" stroke="#000" stroke-width="0.9"/>
<circle cx="590.78" cy="32.4" r="2.15" fill="#F2B200" stroke="#000" stroke-width="0.9"/>
<circle cx="593.17" cy="32.4" r="2.15" fill="#F2B200" stroke="#000" stroke-width="0.9"/>
<circle cx="595.56" cy="32.4" r="2.15" fill="#F2B200" stroke="#000" stroke-width="0.9"/>
<circle cx="597.94" cy="32.4" r="2.15" fill="#F2B200" stroke="#000" stroke-width="0.9"/>
<circle cx="600.33" cy="32.4" r="2.15" fill="#F2B200" stroke="#000" stroke-width="0.9"/>
<circle cx="602.72" cy="32.4" r="2.15" fill="#F2B200" stroke="#000" stroke-width="0.9"/>
<circle cx="605.1" cy="32.4" r="2.15" fill="#F2B200" stroke="#000" stroke-width="0.9"/>
<circle cx="607.49" cy="32.4" r="2.15" fill="#F2B200" stroke="#000" stroke-width="0.9"/>
<circle cx="609.88" cy="32.4" r="2.15" fill="#F2B200" stroke="#000" stroke-width="0.9"/>
<circle cx="612.26" cy="32.4" r="2.15" fill="#F2B200" stroke="#000" stroke-width="0.9"/>
<circle cx="614.65" cy="32.4" r="2.15" fill="#F2B200" stroke="#000" stroke-width="0.9"/>
<circle cx="617.04" cy="32.4" r="2.15" fill="#F2B200" stroke="#000" stroke-width="0.9"/>
<circle cx="619.42" cy="32.4" r="2.15" fill="#F2B200" stroke="#000" stroke-width="0.9"/>
<circle cx="621.81" cy="32.4" r="2.15" fill="#F2B200" stroke="#000" stroke-width="0.9"/>
<circle cx="624.2" cy="32.4" r="2.15" fill="#F2B200" stroke="#000" stroke-width="0.9"/>
<circle cx="626.58" cy="32.4" r="2.15" fill="#F2B200" stroke="#000" stroke-width="0.9"/>
<circle cx="628.97" cy="32.4" r="2.15" fill="#F2B200" stroke="#000" stroke-width="0.9"/>
<circle cx="631.36" cy="32.4" r="2.15" fill="#F2B200" stroke="#000" stroke-width="0.9"/>
<circle cx="633.74" cy="32.4" r="2.15" fill="#F2B200" stroke="#000" stroke-width="0.9"/>
<circle cx="636.13" cy="32.4" r="2.15" fill="#F2B200" stroke="#000" stroke-width="0.9"/>
<circle cx="638.52" cy="32.4" r="2.15" fill="#F2B200" stroke="#000" stroke-width="0.9"/>
<circle cx="640.9" cy="32.4" r="2.15" fill="#F2B200" stroke="#000" stroke-width="0.9"/>
<circle cx="643.29" cy="32.4" r="2.15" fill="#F2B200" stroke="#000" stroke-width="0.9"/>
<circle cx="645.68" cy="32.4" r="2.15" fill="#F2B200" stroke="#000" stroke-width="0.9"/>
<circle cx="648.06" cy="32.4" r="2.15" fill="#F2B200" stroke="#000" stroke-width="0.9"/>
<circle cx="650.45" cy="32.4" r="2.15" fill="#F2B200" stroke="#000" stroke-width="0.9"/>
<circle cx="652.83" cy="32.4" r="2.15" fill="#F2B200" stroke="#000" stroke-width="0.9"/>
<circle cx="655.22" cy="32.4" r="2.15" fill="#F2B200" stroke="#000" stroke-width="0.9"/>
<circle cx="657.61" cy="32.4" r="2.15" fill="#F2B200" stroke="#000" stroke-width="0.9"/>
<circle cx="659.99" cy="32.4" r="2.15" fill="#F2B200" stroke="#000" stroke-width="0.9"/>
<circle cx="662.38" cy="32.4" r="2.15" fill="#F2B200" stroke="#000" stroke-width="0.9"/>
<circle cx="664.77" cy="32.4" r="2.15" fill="#F2B200" stroke="#000" stroke-width="0.9"/>
<circle cx="667.15" cy="32.4" r="2.15" fill="#F2B200" stroke="#000" stroke-width="0.9"/>
<circle cx="669.54" cy="32.4" r="2.15" fill="#F2B200" stroke="#000" stroke-width="0.9"/>
<circle cx="671.93" cy="32.4" r="2.15" fill="#F2B200" stroke="#000" stroke-width="0.9"/>
<circle cx="674.31" cy="32.4" r="2.15" fill="#F2B200" stroke="#000" stroke-width="0.9"/>
<circle cx="676.7" cy="32.4" r="2.15" fill="#F2B200" stroke="#000" stroke-width="0.9"/>
<path d="M522.99 204.72V211.81M519.78 204.72H526.19M519.78 211.81H526.19M525.15 204.44V212.09M521.95 204.44H528.35M521.95 212.09H528.35M527.32 204.17V212.36M524.12 204.17H530.52M524.12 212.36H530.52M528.18 193.92V202.12M524.98 193.92H531.38M524.98 202.12H531.38M531.64 194.82V201.21M528.44 194.82H534.85M528.44 201.21H534.85M533.38 187.87V194.26M530.18 187.87H536.58M530.18 194.26H536.58M535.98 185.21V196.91M532.77 185.21H539.18M532.77 196.91H539.18M537.71 168.56V182.82M534.51 168.56H540.91M534.51 182.82H540.91M539.87 165.24V179.92M536.67 165.24H543.07M536.67 179.92H543.07M541.6 153.48V169.35M538.4 153.48H544.8M538.4 169.35H544.8M546.37 134.32V145.32M543.17 134.32H549.57M543.17 145.32H549.57M551.56 127.81V137.57M548.36 127.81H554.76M548.36 137.57H554.76M554.16 116.25V130.09M550.96 116.25H557.36M550.96 130.09H557.36M556.76 104.72V119.66M553.56 104.72H559.96M553.56 119.66H559.96M559.36 95.4V105.92M556.16 95.4H562.56M556.16 105.92H562.56M565.85 88.4V98.28M562.65 88.4H569.05M562.65 98.28H569.05M567.58 80.27V93.23M564.38 80.27H570.78M564.38 93.23H570.78M570.18 69.82V80.99M566.98 69.82H573.38M566.98 80.99H573.38M572.35 67.33V76.9M569.15 67.33H575.55M569.15 76.9H575.55M574.08 62.42V73.76M570.88 62.42H577.28M570.88 73.76H577.28M576.68 52.52V62.43M573.48 52.52H579.88M573.48 62.43H579.88M578.84 52.21V57.25M575.64 52.21H582.04M575.64 57.25H582.04M581.3 53.4V56.06M578.1 53.4H584.5M578.1 56.06H584.5M583.75 53.45V56.01M580.55 53.45H586.95M580.55 56.01H586.95M586.2 53.45V56.01M583 53.45H589.4M583 56.01H589.4M588.66 53.45V56.01M585.46 53.45H591.86M585.46 56.01H591.86M591.11 53.45V56.01M587.91 53.45H594.31M587.91 56.01H594.31M593.56 53.45V56.01M590.36 53.45H596.76M590.36 56.01H596.76M596.02 53.45V56.01M592.82 53.45H599.22M592.82 56.01H599.22M598.47 53.38V56.07M595.27 53.38H601.67M595.27 56.07H601.67M600.92 52.29V57.17M597.72 52.29H604.12M597.72 57.17H604.12M603.52 48.08V52.96M600.32 48.08H606.72M600.32 52.96H606.72M605.54 48.98V52.06M602.34 48.98H608.74M602.34 52.06H608.74M607.56 48.39V52.65M604.36 48.39H610.76M604.36 52.65H610.76M609.59 47.33V53.71M606.38 47.33H612.79M606.38 53.71H612.79M610.88 40.37V46.76M607.68 40.37H614.08M607.68 46.76H614.08M613.22 41.9V45.23M610.02 41.9H616.42M610.02 45.23H616.42M615.56 42.28V44.85M612.36 42.28H618.76M612.36 44.85H618.76M617.9 42.28V44.85M614.7 42.28H621.1M614.7 44.85H621.1M620.24 41.59V45.54M617.04 41.59H623.44M617.04 45.54H623.44M622.58 41.13V46M619.38 41.13H625.78M619.38 46H625.78M623.01 36.92V41.79M619.81 36.92H626.21M619.81 41.79H626.21M625.61 38.07V40.64M622.41 38.07H628.81M622.41 40.64H628.81M628.2 38.07V40.64M625 38.07H631.4M625 40.64H631.4M630.8 37.42V41.29M627.6 37.42H634M627.6 41.29H634M632.53 35.04V38.91M629.33 35.04H635.73M629.33 38.91H635.73M634.79 35.57V38.39M631.59 35.57H637.99M631.59 38.39H637.99M637.04 35.7V38.26M633.84 35.7H640.24M633.84 38.26H640.24M639.29 35.7V38.26M636.09 35.7H642.49M636.09 38.26H642.49M641.54 35.5V38.45M638.34 35.5H644.74M638.34 38.45H644.74M643.79 34.74V39.21M640.59 34.74H646.99M640.59 39.21H646.99" stroke="#000" stroke-width="0.9" fill="none"/>
<path d="M509.56 215.6L512.07 215.6L514.58 215.6L517.1 215.6L519.61 215.6L522.12 215.6L522.99 208.26L525.15 208.26L527.32 208.26L528.18 198.02L531.64 198.02L533.38 191.06L535.98 191.06L537.71 175.69L539.87 172.58L541.6 161.42L546.37 139.82L551.56 132.69L554.16 123.17L556.76 112.19L559.36 100.66L565.85 93.34L567.58 86.75L570.18 75.41L572.35 72.11L574.08 68.09L576.68 57.47L578.84 54.73L581.3 54.73L583.75 54.73L586.2 54.73L588.66 54.73L591.11 54.73L593.56 54.73L596.02 54.73L598.47 54.73L600.92 54.73L603.52 50.52L605.54 50.52L607.56 50.52L609.59 50.52L610.88 43.56L613.22 43.56L615.56 43.56L617.9 43.56L620.24 43.56L622.58 43.56L623.01 39.36L625.61 39.36L628.2 39.36L630.8 39.36L632.53 36.98L634.79 36.98L637.04 36.98L639.29 36.98L641.54 36.98L643.79 36.98L645.52 32.4L647.92 32.4L650.32 32.4L652.72 32.4L655.12 32.4L657.51 32.4L659.91 32.4L662.31 32.4L664.71 32.4L667.11 32.4L669.51 32.4L671.9 32.4L674.3 32.4L676.7 32.4" stroke="#000" stroke-width="0.9" fill="none"/>
<circle cx="509.56" cy="215.6" r="2.15" fill="#07A04C" stroke="#000" stroke-width="0.9"/>
<circle cx="512.07" cy="215.6" r="2.15" fill="#07A04C" stroke="#000" stroke-width="0.9"/>
<circle cx="514.58" cy="215.6" r="2.15" fill="#07A04C" stroke="#000" stroke-width="0.9"/>
<circle cx="517.1" cy="215.6" r="2.15" fill="#07A04C" stroke="#000" stroke-width="0.9"/>
<circle cx="519.61" cy="215.6" r="2.15" fill="#07A04C" stroke="#000" stroke-width="0.9"/>
<circle cx="522.12" cy="215.6" r="2.15" fill="#07A04C" stroke="#000" stroke-width="0.9"/>
<circle cx="522.99" cy="208.26" r="2.15" fill="#07A04C" stroke="#000" stroke-width="0.9"/>
<circle cx="525.15" cy="208.26" r="2.15" fill="#07A04C" stroke="#000" stroke-width="0.9"/>
<circle cx="527.32" cy="208.26" r="2.15" fill="#07A04C" stroke="#000" stroke-width="0.9"/>
<circle cx="528.18" cy="198.02" r="2.15" fill="#07A04C" stroke="#000" stroke-width="0.9"/>
<circle cx="531.64" cy="198.02" r="2.15" fill="#07A04C" stroke="#000" stroke-width="0.9"/>
<circle cx="533.38" cy="191.06" r="2.15" fill="#07A04C" stroke="#000" stroke-width="0.9"/>
<circle cx="535.98" cy="191.06" r="2.15" fill="#07A04C" stroke="#000" stroke-width="0.9"/>
<circle cx="537.71" cy="175.69" r="2.15" fill="#07A04C" stroke="#000" stroke-width="0.9"/>
<circle cx="539.87" cy="172.58" r="2.15" fill="#07A04C" stroke="#000" stroke-width="0.9"/>
<circle cx="541.6" cy="161.42" r="2.15" fill="#07A04C" stroke="#000" stroke-width="0.9"/>
<circle cx="546.37" cy="139.82" r="2.15" fill="#07A04C" stroke="#000" stroke-width="0.9"/>
<circle cx="551.56" cy="132.69" r="2.15" fill="#07A04C" stroke="#000" stroke-width="0.9"/>
<circle cx="554.16" cy="123.17" r="2.15" fill="#07A04C" stroke="#000" stroke-width="0.9"/>
<circle cx="556.76" cy="112.19" r="2.15" fill="#07A04C" stroke="#000" stroke-width="0.9"/>
<circle cx="559.36" cy="100.66" r="2.15" fill="#07A04C" stroke="#000" stroke-width="0.9"/>
<circle cx="565.85" cy="93.34" r="2.15" fill="#07A04C" stroke="#000" stroke-width="0.9"/>
<circle cx="567.58" cy="86.75" r="2.15" fill="#07A04C" stroke="#000" stroke-width="0.9"/>
<circle cx="570.18" cy="75.41" r="2.15" fill="#07A04C" stroke="#000" stroke-width="0.9"/>
<circle cx="572.35" cy="72.11" r="2.15" fill="#07A04C" stroke="#000" stroke-width="0.9"/>
<circle cx="574.08" cy="68.09" r="2.15" fill="#07A04C" stroke="#000" stroke-width="0.9"/>
<circle cx="576.68" cy="57.47" r="2.15" fill="#07A04C" stroke="#000" stroke-width="0.9"/>
<circle cx="578.84" cy="54.73" r="2.15" fill="#07A04C" stroke="#000" stroke-width="0.9"/>
<circle cx="581.3" cy="54.73" r="2.15" fill="#07A04C" stroke="#000" stroke-width="0.9"/>
<circle cx="583.75" cy="54.73" r="2.15" fill="#07A04C" stroke="#000" stroke-width="0.9"/>
<circle cx="586.2" cy="54.73" r="2.15" fill="#07A04C" stroke="#000" stroke-width="0.9"/>
<circle cx="588.66" cy="54.73" r="2.15" fill="#07A04C" stroke="#000" stroke-width="0.9"/>
<circle cx="591.11" cy="54.73" r="2.15" fill="#07A04C" stroke="#000" stroke-width="0.9"/>
<circle cx="593.56" cy="54.73" r="2.15" fill="#07A04C" stroke="#000" stroke-width="0.9"/>
<circle cx="596.02" cy="54.73" r="2.15" fill="#07A04C" stroke="#000" stroke-width="0.9"/>
<circle cx="598.47" cy="54.73" r="2.15" fill="#07A04C" stroke="#000" stroke-width="0.9"/>
<circle cx="600.92" cy="54.73" r="2.15" fill="#07A04C" stroke="#000" stroke-width="0.9"/>
<circle cx="603.52" cy="50.52" r="2.15" fill="#07A04C" stroke="#000" stroke-width="0.9"/>
<circle cx="605.54" cy="50.52" r="2.15" fill="#07A04C" stroke="#000" stroke-width="0.9"/>
<circle cx="607.56" cy="50.52" r="2.15" fill="#07A04C" stroke="#000" stroke-width="0.9"/>
<circle cx="609.59" cy="50.52" r="2.15" fill="#07A04C" stroke="#000" stroke-width="0.9"/>
<circle cx="610.88" cy="43.56" r="2.15" fill="#07A04C" stroke="#000" stroke-width="0.9"/>
<circle cx="613.22" cy="43.56" r="2.15" fill="#07A04C" stroke="#000" stroke-width="0.9"/>
<circle cx="615.56" cy="43.56" r="2.15" fill="#07A04C" stroke="#000" stroke-width="0.9"/>
<circle cx="617.9" cy="43.56" r="2.15" fill="#07A04C" stroke="#000" stroke-width="0.9"/>
<circle cx="620.24" cy="43.56" r="2.15" fill="#07A04C" stroke="#000" stroke-width="0.9"/>
<circle cx="622.58" cy="43.56" r="2.15" fill="#07A04C" stroke="#000" stroke-width="0.9"/>
<circle cx="623.01" cy="39.36" r="2.15" fill="#07A04C" stroke="#000" stroke-width="0.9"/>
<circle cx="625.61" cy="39.36" r="2.15" fill="#07A04C" stroke="#000" stroke-width="0.9"/>
<circle cx="628.2" cy="39.36" r="2.15" fill="#07A04C" stroke="#000" stroke-width="0.9"/>
<circle cx="630.8" cy="39.36" r="2.15" fill="#07A04C" stroke="#000" stroke-width="0.9"/>
<circle cx="632.53" cy="36.98" r="2.15" fill="#07A04C" stroke="#000" stroke-width="0.9"/>
<circle cx="634.79" cy="36.98" r="2.15" fill="#07A04C" stroke="#000" stroke-width="0.9"/>
<circle cx="637.04" cy="36.98" r="2.15" fill="#07A04C" stroke="#000" stroke-width="0.9"/>
<circle cx="639.29" cy="36.98" r="2.15" fill="#07A04C" stroke="#000" stroke-width="0.9"/>
<circle cx="641.54" cy="36.98" r="2.15" fill="#07A04C" stroke="#000" stroke-width="0.9"/>
<circle cx="643.79" cy="36.98" r="2.15" fill="#07A04C" stroke="#000" stroke-width="0.9"/>
<circle cx="645.52" cy="32.4" r="2.15" fill="#07A04C" stroke="#000" stroke-width="0.9"/>
<circle cx="647.92" cy="32.4" r="2.15" fill="#07A04C" stroke="#000" stroke-width="0.9"/>
<circle cx="650.32" cy="32.4" r="2.15" fill="#07A04C" stroke="#000" stroke-width="0.9"/>
<circle cx="652.72" cy="32.4" r="2.15" fill="#07A04C" stroke="#000" stroke-width="0.9"/>
<circle cx="655.12" cy="32.4" r="2.15" fill="#07A04C" stroke="#000" stroke-width="0.9"/>
<circle cx="657.51" cy="32.4" r="2.15" fill="#07A04C" stroke="#000" stroke-width="0.9"/>
<circle cx="659.91" cy="32.4" r="2.15" fill="#07A04C" stroke="#000" stroke-width="0.9"/>
<circle cx="662.31" cy="32.4" r="2.15" fill="#07A04C" stroke="#000" stroke-width="0.9"/>
<circle cx="664.71" cy="32.4" r="2.15" fill="#07A04C" stroke="#000" stroke-width="0.9"/>
<circle cx="667.11" cy="32.4" r="2.15" fill="#07A04C" stroke="#000" stroke-width="0.9"/>
<circle cx="669.51" cy="32.4" r="2.15" fill="#07A04C" stroke="#000" stroke-width="0.9"/>
<circle cx="671.9" cy="32.4" r="2.15" fill="#07A04C" stroke="#000" stroke-width="0.9"/>
<circle cx="674.3" cy="32.4" r="2.15" fill="#07A04C" stroke="#000" stroke-width="0.9"/>
<circle cx="676.7" cy="32.4" r="2.15" fill="#07A04C" stroke="#000" stroke-width="0.9"/>
<path d="M538.57 213.82V216.98M535.37 213.82H541.77M535.37 216.98H541.77M540.59 214.05V216.75M537.39 214.05H543.79M537.39 216.75H543.79M542.61 213.32V217.49M539.41 213.32H545.81M539.41 217.49H545.81M544.63 212.91V217.89M541.43 212.91H547.84M541.43 217.89H547.84M545.5 208.52V213.5M542.3 208.52H548.7M542.3 213.5H548.7M547.75 209.25V212.77M544.55 209.25H550.95M544.55 212.77H550.95M550 209.73V212.29M546.8 209.73H553.2M546.8 212.29H553.2M552.26 209.73V212.29M549.06 209.73H555.46M549.06 212.29H555.46M554.51 207.29V214.73M551.31 207.29H557.71M551.31 214.73H557.71M556.76 203.59V218.43M553.56 203.59H559.96M553.56 218.43H559.96M557.62 181.04V196.69M554.42 181.04H560.83M554.42 196.69H560.83M559.36 180.24V197.13M556.16 180.24H562.56M556.16 197.13H562.56M561.52 182.61V187.43M558.32 182.61H564.72M558.32 187.43H564.72M563.9 182.83V186.49M560.7 182.83H567.1M560.7 186.49H567.1M566.28 179.8V188.78M563.08 179.8H569.49M563.08 188.78H569.49M568.45 167.75V182.9M565.25 167.75H571.65M565.25 182.9H571.65M571.91 149.79V163.9M568.71 149.79H575.11M568.71 163.9H575.11M574.08 145.95V160.41M570.88 145.95H577.28M570.88 160.41H577.28M575.81 131.53V147.02M572.61 131.53H579.01M572.61 147.02H579.01M577.98 128.61V141.15M574.78 128.61H581.18M574.78 141.15H581.18M578.84 121.93V132.83M575.64 121.93H582.04M575.64 132.83H582.04M584.9 113.76V121.6M581.7 113.76H588.1M581.7 121.6H588.1M587.07 109.08V116.4M583.87 109.08H590.27M583.87 116.4H590.27M590.53 106V111.43M587.33 106H593.73M587.33 111.43H593.73M595.3 101.95V107.42M592.1 101.95H598.5M592.1 107.42H598.5M600.06 92.15V105.88M596.86 92.15H603.26M596.86 105.88H603.26M602.66 75.4V88.23M599.46 75.4H605.86M599.46 88.23H605.86M604.82 77.33V86.3M601.62 77.33H608.02M601.62 86.3H608.02M607.42 69.33V76.72M604.22 69.33H610.62M604.22 76.72H610.62M609.95 71.68V74.38M606.75 71.68H613.15M606.75 74.38H613.15M612.47 71.75V74.31M609.27 71.75H615.67M609.27 74.31H615.67M615 71.75V74.31M611.8 71.75H618.2M611.8 74.31H618.2M617.52 71.75V74.31M614.32 71.75H620.72M614.32 74.31H620.72M620.05 71.53V74.53M616.85 71.53H623.25M616.85 74.53H623.25M622.58 70.44V75.62M619.38 70.44H625.78M619.38 75.62H625.78M623.01 65.68V70.86M619.81 65.68H626.21M619.81 70.86H626.21M625.03 65.68V70.86M621.83 65.68H628.23M621.83 70.86H628.23M627.05 65.92V70.62M623.85 65.92H630.25M623.85 70.62H630.25M629.07 63.99V72.55M625.87 63.99H632.27M625.87 72.55H632.27M630.37 54.62V64.35M627.17 54.62H633.57M627.17 64.35H633.57M633.4 50.32V58.77M630.2 50.32H636.6M630.2 58.77H636.6M635.13 47.05V54.72M631.93 47.05H638.33M631.93 54.72H638.33M636.43 43.48V49.87M633.23 43.48H639.63M633.23 49.87H639.63M638.85 45.23V48.12M635.65 45.23H642.05M635.65 48.12H642.05M641.27 45.39V47.96M638.07 45.39H644.47M638.07 47.96H644.47M643.68 45.39V47.96M640.48 45.39H646.88M640.48 47.96H646.88M646.1 45.39V47.96M642.9 45.39H649.3M642.9 47.96H649.3M648.52 45.39V47.96M645.32 45.39H651.72M645.32 47.96H651.72M650.94 45.39V47.96M647.74 45.39H654.14M647.74 47.96H654.14M653.35 45.39V47.96M650.15 45.39H656.55M650.15 47.96H656.55M655.77 45.39V47.96M652.57 45.39H658.97M652.57 47.96H658.97M658.19 45.39V47.96M654.99 45.39H661.39M654.99 47.96H661.39M660.61 45.39V47.96M657.41 45.39H663.81M657.41 47.96H663.81M663.02 45.04V48.31M659.82 45.04H666.22M659.82 48.31H666.22M665.44 42.83V50.52M662.24 42.83H668.64M662.24 50.52H668.64M666.74 33.5V41.19M663.54 33.5H669.94M663.54 41.19H669.94M669.23 35.85V38.84M666.03 35.85H672.43M666.03 38.84H672.43M671.72 36.06V38.62M668.52 36.06H674.92M668.52 38.62H674.92M674.21 36.06V38.62M671.01 36.06H677.41M671.01 38.62H677.41M676.7 36.06V38.62M673.5 36.06H679.9M673.5 38.62H679.9" stroke="#000" stroke-width="0.9" fill="none"/>
<path d="M509.56 215.6L511.96 215.6L514.36 215.6L516.77 215.6L519.17 215.6L521.57 215.6L523.97 215.6L526.37 215.6L528.77 215.6L531.17 215.6L533.57 215.6L535.98 215.6L538.57 215.4L540.59 215.4L542.61 215.4L544.63 215.4L545.5 211.01L547.75 211.01L550 211.01L552.26 211.01L554.51 211.01L556.76 211.01L557.62 188.87L559.36 188.68L561.52 185.02L563.9 184.66L566.28 184.29L568.45 175.32L571.91 156.84L574.08 153.18L575.81 139.27L577.98 134.88L578.84 127.38L584.9 117.68L587.07 112.74L590.53 108.71L595.3 104.69L600.06 99.01L602.66 81.81L604.82 81.81L607.42 73.03L609.95 73.03L612.47 73.03L615 73.03L617.52 73.03L620.05 73.03L622.58 73.03L623.01 68.27L625.03 68.27L627.05 68.27L629.07 68.27L630.37 59.49L633.4 54.54L635.13 50.88L636.43 46.68L638.85 46.68L641.27 46.68L643.68 46.68L646.1 46.68L648.52 46.68L650.94 46.68L653.35 46.68L655.77 46.68L658.19 46.68L660.61 46.68L663.02 46.68L665.44 46.68L666.74 37.34L669.23 37.34L671.72 37.34L674.21 37.34L676.7 37.34" stroke="#000" stroke-width="0.9" fill="none"/>
<rect x="507.36" y="213.4" width="4.4" height="4.4" fill="#D8A838" stroke="#000" stroke-width="0.9"/>
<circle cx="509.56" cy="215.6" r="1.2" fill="#FBF0A6"/>
<rect x="509.76" y="213.4" width="4.4" height="4.4" fill="#D8A838" stroke="#000" stroke-width="0.9"/>
<circle cx="511.96" cy="215.6" r="1.2" fill="#FBF0A6"/>
<rect x="512.16" y="213.4" width="4.4" height="4.4" fill="#D8A838" stroke="#000" stroke-width="0.9"/>
<circle cx="514.36" cy="215.6" r="1.2" fill="#FBF0A6"/>
<rect x="514.57" y="213.4" width="4.4" height="4.4" fill="#D8A838" stroke="#000" stroke-width="0.9"/>
<circle cx="516.77" cy="215.6" r="1.2" fill="#FBF0A6"/>
<rect x="516.97" y="213.4" width="4.4" height="4.4" fill="#D8A838" stroke="#000" stroke-width="0.9"/>
<circle cx="519.17" cy="215.6" r="1.2" fill="#FBF0A6"/>
<rect x="519.37" y="213.4" width="4.4" height="4.4" fill="#D8A838" stroke="#000" stroke-width="0.9"/>
<circle cx="521.57" cy="215.6" r="1.2" fill="#FBF0A6"/>
<rect x="521.77" y="213.4" width="4.4" height="4.4" fill="#D8A838" stroke="#000" stroke-width="0.9"/>
<circle cx="523.97" cy="215.6" r="1.2" fill="#FBF0A6"/>
<rect x="524.17" y="213.4" width="4.4" height="4.4" fill="#D8A838" stroke="#000" stroke-width="0.9"/>
<circle cx="526.37" cy="215.6" r="1.2" fill="#FBF0A6"/>
<rect x="526.57" y="213.4" width="4.4" height="4.4" fill="#D8A838" stroke="#000" stroke-width="0.9"/>
<circle cx="528.77" cy="215.6" r="1.2" fill="#FBF0A6"/>
<rect x="528.97" y="213.4" width="4.4" height="4.4" fill="#D8A838" stroke="#000" stroke-width="0.9"/>
<circle cx="531.17" cy="215.6" r="1.2" fill="#FBF0A6"/>
<rect x="531.37" y="213.4" width="4.4" height="4.4" fill="#D8A838" stroke="#000" stroke-width="0.9"/>
<circle cx="533.57" cy="215.6" r="1.2" fill="#FBF0A6"/>
<rect x="533.77" y="213.4" width="4.4" height="4.4" fill="#D8A838" stroke="#000" stroke-width="0.9"/>
<circle cx="535.98" cy="215.6" r="1.2" fill="#FBF0A6"/>
<rect x="536.37" y="213.2" width="4.4" height="4.4" fill="#D8A838" stroke="#000" stroke-width="0.9"/>
<circle cx="538.57" cy="215.4" r="1.2" fill="#FBF0A6"/>
<rect x="538.39" y="213.2" width="4.4" height="4.4" fill="#D8A838" stroke="#000" stroke-width="0.9"/>
<circle cx="540.59" cy="215.4" r="1.2" fill="#FBF0A6"/>
<rect x="540.41" y="213.2" width="4.4" height="4.4" fill="#D8A838" stroke="#000" stroke-width="0.9"/>
<circle cx="542.61" cy="215.4" r="1.2" fill="#FBF0A6"/>
<rect x="542.43" y="213.2" width="4.4" height="4.4" fill="#D8A838" stroke="#000" stroke-width="0.9"/>
<circle cx="544.63" cy="215.4" r="1.2" fill="#FBF0A6"/>
<rect x="543.3" y="208.81" width="4.4" height="4.4" fill="#D8A838" stroke="#000" stroke-width="0.9"/>
<circle cx="545.5" cy="211.01" r="1.2" fill="#FBF0A6"/>
<rect x="545.55" y="208.81" width="4.4" height="4.4" fill="#D8A838" stroke="#000" stroke-width="0.9"/>
<circle cx="547.75" cy="211.01" r="1.2" fill="#FBF0A6"/>
<rect x="547.8" y="208.81" width="4.4" height="4.4" fill="#D8A838" stroke="#000" stroke-width="0.9"/>
<circle cx="550" cy="211.01" r="1.2" fill="#FBF0A6"/>
<rect x="550.06" y="208.81" width="4.4" height="4.4" fill="#D8A838" stroke="#000" stroke-width="0.9"/>
<circle cx="552.26" cy="211.01" r="1.2" fill="#FBF0A6"/>
<rect x="552.31" y="208.81" width="4.4" height="4.4" fill="#D8A838" stroke="#000" stroke-width="0.9"/>
<circle cx="554.51" cy="211.01" r="1.2" fill="#FBF0A6"/>
<rect x="554.56" y="208.81" width="4.4" height="4.4" fill="#D8A838" stroke="#000" stroke-width="0.9"/>
<circle cx="556.76" cy="211.01" r="1.2" fill="#FBF0A6"/>
<rect x="555.42" y="186.67" width="4.4" height="4.4" fill="#D8A838" stroke="#000" stroke-width="0.9"/>
<circle cx="557.62" cy="188.87" r="1.2" fill="#FBF0A6"/>
<rect x="557.16" y="186.48" width="4.4" height="4.4" fill="#D8A838" stroke="#000" stroke-width="0.9"/>
<circle cx="559.36" cy="188.68" r="1.2" fill="#FBF0A6"/>
<rect x="559.32" y="182.82" width="4.4" height="4.4" fill="#D8A838" stroke="#000" stroke-width="0.9"/>
<circle cx="561.52" cy="185.02" r="1.2" fill="#FBF0A6"/>
<rect x="561.7" y="182.46" width="4.4" height="4.4" fill="#D8A838" stroke="#000" stroke-width="0.9"/>
<circle cx="563.9" cy="184.66" r="1.2" fill="#FBF0A6"/>
<rect x="564.08" y="182.09" width="4.4" height="4.4" fill="#D8A838" stroke="#000" stroke-width="0.9"/>
<circle cx="566.28" cy="184.29" r="1.2" fill="#FBF0A6"/>
<rect x="566.25" y="173.12" width="4.4" height="4.4" fill="#D8A838" stroke="#000" stroke-width="0.9"/>
<circle cx="568.45" cy="175.32" r="1.2" fill="#FBF0A6"/>
<rect x="569.71" y="154.64" width="4.4" height="4.4" fill="#D8A838" stroke="#000" stroke-width="0.9"/>
<circle cx="571.91" cy="156.84" r="1.2" fill="#FBF0A6"/>
<rect x="571.88" y="150.98" width="4.4" height="4.4" fill="#D8A838" stroke="#000" stroke-width="0.9"/>
<circle cx="574.08" cy="153.18" r="1.2" fill="#FBF0A6"/>
<rect x="573.61" y="137.07" width="4.4" height="4.4" fill="#D8A838" stroke="#000" stroke-width="0.9"/>
<circle cx="575.81" cy="139.27" r="1.2" fill="#FBF0A6"/>
<rect x="575.78" y="132.68" width="4.4" height="4.4" fill="#D8A838" stroke="#000" stroke-width="0.9"/>
<circle cx="577.98" cy="134.88" r="1.2" fill="#FBF0A6"/>
<rect x="576.64" y="125.18" width="4.4" height="4.4" fill="#D8A838" stroke="#000" stroke-width="0.9"/>
<circle cx="578.84" cy="127.38" r="1.2" fill="#FBF0A6"/>
<rect x="582.7" y="115.48" width="4.4" height="4.4" fill="#D8A838" stroke="#000" stroke-width="0.9"/>
<circle cx="584.9" cy="117.68" r="1.2" fill="#FBF0A6"/>
<rect x="584.87" y="110.54" width="4.4" height="4.4" fill="#D8A838" stroke="#000" stroke-width="0.9"/>
<circle cx="587.07" cy="112.74" r="1.2" fill="#FBF0A6"/>
<rect x="588.33" y="106.51" width="4.4" height="4.4" fill="#D8A838" stroke="#000" stroke-width="0.9"/>
<circle cx="590.53" cy="108.71" r="1.2" fill="#FBF0A6"/>
<rect x="593.1" y="102.49" width="4.4" height="4.4" fill="#D8A838" stroke="#000" stroke-width="0.9"/>
<circle cx="595.3" cy="104.69" r="1.2" fill="#FBF0A6"/>
<rect x="597.86" y="96.81" width="4.4" height="4.4" fill="#D8A838" stroke="#000" stroke-width="0.9"/>
<circle cx="600.06" cy="99.01" r="1.2" fill="#FBF0A6"/>
<rect x="600.46" y="79.61" width="4.4" height="4.4" fill="#D8A838" stroke="#000" stroke-width="0.9"/>
<circle cx="602.66" cy="81.81" r="1.2" fill="#FBF0A6"/>
<rect x="602.62" y="79.61" width="4.4" height="4.4" fill="#D8A838" stroke="#000" stroke-width="0.9"/>
<circle cx="604.82" cy="81.81" r="1.2" fill="#FBF0A6"/>
<rect x="605.22" y="70.83" width="4.4" height="4.4" fill="#D8A838" stroke="#000" stroke-width="0.9"/>
<circle cx="607.42" cy="73.03" r="1.2" fill="#FBF0A6"/>
<rect x="607.75" y="70.83" width="4.4" height="4.4" fill="#D8A838" stroke="#000" stroke-width="0.9"/>
<circle cx="609.95" cy="73.03" r="1.2" fill="#FBF0A6"/>
<rect x="610.27" y="70.83" width="4.4" height="4.4" fill="#D8A838" stroke="#000" stroke-width="0.9"/>
<circle cx="612.47" cy="73.03" r="1.2" fill="#FBF0A6"/>
<rect x="612.8" y="70.83" width="4.4" height="4.4" fill="#D8A838" stroke="#000" stroke-width="0.9"/>
<circle cx="615" cy="73.03" r="1.2" fill="#FBF0A6"/>
<rect x="615.32" y="70.83" width="4.4" height="4.4" fill="#D8A838" stroke="#000" stroke-width="0.9"/>
<circle cx="617.52" cy="73.03" r="1.2" fill="#FBF0A6"/>
<rect x="617.85" y="70.83" width="4.4" height="4.4" fill="#D8A838" stroke="#000" stroke-width="0.9"/>
<circle cx="620.05" cy="73.03" r="1.2" fill="#FBF0A6"/>
<rect x="620.38" y="70.83" width="4.4" height="4.4" fill="#D8A838" stroke="#000" stroke-width="0.9"/>
<circle cx="622.58" cy="73.03" r="1.2" fill="#FBF0A6"/>
<rect x="620.81" y="66.07" width="4.4" height="4.4" fill="#D8A838" stroke="#000" stroke-width="0.9"/>
<circle cx="623.01" cy="68.27" r="1.2" fill="#FBF0A6"/>
<rect x="622.83" y="66.07" width="4.4" height="4.4" fill="#D8A838" stroke="#000" stroke-width="0.9"/>
<circle cx="625.03" cy="68.27" r="1.2" fill="#FBF0A6"/>
<rect x="624.85" y="66.07" width="4.4" height="4.4" fill="#D8A838" stroke="#000" stroke-width="0.9"/>
<circle cx="627.05" cy="68.27" r="1.2" fill="#FBF0A6"/>
<rect x="626.87" y="66.07" width="4.4" height="4.4" fill="#D8A838" stroke="#000" stroke-width="0.9"/>
<circle cx="629.07" cy="68.27" r="1.2" fill="#FBF0A6"/>
<rect x="628.17" y="57.29" width="4.4" height="4.4" fill="#D8A838" stroke="#000" stroke-width="0.9"/>
<circle cx="630.37" cy="59.49" r="1.2" fill="#FBF0A6"/>
<rect x="631.2" y="52.34" width="4.4" height="4.4" fill="#D8A838" stroke="#000" stroke-width="0.9"/>
<circle cx="633.4" cy="54.54" r="1.2" fill="#FBF0A6"/>
<rect x="632.93" y="48.68" width="4.4" height="4.4" fill="#D8A838" stroke="#000" stroke-width="0.9"/>
<circle cx="635.13" cy="50.88" r="1.2" fill="#FBF0A6"/>
<rect x="634.23" y="44.48" width="4.4" height="4.4" fill="#D8A838" stroke="#000" stroke-width="0.9"/>
<circle cx="636.43" cy="46.68" r="1.2" fill="#FBF0A6"/>
<rect x="636.65" y="44.48" width="4.4" height="4.4" fill="#D8A838" stroke="#000" stroke-width="0.9"/>
<circle cx="638.85" cy="46.68" r="1.2" fill="#FBF0A6"/>
<rect x="639.07" y="44.48" width="4.4" height="4.4" fill="#D8A838" stroke="#000" stroke-width="0.9"/>
<circle cx="641.27" cy="46.68" r="1.2" fill="#FBF0A6"/>
<rect x="641.48" y="44.48" width="4.4" height="4.4" fill="#D8A838" stroke="#000" stroke-width="0.9"/>
<circle cx="643.68" cy="46.68" r="1.2" fill="#FBF0A6"/>
<rect x="643.9" y="44.48" width="4.4" height="4.4" fill="#D8A838" stroke="#000" stroke-width="0.9"/>
<circle cx="646.1" cy="46.68" r="1.2" fill="#FBF0A6"/>
<rect x="646.32" y="44.48" width="4.4" height="4.4" fill="#D8A838" stroke="#000" stroke-width="0.9"/>
<circle cx="648.52" cy="46.68" r="1.2" fill="#FBF0A6"/>
<rect x="648.74" y="44.48" width="4.4" height="4.4" fill="#D8A838" stroke="#000" stroke-width="0.9"/>
<circle cx="650.94" cy="46.68" r="1.2" fill="#FBF0A6"/>
<rect x="651.15" y="44.48" width="4.4" height="4.4" fill="#D8A838" stroke="#000" stroke-width="0.9"/>
<circle cx="653.35" cy="46.68" r="1.2" fill="#FBF0A6"/>
<rect x="653.57" y="44.48" width="4.4" height="4.4" fill="#D8A838" stroke="#000" stroke-width="0.9"/>
<circle cx="655.77" cy="46.68" r="1.2" fill="#FBF0A6"/>
<rect x="655.99" y="44.48" width="4.4" height="4.4" fill="#D8A838" stroke="#000" stroke-width="0.9"/>
<circle cx="658.19" cy="46.68" r="1.2" fill="#FBF0A6"/>
<rect x="658.41" y="44.48" width="4.4" height="4.4" fill="#D8A838" stroke="#000" stroke-width="0.9"/>
<circle cx="660.61" cy="46.68" r="1.2" fill="#FBF0A6"/>
<rect x="660.82" y="44.48" width="4.4" height="4.4" fill="#D8A838" stroke="#000" stroke-width="0.9"/>
<circle cx="663.02" cy="46.68" r="1.2" fill="#FBF0A6"/>
<rect x="663.24" y="44.48" width="4.4" height="4.4" fill="#D8A838" stroke="#000" stroke-width="0.9"/>
<circle cx="665.44" cy="46.68" r="1.2" fill="#FBF0A6"/>
<rect x="664.54" y="35.14" width="4.4" height="4.4" fill="#D8A838" stroke="#000" stroke-width="0.9"/>
<circle cx="666.74" cy="37.34" r="1.2" fill="#FBF0A6"/>
<rect x="667.03" y="35.14" width="4.4" height="4.4" fill="#D8A838" stroke="#000" stroke-width="0.9"/>
<circle cx="669.23" cy="37.34" r="1.2" fill="#FBF0A6"/>
<rect x="669.52" y="35.14" width="4.4" height="4.4" fill="#D8A838" stroke="#000" stroke-width="0.9"/>
<circle cx="671.72" cy="37.34" r="1.2" fill="#FBF0A6"/>
<rect x="672.01" y="35.14" width="4.4" height="4.4" fill="#D8A838" stroke="#000" stroke-width="0.9"/>
<circle cx="674.21" cy="37.34" r="1.2" fill="#FBF0A6"/>
<rect x="674.5" y="35.14" width="4.4" height="4.4" fill="#D8A838" stroke="#000" stroke-width="0.9"/>
<circle cx="676.7" cy="37.34" r="1.2" fill="#FBF0A6"/>
<path d="M537.27 201.68V212.66M534.07 201.68H540.47M534.07 212.66H540.47M539.44 197.02V207.43M536.24 197.02H542.64M536.24 207.43H542.64M543.34 183.74V202.04M540.14 183.74H546.54M540.14 202.04H546.54M545.5 162.39V178.01M542.3 162.39H548.7M542.3 178.01H548.7M548.53 168.17V172.24M545.33 168.17H551.73M545.33 172.24H551.73M552 163.01V170.08M548.8 163.01H555.2M548.8 170.08H555.2M554.16 157.21V167.09M550.96 157.21H557.36M550.96 167.09H557.36M556.33 148.68V165M553.13 148.68H559.53M553.13 165H559.53M559.36 127.07V142.7M556.16 127.07H562.56M556.16 142.7H562.56M563.69 122.15V131.14M560.49 122.15H566.89M560.49 131.14H566.89M565.85 116.01V126.67M562.65 116.01H569.05M562.65 126.67H569.05M568.45 107.43V118.05M565.25 107.43H571.65M565.25 118.05H571.65M571.91 101.75V107.63M568.71 101.75H575.11M568.71 107.63H575.11M574.3 103.01V106.37M571.1 103.01H577.5M571.1 106.37H577.5M576.68 100.79V108.58M573.48 100.79H579.88M573.48 108.58H579.88M578.84 91.27V99.07M575.64 91.27H582.04M575.64 99.07H582.04M581.44 93.89V96.45M578.24 93.89H584.64M578.24 96.45H584.64M584.04 91.76V98.58M580.84 91.76H587.24M580.84 98.58H587.24M585.34 85.8V94.3M582.14 85.8H588.54M582.14 94.3H588.54M587.07 82.19V90.95M583.87 82.19H590.27M583.87 90.95H590.27M588.8 79.21V85.14M585.6 79.21H592M585.6 85.14H592M590.97 80.6V83.76M587.77 80.6H594.17M587.77 83.76H594.17M593.13 80.49V83.87M589.93 80.49H596.33M589.93 83.87H596.33M595.3 78.43V85.92M592.1 78.43H598.5M592.1 85.92H598.5M597.89 69.46V76.96M594.69 69.46H601.09M594.69 76.96H601.09M600.2 71.66V74.77M597 71.66H603.4M597 74.77H603.4M602.51 71.81V74.61M599.31 71.81H605.71M599.31 74.61H605.71M604.82 70.87V75.55M601.62 70.87H608.02M601.62 75.55H608.02M608.29 64.59V71.58M605.09 64.59H611.49M605.09 71.58H611.49M609.59 60.91V66.84M606.38 60.91H612.79M606.38 66.84H612.79M612.33 62.6V65.16M609.13 62.6H615.53M609.13 65.16H615.53M615.07 62.6V65.16M611.87 62.6H618.27M611.87 65.16H618.27M617.81 61.49V66.27M614.61 61.49H621.01M614.61 66.27H621.01M618.68 57.46V62.24M615.48 57.46H621.88M615.48 62.24H621.88M620.7 57.83V61.87M617.5 57.83H623.9M617.5 61.87H623.9M622.72 54.95V64.76M619.52 54.95H625.92M619.52 64.76H625.92M624.74 54.95V64.76M621.54 54.95H627.94M621.54 64.76H627.94M625.17 41.77V51.58M621.97 41.77H628.37M621.97 51.58H628.37M627.34 41.77V51.58M624.14 41.77H630.54M624.14 51.58H630.54M629.5 45.39V47.96M626.3 45.39H632.7M626.3 47.96H632.7M631.67 45.39V47.96M628.47 45.39H634.87M628.47 47.96H634.87M633.83 44.01V49.34M630.63 44.01H637.03M630.63 49.34H637.03M636 41.94V51.41M632.8 41.94H639.2M632.8 51.41H639.2M636.86 33.5V41.52M633.66 33.5H640.06M633.66 41.52H640.06M639.03 32.4V34.6M635.83 34.6H642.23M641.38 32.4V34.6M638.18 34.6H644.58M643.74 32.4V34.6M640.54 34.6H646.94M646.09 32.4V34.6M642.89 34.6H649.29M648.45 32.4V34.6M645.25 34.6H651.65M650.8 32.4V34.6M647.6 34.6H654M653.16 32.4V34.6M649.96 34.6H656.36M655.51 32.4V34.6M652.31 34.6H658.71M657.86 32.4V34.6M654.66 34.6H661.06M660.22 32.4V34.6M657.02 34.6H663.42M662.57 32.4V34.6M659.37 34.6H665.77M664.93 32.4V34.6M661.73 34.6H668.13M667.28 32.4V34.6M664.08 34.6H670.48M669.64 32.4V34.6M666.44 34.6H672.84M671.99 32.4V34.6M668.79 34.6H675.19M674.35 32.4V34.6M671.15 34.6H677.55M676.7 32.4V34.6M673.5 34.6H679.9" stroke="#000" stroke-width="0.9" fill="none"/>
<path d="M509.56 215.6L511.96 215.6L514.36 215.6L516.77 215.6L519.17 215.6L521.57 215.6L523.97 215.6L526.37 215.6L528.77 215.6L531.17 215.6L533.57 215.6L535.98 215.6L537.27 207.17L539.44 202.23L543.34 192.89L545.5 170.2L548.53 170.2L552 166.54L554.16 162.15L556.33 156.84L559.36 134.88L563.69 126.65L565.85 121.34L568.45 112.74L571.91 104.69L574.3 104.69L576.68 104.69L578.84 95.17L581.44 95.17L584.04 95.17L585.34 90.05L587.07 86.57L588.8 82.18L590.97 82.18L593.13 82.18L595.3 82.18L597.89 73.21L600.2 73.21L602.51 73.21L604.82 73.21L608.29 68.09L609.59 63.88L612.33 63.88L615.07 63.88L617.81 63.88L618.68 59.85L620.7 59.85L622.72 59.85L624.74 59.85L625.17 46.68L627.34 46.68L629.5 46.68L631.67 46.68L633.83 46.68L636 46.68L636.86 36.61L639.03 32.4L641.38 32.4L643.74 32.4L646.09 32.4L648.45 32.4L650.8 32.4L653.16 32.4L655.51 32.4L657.86 32.4L660.22 32.4L662.57 32.4L664.93 32.4L667.28 32.4L669.64 32.4L671.99 32.4L674.35 32.4L676.7 32.4" stroke="#000" stroke-width="0.9" fill="none"/>
<rect x="507.36" y="213.4" width="4.4" height="4.4" fill="#128A47" stroke="#000" stroke-width="0.9"/>
<circle cx="509.56" cy="215.6" r="1.35" fill="#B4F2D4"/>
<rect x="509.76" y="213.4" width="4.4" height="4.4" fill="#128A47" stroke="#000" stroke-width="0.9"/>
<circle cx="511.96" cy="215.6" r="1.35" fill="#B4F2D4"/>
<rect x="512.16" y="213.4" width="4.4" height="4.4" fill="#128A47" stroke="#000" stroke-width="0.9"/>
<circle cx="514.36" cy="215.6" r="1.35" fill="#B4F2D4"/>
<rect x="514.57" y="213.4" width="4.4" height="4.4" fill="#128A47" stroke="#000" stroke-width="0.9"/>
<circle cx="516.77" cy="215.6" r="1.35" fill="#B4F2D4"/>
<rect x="516.97" y="213.4" width="4.4" height="4.4" fill="#128A47" stroke="#000" stroke-width="0.9"/>
<circle cx="519.17" cy="215.6" r="1.35" fill="#B4F2D4"/>
<rect x="519.37" y="213.4" width="4.4" height="4.4" fill="#128A47" stroke="#000" stroke-width="0.9"/>
<circle cx="521.57" cy="215.6" r="1.35" fill="#B4F2D4"/>
<rect x="521.77" y="213.4" width="4.4" height="4.4" fill="#128A47" stroke="#000" stroke-width="0.9"/>
<circle cx="523.97" cy="215.6" r="1.35" fill="#B4F2D4"/>
<rect x="524.17" y="213.4" width="4.4" height="4.4" fill="#128A47" stroke="#000" stroke-width="0.9"/>
<circle cx="526.37" cy="215.6" r="1.35" fill="#B4F2D4"/>
<rect x="526.57" y="213.4" width="4.4" height="4.4" fill="#128A47" stroke="#000" stroke-width="0.9"/>
<circle cx="528.77" cy="215.6" r="1.35" fill="#B4F2D4"/>
<rect x="528.97" y="213.4" width="4.4" height="4.4" fill="#128A47" stroke="#000" stroke-width="0.9"/>
<circle cx="531.17" cy="215.6" r="1.35" fill="#B4F2D4"/>
<rect x="531.37" y="213.4" width="4.4" height="4.4" fill="#128A47" stroke="#000" stroke-width="0.9"/>
<circle cx="533.57" cy="215.6" r="1.35" fill="#B4F2D4"/>
<rect x="533.77" y="213.4" width="4.4" height="4.4" fill="#128A47" stroke="#000" stroke-width="0.9"/>
<circle cx="535.98" cy="215.6" r="1.35" fill="#B4F2D4"/>
<rect x="535.07" y="204.97" width="4.4" height="4.4" fill="#128A47" stroke="#000" stroke-width="0.9"/>
<circle cx="537.27" cy="207.17" r="1.35" fill="#B4F2D4"/>
<rect x="537.24" y="200.03" width="4.4" height="4.4" fill="#128A47" stroke="#000" stroke-width="0.9"/>
<circle cx="539.44" cy="202.23" r="1.35" fill="#B4F2D4"/>
<rect x="541.14" y="190.69" width="4.4" height="4.4" fill="#128A47" stroke="#000" stroke-width="0.9"/>
<circle cx="543.34" cy="192.89" r="1.35" fill="#B4F2D4"/>
<rect x="543.3" y="168" width="4.4" height="4.4" fill="#128A47" stroke="#000" stroke-width="0.9"/>
<circle cx="545.5" cy="170.2" r="1.35" fill="#B4F2D4"/>
<rect x="546.33" y="168" width="4.4" height="4.4" fill="#128A47" stroke="#000" stroke-width="0.9"/>
<circle cx="548.53" cy="170.2" r="1.35" fill="#B4F2D4"/>
<rect x="549.8" y="164.34" width="4.4" height="4.4" fill="#128A47" stroke="#000" stroke-width="0.9"/>
<circle cx="552" cy="166.54" r="1.35" fill="#B4F2D4"/>
<rect x="551.96" y="159.95" width="4.4" height="4.4" fill="#128A47" stroke="#000" stroke-width="0.9"/>
<circle cx="554.16" cy="162.15" r="1.35" fill="#B4F2D4"/>
<rect x="554.13" y="154.64" width="4.4" height="4.4" fill="#128A47" stroke="#000" stroke-width="0.9"/>
<circle cx="556.33" cy="156.84" r="1.35" fill="#B4F2D4"/>
<rect x="557.16" y="132.68" width="4.4" height="4.4" fill="#128A47" stroke="#000" stroke-width="0.9"/>
<circle cx="559.36" cy="134.88" r="1.35" fill="#B4F2D4"/>
<rect x="561.49" y="124.45" width="4.4" height="4.4" fill="#128A47" stroke="#000" stroke-width="0.9"/>
<circle cx="563.69" cy="126.65" r="1.35" fill="#B4F2D4"/>
<rect x="563.65" y="119.14" width="4.4" height="4.4" fill="#128A47" stroke="#000" stroke-width="0.9"/>
<circle cx="565.85" cy="121.34" r="1.35" fill="#B4F2D4"/>
<rect x="566.25" y="110.54" width="4.4" height="4.4" fill="#128A47" stroke="#000" stroke-width="0.9"/>
<circle cx="568.45" cy="112.74" r="1.35" fill="#B4F2D4"/>
<rect x="569.71" y="102.49" width="4.4" height="4.4" fill="#128A47" stroke="#000" stroke-width="0.9"/>
<circle cx="571.91" cy="104.69" r="1.35" fill="#B4F2D4"/>
<rect x="572.1" y="102.49" width="4.4" height="4.4" fill="#128A47" stroke="#000" stroke-width="0.9"/>
<circle cx="574.3" cy="104.69" r="1.35" fill="#B4F2D4"/>
<rect x="574.48" y="102.49" width="4.4" height="4.4" fill="#128A47" stroke="#000" stroke-width="0.9"/>
<circle cx="576.68" cy="104.69" r="1.35" fill="#B4F2D4"/>
<rect x="576.64" y="92.97" width="4.4" height="4.4" fill="#128A47" stroke="#000" stroke-width="0.9"/>
<circle cx="578.84" cy="95.17" r="1.35" fill="#B4F2D4"/>
<rect x="579.24" y="92.97" width="4.4" height="4.4" fill="#128A47" stroke="#000" stroke-width="0.9"/>
<circle cx="581.44" cy="95.17" r="1.35" fill="#B4F2D4"/>
<rect x="581.84" y="92.97" width="4.4" height="4.4" fill="#128A47" stroke="#000" stroke-width="0.9"/>
<circle cx="584.04" cy="95.17" r="1.35" fill="#B4F2D4"/>
<rect x="583.14" y="87.85" width="4.4" height="4.4" fill="#128A47" stroke="#000" stroke-width="0.9"/>
<circle cx="585.34" cy="90.05" r="1.35" fill="#B4F2D4"/>
<rect x="584.87" y="84.37" width="4.4" height="4.4" fill="#128A47" stroke="#000" stroke-width="0.9"/>
<circle cx="587.07" cy="86.57" r="1.35" fill="#B4F2D4"/>
<rect x="586.6" y="79.98" width="4.4" height="4.4" fill="#128A47" stroke="#000" stroke-width="0.9"/>
<circle cx="588.8" cy="82.18" r="1.35" fill="#B4F2D4"/>
<rect x="588.77" y="79.98" width="4.4" height="4.4" fill="#128A47" stroke="#000" stroke-width="0.9"/>
<circle cx="590.97" cy="82.18" r="1.35" fill="#B4F2D4"/>
<rect x="590.93" y="79.98" width="4.4" height="4.4" fill="#128A47" stroke="#000" stroke-width="0.9"/>
<circle cx="593.13" cy="82.18" r="1.35" fill="#B4F2D4"/>
<rect x="593.1" y="79.98" width="4.4" height="4.4" fill="#128A47" stroke="#000" stroke-width="0.9"/>
<circle cx="595.3" cy="82.18" r="1.35" fill="#B4F2D4"/>
<rect x="595.69" y="71.01" width="4.4" height="4.4" fill="#128A47" stroke="#000" stroke-width="0.9"/>
<circle cx="597.89" cy="73.21" r="1.35" fill="#B4F2D4"/>
<rect x="598" y="71.01" width="4.4" height="4.4" fill="#128A47" stroke="#000" stroke-width="0.9"/>
<circle cx="600.2" cy="73.21" r="1.35" fill="#B4F2D4"/>
<rect x="600.31" y="71.01" width="4.4" height="4.4" fill="#128A47" stroke="#000" stroke-width="0.9"/>
<circle cx="602.51" cy="73.21" r="1.35" fill="#B4F2D4"/>
<rect x="602.62" y="71.01" width="4.4" height="4.4" fill="#128A47" stroke="#000" stroke-width="0.9"/>
<circle cx="604.82" cy="73.21" r="1.35" fill="#B4F2D4"/>
<rect x="606.09" y="65.89" width="4.4" height="4.4" fill="#128A47" stroke="#000" stroke-width="0.9"/>
<circle cx="608.29" cy="68.09" r="1.35" fill="#B4F2D4"/>
<rect x="607.38" y="61.68" width="4.4" height="4.4" fill="#128A47" stroke="#000" stroke-width="0.9"/>
<circle cx="609.59" cy="63.88" r="1.35" fill="#B4F2D4"/>
<rect x="610.13" y="61.68" width="4.4" height="4.4" fill="#128A47" stroke="#000" stroke-width="0.9"/>
<circle cx="612.33" cy="63.88" r="1.35" fill="#B4F2D4"/>
<rect x="612.87" y="61.68" width="4.4" height="4.4" fill="#128A47" stroke="#000" stroke-width="0.9"/>
<circle cx="615.07" cy="63.88" r="1.35" fill="#B4F2D4"/>
<rect x="615.61" y="61.68" width="4.4" height="4.4" fill="#128A47" stroke="#000" stroke-width="0.9"/>
<circle cx="617.81" cy="63.88" r="1.35" fill="#B4F2D4"/>
<rect x="616.48" y="57.65" width="4.4" height="4.4" fill="#128A47" stroke="#000" stroke-width="0.9"/>
<circle cx="618.68" cy="59.85" r="1.35" fill="#B4F2D4"/>
<rect x="618.5" y="57.65" width="4.4" height="4.4" fill="#128A47" stroke="#000" stroke-width="0.9"/>
<circle cx="620.7" cy="59.85" r="1.35" fill="#B4F2D4"/>
<rect x="620.52" y="57.65" width="4.4" height="4.4" fill="#128A47" stroke="#000" stroke-width="0.9"/>
<circle cx="622.72" cy="59.85" r="1.35" fill="#B4F2D4"/>
<rect x="622.54" y="57.65" width="4.4" height="4.4" fill="#128A47" stroke="#000" stroke-width="0.9"/>
<circle cx="624.74" cy="59.85" r="1.35" fill="#B4F2D4"/>
<rect x="622.97" y="44.48" width="4.4" height="4.4" fill="#128A47" stroke="#000" stroke-width="0.9"/>
<circle cx="625.17" cy="46.68" r="1.35" fill="#B4F2D4"/>
<rect x="625.14" y="44.48" width="4.4" height="4.4" fill="#128A47" stroke="#000" stroke-width="0.9"/>
<circle cx="627.34" cy="46.68" r="1.35" fill="#B4F2D4"/>
<rect x="627.3" y="44.48" width="4.4" height="4.4" fill="#128A47" stroke="#000" stroke-width="0.9"/>
<circle cx="629.5" cy="46.68" r="1.35" fill="#B4F2D4"/>
<rect x="629.47" y="44.48" width="4.4" height="4.4" fill="#128A47" stroke="#000" stroke-width="0.9"/>
<circle cx="631.67" cy="46.68" r="1.35" fill="#B4F2D4"/>
<rect x="631.63" y="44.48" width="4.4" height="4.4" fill="#128A47" stroke="#000" stroke-width="0.9"/>
<circle cx="633.83" cy="46.68" r="1.35" fill="#B4F2D4"/>
<rect x="633.8" y="44.48" width="4.4" height="4.4" fill="#128A47" stroke="#000" stroke-width="0.9"/>
<circle cx="636" cy="46.68" r="1.35" fill="#B4F2D4"/>
<rect x="634.66" y="34.41" width="4.4" height="4.4" fill="#128A47" stroke="#000" stroke-width="0.9"/>
<circle cx="636.86" cy="36.61" r="1.35" fill="#B4F2D4"/>
<rect x="636.83" y="30.2" width="4.4" height="4.4" fill="#128A47" stroke="#000" stroke-width="0.9"/>
<circle cx="639.03" cy="32.4" r="1.35" fill="#B4F2D4"/>
<rect x="639.18" y="30.2" width="4.4" height="4.4" fill="#128A47" stroke="#000" stroke-width="0.9"/>
<circle cx="641.38" cy="32.4" r="1.35" fill="#B4F2D4"/>
<rect x="641.54" y="30.2" width="4.4" height="4.4" fill="#128A47" stroke="#000" stroke-width="0.9"/>
<circle cx="643.74" cy="32.4" r="1.35" fill="#B4F2D4"/>
<rect x="643.89" y="30.2" width="4.4" height="4.4" fill="#128A47" stroke="#000" stroke-width="0.9"/>
<circle cx="646.09" cy="32.4" r="1.35" fill="#B4F2D4"/>
<rect x="646.25" y="30.2" width="4.4" height="4.4" fill="#128A47" stroke="#000" stroke-width="0.9"/>
<circle cx="648.45" cy="32.4" r="1.35" fill="#B4F2D4"/>
<rect x="648.6" y="30.2" width="4.4" height="4.4" fill="#128A47" stroke="#000" stroke-width="0.9"/>
<circle cx="650.8" cy="32.4" r="1.35" fill="#B4F2D4"/>
<rect x="650.96" y="30.2" width="4.4" height="4.4" fill="#128A47" stroke="#000" stroke-width="0.9"/>
<circle cx="653.16" cy="32.4" r="1.35" fill="#B4F2D4"/>
<rect x="653.31" y="30.2" width="4.4" height="4.4" fill="#128A47" stroke="#000" stroke-width="0.9"/>
<circle cx="655.51" cy="32.4" r="1.35" fill="#B4F2D4"/>
<rect x="655.66" y="30.2" width="4.4" height="4.4" fill="#128A47" stroke="#000" stroke-width="0.9"/>
<circle cx="657.86" cy="32.4" r="1.35" fill="#B4F2D4"/>
<rect x="658.02" y="30.2" width="4.4" height="4.4" fill="#128A47" stroke="#000" stroke-width="0.9"/>
<circle cx="660.22" cy="32.4" r="1.35" fill="#B4F2D4"/>
<rect x="660.37" y="30.2" width="4.4" height="4.4" fill="#128A47" stroke="#000" stroke-width="0.9"/>
<circle cx="662.57" cy="32.4" r="1.35" fill="#B4F2D4"/>
<rect x="662.73" y="30.2" width="4.4" height="4.4" fill="#128A47" stroke="#000" stroke-width="0.9"/>
<circle cx="664.93" cy="32.4" r="1.35" fill="#B4F2D4"/>
<rect x="665.08" y="30.2" width="4.4" height="4.4" fill="#128A47" stroke="#000" stroke-width="0.9"/>
<circle cx="667.28" cy="32.4" r="1.35" fill="#B4F2D4"/>
<rect x="667.44" y="30.2" width="4.4" height="4.4" fill="#128A47" stroke="#000" stroke-width="0.9"/>
<circle cx="669.64" cy="32.4" r="1.35" fill="#B4F2D4"/>
<rect x="669.79" y="30.2" width="4.4" height="4.4" fill="#128A47" stroke="#000" stroke-width="0.9"/>
<circle cx="671.99" cy="32.4" r="1.35" fill="#B4F2D4"/>
<rect x="672.15" y="30.2" width="4.4" height="4.4" fill="#128A47" stroke="#000" stroke-width="0.9"/>
<circle cx="674.35" cy="32.4" r="1.35" fill="#B4F2D4"/>
<rect x="674.5" y="30.2" width="4.4" height="4.4" fill="#128A47" stroke="#000" stroke-width="0.9"/>
<circle cx="676.7" cy="32.4" r="1.35" fill="#B4F2D4"/>
<line x1="591.1" y1="167" x2="617.8" y2="167" stroke="#111" stroke-width="1"/>
<circle cx="603.7" cy="167" r="1.9" fill="#F2B200" stroke="#000" stroke-width="0.9"/>
<text x="620.8" y="170.9" font-size="11">WT Control</text>
<line x1="591.1" y1="180.6" x2="617.8" y2="180.6" stroke="#111" stroke-width="1"/>
<circle cx="603.7" cy="180.6" r="1.9" fill="#07A04C" stroke="#000" stroke-width="0.9"/>
<text x="622" y="184.5" font-size="11"><tspan font-style="italic">etr2b</tspan> Control</text>
<line x1="591.1" y1="193.8" x2="617.8" y2="193.8" stroke="#111" stroke-width="1"/>
<rect x="601.7" y="191.8" width="4" height="4" fill="#D8A838" stroke="#000" stroke-width="0.9"/>
<circle cx="603.7" cy="193.8" r="1.2" fill="#FBF0A6"/>
<text x="620.8" y="197.7" font-size="11">WT NaCl</text>
<line x1="591.1" y1="207" x2="617.8" y2="207" stroke="#111" stroke-width="1"/>
<rect x="601.6" y="204.9" width="4.2" height="4.2" fill="#86D9AC" stroke="#000" stroke-width="0.9"/>
<path d="M602.6 205.9L604.8 208.1M602.6 208.1L604.8 205.9" stroke="#F2FFF8" stroke-width="0.7"/>
<text x="622" y="210.9" font-size="11"><tspan font-style="italic">etr2b</tspan> NaCl</text>
<text transform="translate(129.6,254.8) scale(0.88,1)" font-size="14.2" text-anchor="middle" font-weight="bold">Time (h)</text>
<text transform="translate(359.5,254.8) scale(0.88,1)" font-size="14.2" text-anchor="middle" font-weight="bold">Time (h)</text>
<text transform="translate(593,254.8) scale(0.88,1)" font-size="14.2" text-anchor="middle" font-weight="bold">Time (h)</text>
<text transform="translate(13.2,120.5) rotate(-90) scale(0.88,1)" font-size="14.2" text-anchor="middle" font-weight="bold">% Germination</text>
<text transform="translate(239.4,124.7) rotate(-90) scale(0.88,1)" font-size="14.2" text-anchor="middle" font-weight="bold">% Germination</text>
<text transform="translate(473,124.7) rotate(-90) scale(0.88,1)" font-size="14.2" text-anchor="middle" font-weight="bold">% Germination</text>
<text transform="translate(27.6,283.6) scale(0.84,1)" font-size="20" font-weight="bold">B)</text>
<text transform="translate(250.2,283.4) scale(0.84,1)" font-size="20" font-weight="bold">C)</text>
<text transform="translate(474.2,283.9) scale(0.84,1)" font-size="20" font-weight="bold">D)</text>
<text transform="translate(61.6,279.2) scale(0.89,1)" font-size="15" font-weight="bold">Germination initiation</text>
<text transform="translate(278.5,279.2) scale(0.89,1)" font-size="15" font-weight="bold">Time for 50 % germination</text>
<text transform="translate(505.4,279.2) scale(0.89,1)" font-size="15" font-weight="bold">Average germination time</text>
<path d="M49.6 504.5V308.9M45 504H54.2M49.6 500.1H53.2M49.6 496.2H53.2M49.6 492.29H53.2M49.6 488.39H53.2M45 484.49H54.2M49.6 480.59H53.2M49.6 476.69H53.2M49.6 472.78H53.2M49.6 468.88H53.2M45 464.98H54.2M49.6 461.08H53.2M49.6 457.18H53.2M49.6 453.27H53.2M49.6 449.37H53.2M45 445.47H54.2M49.6 441.57H53.2M49.6 437.67H53.2M49.6 433.76H53.2M49.6 429.86H53.2M45 425.96H54.2M49.6 422.06H53.2M49.6 418.16H53.2M49.6 414.25H53.2M49.6 410.35H53.2M45 406.45H54.2M49.6 402.55H53.2M49.6 398.65H53.2M49.6 394.74H53.2M49.6 390.84H53.2M45 386.94H54.2M49.6 383.04H53.2M49.6 379.14H53.2M49.6 375.23H53.2M49.6 371.33H53.2M45 367.43H54.2M49.6 363.53H53.2M49.6 359.63H53.2M49.6 355.72H53.2M49.6 351.82H53.2M45 347.92H54.2M49.6 344.02H53.2M49.6 340.12H53.2M49.6 336.21H53.2M49.6 332.31H53.2M45 328.41H54.2M49.6 324.51H53.2M49.6 320.61H53.2M49.6 316.7H53.2M49.6 312.8H53.2M45 308.9H54.2M45 504H214.6M104.6 504V498.5M159.6 504V498.5M214.6 504V498.5" stroke="#111" stroke-width="1" fill="none"/>
<text transform="translate(37.4,509.15) scale(0.85,1)" font-size="14.4" text-anchor="end">0</text>
<text transform="translate(37.4,489.64) scale(0.85,1)" font-size="14.4" text-anchor="end">5</text>
<text transform="translate(37.4,470.13) scale(0.85,1)" font-size="14.4" text-anchor="end">10</text>
<text transform="translate(37.4,450.62) scale(0.85,1)" font-size="14.4" text-anchor="end">15</text>
<text transform="translate(37.4,431.11) scale(0.85,1)" font-size="14.4" text-anchor="end">20</text>
<text transform="translate(37.4,411.6) scale(0.85,1)" font-size="14.4" text-anchor="end">25</text>
<text transform="translate(37.4,392.09) scale(0.85,1)" font-size="14.4" text-anchor="end">30</text>
<text transform="translate(37.4,372.58) scale(0.85,1)" font-size="14.4" text-anchor="end">35</text>
<text transform="translate(37.4,353.07) scale(0.85,1)" font-size="14.4" text-anchor="end">40</text>
<text transform="translate(37.4,333.56) scale(0.85,1)" font-size="14.4" text-anchor="end">45</text>
<text transform="translate(37.4,314.05) scale(0.85,1)" font-size="14.4" text-anchor="end">50</text>
<rect x="58.4" y="398.26" width="8.3" height="105.74" fill="#F4B31C" stroke="#1a1a1a" stroke-width="1"/>
<path d="M62.55 396.89V399.62M59.55 396.89H65.55M59.55 399.62H65.55" stroke="#000" stroke-width="1" fill="none"/>
<text transform="translate(62.55,394.29) scale(0.92,1)" font-size="10.8" text-anchor="middle">d</text>
<rect x="68.35" y="354.94" width="8.3" height="149.06" fill="url(#pp)" stroke="#1a1a1a" stroke-width="1"/>
<path d="M72.5 350.85V359.04M69.5 350.85H75.5M69.5 359.04H75.5" stroke="#000" stroke-width="1" fill="none"/>
<text transform="translate(72.5,348.25) scale(0.92,1)" font-size="10.8" text-anchor="middle">a</text>
<rect x="78.3" y="389.28" width="8.3" height="114.72" fill="#04A04E" stroke="#1a1a1a" stroke-width="1"/>
<path d="M82.45 387.33V391.23M79.45 387.33H85.45M79.45 391.23H85.45" stroke="#000" stroke-width="1" fill="none"/>
<text transform="translate(82.45,384.73) scale(0.92,1)" font-size="10.8" text-anchor="middle">c</text>
<rect x="88.25" y="376.4" width="8.3" height="127.6" fill="url(#pg)" stroke="#1a1a1a" stroke-width="1"/>
<path d="M92.4 372.11V380.7M89.4 372.11H95.4M89.4 380.7H95.4" stroke="#000" stroke-width="1" fill="none"/>
<text transform="translate(92.4,369.51) scale(0.92,1)" font-size="10.8" text-anchor="middle">b</text>
<rect x="113.4" y="382.26" width="8.3" height="121.74" fill="#F4B31C" stroke="#1a1a1a" stroke-width="1"/>
<path d="M117.55 379.33V385.18M114.55 379.33H120.55M114.55 385.18H120.55" stroke="#000" stroke-width="1" fill="none"/>
<text transform="translate(117.55,376.73) scale(0.92,1)" font-size="10.8" text-anchor="middle">c</text>
<rect x="123.35" y="343.63" width="8.3" height="160.37" fill="url(#pp)" stroke="#1a1a1a" stroke-width="1"/>
<path d="M127.5 339.73V347.53M124.5 339.73H130.5M124.5 347.53H130.5" stroke="#000" stroke-width="1" fill="none"/>
<text transform="translate(127.5,337.13) scale(0.92,1)" font-size="10.8" text-anchor="middle">a</text>
<rect x="133.3" y="368.99" width="8.3" height="135.01" fill="#04A04E" stroke="#1a1a1a" stroke-width="1"/>
<path d="M137.45 363.53V374.45M134.45 363.53H140.45M134.45 374.45H140.45" stroke="#000" stroke-width="1" fill="none"/>
<text transform="translate(137.45,360.93) scale(0.92,1)" font-size="10.8" text-anchor="middle">b</text>
<rect x="143.25" y="355.72" width="8.3" height="148.28" fill="url(#pg)" stroke="#1a1a1a" stroke-width="1"/>
<path d="M147.4 351.82V359.63M144.4 351.82H150.4M144.4 359.63H150.4" stroke="#000" stroke-width="1" fill="none"/>
<text transform="translate(147.4,349.22) scale(0.92,1)" font-size="10.8" text-anchor="middle">a</text>
<rect x="168.4" y="402.16" width="8.3" height="101.84" fill="#F4B31C" stroke="#1a1a1a" stroke-width="1"/>
<path d="M172.55 400.21V404.11M169.55 400.21H175.55M169.55 404.11H175.55" stroke="#000" stroke-width="1" fill="none"/>
<text transform="translate(172.55,397.61) scale(0.92,1)" font-size="10.8" text-anchor="middle">d</text>
<rect x="178.35" y="363.53" width="8.3" height="140.47" fill="url(#pp)" stroke="#1a1a1a" stroke-width="1"/>
<path d="M182.5 358.65V368.41M179.5 358.65H185.5M179.5 368.41H185.5" stroke="#000" stroke-width="1" fill="none"/>
<text transform="translate(182.5,356.05) scale(0.92,1)" font-size="10.8" text-anchor="middle">a</text>
<rect x="188.3" y="393.18" width="8.3" height="110.82" fill="#04A04E" stroke="#1a1a1a" stroke-width="1"/>
<path d="M192.45 390.26V396.11M189.45 390.26H195.45M189.45 396.11H195.45" stroke="#000" stroke-width="1" fill="none"/>
<text transform="translate(192.45,387.66) scale(0.92,1)" font-size="10.8" text-anchor="middle">c</text>
<rect x="198.25" y="379.92" width="8.3" height="124.08" fill="url(#pg)" stroke="#1a1a1a" stroke-width="1"/>
<path d="M202.4 375.62V384.21M199.4 375.62H205.4M199.4 384.21H205.4" stroke="#000" stroke-width="1" fill="none"/>
<text transform="translate(202.4,373.02) scale(0.92,1)" font-size="10.8" text-anchor="middle">b</text>
<path d="M273.4 504.5V309.6M268.8 504H278M273.4 500.11H277M273.4 496.22H277M273.4 492.34H277M273.4 488.45H277M268.8 484.56H278M273.4 480.67H277M273.4 476.78H277M273.4 472.9H277M273.4 469.01H277M268.8 465.12H278M273.4 461.23H277M273.4 457.34H277M273.4 453.46H277M273.4 449.57H277M268.8 445.68H278M273.4 441.79H277M273.4 437.9H277M273.4 434.02H277M273.4 430.13H277M268.8 426.24H278M273.4 422.35H277M273.4 418.46H277M273.4 414.58H277M273.4 410.69H277M268.8 406.8H278M273.4 402.91H277M273.4 399.02H277M273.4 395.14H277M273.4 391.25H277M268.8 387.36H278M273.4 383.47H277M273.4 379.58H277M273.4 375.7H277M273.4 371.81H277M268.8 367.92H278M273.4 364.03H277M273.4 360.14H277M273.4 356.26H277M273.4 352.37H277M268.8 348.48H278M273.4 344.59H277M273.4 340.7H277M273.4 336.82H277M273.4 332.93H277M268.8 329.04H278M273.4 325.15H277M273.4 321.26H277M273.4 317.38H277M273.4 313.49H277M268.8 309.6H278M268.8 504H438.4M328.4 504V498.5M383.4 504V498.5M438.4 504V498.5" stroke="#111" stroke-width="1" fill="none"/>
<text transform="translate(261.2,509.15) scale(0.85,1)" font-size="14.4" text-anchor="end">0</text>
<text transform="translate(261.2,489.71) scale(0.85,1)" font-size="14.4" text-anchor="end">5</text>
<text transform="translate(261.2,470.27) scale(0.85,1)" font-size="14.4" text-anchor="end">10</text>
<text transform="translate(261.2,450.83) scale(0.85,1)" font-size="14.4" text-anchor="end">15</text>
<text transform="translate(261.2,431.39) scale(0.85,1)" font-size="14.4" text-anchor="end">20</text>
<text transform="translate(261.2,411.95) scale(0.85,1)" font-size="14.4" text-anchor="end">25</text>
<text transform="translate(261.2,392.51) scale(0.85,1)" font-size="14.4" text-anchor="end">30</text>
<text transform="translate(261.2,373.07) scale(0.85,1)" font-size="14.4" text-anchor="end">35</text>
<text transform="translate(261.2,353.63) scale(0.85,1)" font-size="14.4" text-anchor="end">40</text>
<text transform="translate(261.2,334.19) scale(0.85,1)" font-size="14.4" text-anchor="end">45</text>
<text transform="translate(261.2,314.75) scale(0.85,1)" font-size="14.4" text-anchor="end">50</text>
<rect x="282.2" y="400.19" width="8.3" height="103.81" fill="#F4B31C" stroke="#1a1a1a" stroke-width="1"/>
<path d="M286.35 399.02V401.36M283.35 399.02H289.35M283.35 401.36H289.35" stroke="#000" stroke-width="1" fill="none"/>
<text transform="translate(286.35,396.42) scale(0.85,1)" font-size="10.2" text-anchor="middle">d</text>
<rect x="292.15" y="372.59" width="8.3" height="131.41" fill="url(#pp)" stroke="#1a1a1a" stroke-width="1"/>
<path d="M296.3 371.61V373.56M293.3 371.61H299.3M293.3 373.56H299.3" stroke="#000" stroke-width="1" fill="none"/>
<text transform="translate(296.3,369.01) scale(0.85,1)" font-size="10.2" text-anchor="middle">a</text>
<rect x="302.1" y="393.19" width="8.3" height="110.81" fill="#04A04E" stroke="#1a1a1a" stroke-width="1"/>
<path d="M306.25 391.25V395.14M303.25 391.25H309.25M303.25 395.14H309.25" stroke="#000" stroke-width="1" fill="none"/>
<text transform="translate(306.25,388.65) scale(0.85,1)" font-size="10.2" text-anchor="middle">c</text>
<rect x="312.05" y="386.97" width="8.3" height="117.03" fill="url(#pg)" stroke="#1a1a1a" stroke-width="1"/>
<path d="M316.2 384.64V389.3M313.2 384.64H319.2M313.2 389.3H319.2" stroke="#000" stroke-width="1" fill="none"/>
<text transform="translate(316.2,382.04) scale(0.85,1)" font-size="10.2" text-anchor="middle">b</text>
<rect x="337.2" y="393.19" width="8.3" height="110.81" fill="#F4B31C" stroke="#1a1a1a" stroke-width="1"/>
<path d="M341.35 391.25V395.14M338.35 391.25H344.35M338.35 395.14H344.35" stroke="#000" stroke-width="1" fill="none"/>
<text transform="translate(341.35,388.65) scale(0.85,1)" font-size="10.2" text-anchor="middle">c</text>
<rect x="347.15" y="355.48" width="8.3" height="148.52" fill="url(#pp)" stroke="#1a1a1a" stroke-width="1"/>
<path d="M351.3 353.92V357.03M348.3 353.92H354.3M348.3 357.03H354.3" stroke="#000" stroke-width="1" fill="none"/>
<text transform="translate(351.3,351.32) scale(0.85,1)" font-size="10.2" text-anchor="middle">a</text>
<rect x="357.1" y="386.19" width="8.3" height="117.81" fill="#04A04E" stroke="#1a1a1a" stroke-width="1"/>
<path d="M361.25 383.08V389.3M358.25 383.08H364.25M358.25 389.3H364.25" stroke="#000" stroke-width="1" fill="none"/>
<text transform="translate(361.25,380.48) scale(0.85,1)" font-size="10.2" text-anchor="middle">c</text>
<rect x="367.05" y="360.14" width="8.3" height="143.86" fill="url(#pg)" stroke="#1a1a1a" stroke-width="1"/>
<path d="M371.2 358.98V361.31M368.2 358.98H374.2M368.2 361.31H374.2" stroke="#000" stroke-width="1" fill="none"/>
<text transform="translate(371.2,356.38) scale(0.85,1)" font-size="10.2" text-anchor="middle">b</text>
<rect x="392.2" y="404.47" width="8.3" height="99.53" fill="#F4B31C" stroke="#1a1a1a" stroke-width="1"/>
<path d="M396.35 400.58V408.36M393.35 400.58H399.35M393.35 408.36H399.35" stroke="#000" stroke-width="1" fill="none"/>
<text transform="translate(396.35,397.98) scale(0.85,1)" font-size="10.2" text-anchor="middle">c</text>
<rect x="402.15" y="371.81" width="8.3" height="132.19" fill="url(#pp)" stroke="#1a1a1a" stroke-width="1"/>
<path d="M406.3 365.98V377.64M403.3 365.98H409.3M403.3 377.64H409.3" stroke="#000" stroke-width="1" fill="none"/>
<text transform="translate(406.3,363.38) scale(0.85,1)" font-size="10.2" text-anchor="middle">a</text>
<rect x="412.1" y="403.3" width="8.3" height="100.7" fill="#04A04E" stroke="#1a1a1a" stroke-width="1"/>
<path d="M416.25 400.58V406.02M413.25 400.58H419.25M413.25 406.02H419.25" stroke="#000" stroke-width="1" fill="none"/>
<text transform="translate(416.25,397.98) scale(0.85,1)" font-size="10.2" text-anchor="middle">c</text>
<rect x="422.05" y="392.8" width="8.3" height="111.2" fill="url(#pg)" stroke="#1a1a1a" stroke-width="1"/>
<path d="M426.2 390.86V394.75M423.2 390.86H429.2M423.2 394.75H429.2" stroke="#000" stroke-width="1" fill="none"/>
<text transform="translate(426.2,388.26) scale(0.85,1)" font-size="10.2" text-anchor="middle">b</text>
<path d="M497.4 504.3V309M492.8 503.8H502M497.4 499.9H501M497.4 496.01H501M497.4 492.11H501M497.4 488.22H501M492.8 484.32H502M497.4 480.42H501M497.4 476.53H501M497.4 472.63H501M497.4 468.74H501M492.8 464.84H502M497.4 460.94H501M497.4 457.05H501M497.4 453.15H501M497.4 449.26H501M492.8 445.36H502M497.4 441.46H501M497.4 437.57H501M497.4 433.67H501M497.4 429.78H501M492.8 425.88H502M497.4 421.98H501M497.4 418.09H501M497.4 414.19H501M497.4 410.3H501M492.8 406.4H502M497.4 402.5H501M497.4 398.61H501M497.4 394.71H501M497.4 390.82H501M492.8 386.92H502M497.4 383.02H501M497.4 379.13H501M497.4 375.23H501M497.4 371.34H501M492.8 367.44H502M497.4 363.54H501M497.4 359.65H501M497.4 355.75H501M497.4 351.86H501M492.8 347.96H502M497.4 344.06H501M497.4 340.17H501M497.4 336.27H501M497.4 332.38H501M492.8 328.48H502M497.4 324.58H501M497.4 320.69H501M497.4 316.79H501M497.4 312.9H501M492.8 309H502M492.8 503.8H662.4M552.4 503.8V498.3M607.4 503.8V498.3M662.4 503.8V498.3" stroke="#111" stroke-width="1" fill="none"/>
<text transform="translate(485.2,508.95) scale(0.85,1)" font-size="14.4" text-anchor="end">0</text>
<text transform="translate(485.2,489.47) scale(0.85,1)" font-size="14.4" text-anchor="end">5</text>
<text transform="translate(485.2,469.99) scale(0.85,1)" font-size="14.4" text-anchor="end">10</text>
<text transform="translate(485.2,450.51) scale(0.85,1)" font-size="14.4" text-anchor="end">15</text>
<text transform="translate(485.2,431.03) scale(0.85,1)" font-size="14.4" text-anchor="end">20</text>
<text transform="translate(485.2,411.55) scale(0.85,1)" font-size="14.4" text-anchor="end">25</text>
<text transform="translate(485.2,392.07) scale(0.85,1)" font-size="14.4" text-anchor="end">30</text>
<text transform="translate(485.2,372.59) scale(0.85,1)" font-size="14.4" text-anchor="end">35</text>
<text transform="translate(485.2,353.11) scale(0.85,1)" font-size="14.4" text-anchor="end">40</text>
<text transform="translate(485.2,333.63) scale(0.85,1)" font-size="14.4" text-anchor="end">45</text>
<text transform="translate(485.2,314.15) scale(0.85,1)" font-size="14.4" text-anchor="end">50</text>
<rect x="506.2" y="464.84" width="8.3" height="38.96" fill="#F4B31C" stroke="#1a1a1a" stroke-width="1"/>
<path d="M510.35 463.67V466.01M507.35 463.67H513.35M507.35 466.01H513.35" stroke="#000" stroke-width="1" fill="none"/>
<text transform="translate(510.35,461.07) scale(0.85,1)" font-size="10.2" text-anchor="middle">d</text>
<rect x="516.15" y="424.71" width="8.3" height="79.09" fill="url(#pp)" stroke="#1a1a1a" stroke-width="1"/>
<path d="M520.3 422.37V427.05M517.3 422.37H523.3M517.3 427.05H523.3" stroke="#000" stroke-width="1" fill="none"/>
<text transform="translate(520.3,419.77) scale(0.85,1)" font-size="10.2" text-anchor="middle">a</text>
<rect x="526.1" y="457.05" width="8.3" height="46.75" fill="#04A04E" stroke="#1a1a1a" stroke-width="1"/>
<path d="M530.25 455.1V459M527.25 455.1H533.25M527.25 459H533.25" stroke="#000" stroke-width="1" fill="none"/>
<text transform="translate(530.25,452.5) scale(0.85,1)" font-size="10.2" text-anchor="middle">c</text>
<rect x="536.05" y="446.92" width="8.3" height="56.88" fill="url(#pg)" stroke="#1a1a1a" stroke-width="1"/>
<path d="M540.2 443.8V450.04M537.2 443.8H543.2M537.2 450.04H543.2" stroke="#000" stroke-width="1" fill="none"/>
<text transform="translate(540.2,441.2) scale(0.85,1)" font-size="10.2" text-anchor="middle">b</text>
<rect x="561.2" y="448.87" width="8.3" height="54.93" fill="#F4B31C" stroke="#1a1a1a" stroke-width="1"/>
<path d="M565.35 448.67V449.06M562.35 448.67H568.35M562.35 449.06H568.35" stroke="#000" stroke-width="1" fill="none"/>
<text transform="translate(565.35,446.07) scale(0.85,1)" font-size="10.2" text-anchor="middle">d</text>
<rect x="571.15" y="409.52" width="8.3" height="94.28" fill="url(#pp)" stroke="#1a1a1a" stroke-width="1"/>
<path d="M575.3 409.13V409.91M572.3 409.13H578.3M572.3 409.91H578.3" stroke="#000" stroke-width="1" fill="none"/>
<text transform="translate(575.3,406.53) scale(0.85,1)" font-size="10.2" text-anchor="middle">a</text>
<rect x="581.1" y="437.18" width="8.3" height="66.62" fill="#04A04E" stroke="#1a1a1a" stroke-width="1"/>
<path d="M585.25 435.23V439.13M582.25 435.23H588.25M582.25 439.13H588.25" stroke="#000" stroke-width="1" fill="none"/>
<text transform="translate(585.25,432.63) scale(0.85,1)" font-size="10.2" text-anchor="middle">c</text>
<rect x="591.05" y="421.2" width="8.3" height="82.6" fill="url(#pg)" stroke="#1a1a1a" stroke-width="1"/>
<path d="M595.2 418.87V423.54M592.2 418.87H598.2M592.2 423.54H598.2" stroke="#000" stroke-width="1" fill="none"/>
<text transform="translate(595.2,416.27) scale(0.85,1)" font-size="10.2" text-anchor="middle">b</text>
<rect x="616.2" y="468.35" width="8.3" height="35.45" fill="#F4B31C" stroke="#1a1a1a" stroke-width="1"/>
<path d="M620.35 465.23V471.46M617.35 465.23H623.35M617.35 471.46H623.35" stroke="#000" stroke-width="1" fill="none"/>
<text transform="translate(620.35,462.63) scale(0.85,1)" font-size="10.2" text-anchor="middle">c</text>
<rect x="626.15" y="429.39" width="8.3" height="74.41" fill="url(#pp)" stroke="#1a1a1a" stroke-width="1"/>
<path d="M630.3 424.71V434.06M627.3 424.71H633.3M627.3 434.06H633.3" stroke="#000" stroke-width="1" fill="none"/>
<text transform="translate(630.3,422.11) scale(0.85,1)" font-size="10.2" text-anchor="middle">a</text>
<rect x="636.1" y="462.5" width="8.3" height="41.3" fill="#04A04E" stroke="#1a1a1a" stroke-width="1"/>
<path d="M640.25 459.78V465.23M637.25 459.78H643.25M637.25 465.23H643.25" stroke="#000" stroke-width="1" fill="none"/>
<text transform="translate(640.25,457.18) scale(0.85,1)" font-size="10.2" text-anchor="middle">c</text>
<rect x="646.05" y="449.26" width="8.3" height="54.54" fill="url(#pg)" stroke="#1a1a1a" stroke-width="1"/>
<path d="M650.2 446.92V451.59M647.2 446.92H653.2M647.2 451.59H653.2" stroke="#000" stroke-width="1" fill="none"/>
<text transform="translate(650.2,444.32) scale(0.85,1)" font-size="10.2" text-anchor="middle">b</text>
<text transform="translate(18.4,408.3) rotate(-90) scale(0.88,1)" font-size="14.2" text-anchor="middle" font-weight="bold">Time (h)</text>
<text transform="translate(241.3,408.3) rotate(-90) scale(0.88,1)" font-size="14.2" text-anchor="middle" font-weight="bold">Time (h)</text>
<text transform="translate(466,408.3) rotate(-90) scale(0.88,1)" font-size="14.2" text-anchor="middle" font-weight="bold">Time (h)</text>
<rect x="157.6" y="289.35" width="6.9" height="6.9" fill="#F4B31C" stroke="#1a1a1a" stroke-width="1"/>
<rect x="157.6" y="302.95" width="6.9" height="6.9" fill="url(#pp)" stroke="#1a1a1a" stroke-width="1"/>
<rect x="157.6" y="316.55" width="6.9" height="6.9" fill="#04A04E" stroke="#1a1a1a" stroke-width="1"/>
<rect x="157.6" y="330.15" width="6.9" height="6.9" fill="url(#pg)" stroke="#1a1a1a" stroke-width="1"/>
<text x="166.9" y="296.8" font-size="11.2">WT Control</text>
<text x="166.9" y="310.4" font-size="11.2">WT NaCl</text>
<text x="168.3" y="324" font-size="11.2"><tspan font-style="italic">etr</tspan> Control</text>
<text x="168.3" y="337.6" font-size="11.2"><tspan font-style="italic">etr</tspan> NaCl</text>
<text transform="translate(78.1,528.6) scale(0.95,1)" font-size="14" text-anchor="middle" font-style="italic">etr1b</text>
<text transform="translate(133.1,528.6) scale(0.95,1)" font-size="14" text-anchor="middle" font-style="italic">etr1a</text>
<text transform="translate(188.1,528.6) scale(0.95,1)" font-size="14" text-anchor="middle" font-style="italic">etr2b</text>
<text transform="translate(301.9,528.6) scale(0.95,1)" font-size="14" text-anchor="middle" font-style="italic">etr1b</text>
<text transform="translate(356.9,528.6) scale(0.95,1)" font-size="14" text-anchor="middle" font-style="italic">etr1a</text>
<text transform="translate(411.9,528.6) scale(0.95,1)" font-size="14" text-anchor="middle" font-style="italic">etr2b</text>
<text transform="translate(525.9,528.6) scale(0.95,1)" font-size="14" text-anchor="middle" font-style="italic">etr1b</text>
<text transform="translate(580.9,528.6) scale(0.95,1)" font-size="14" text-anchor="middle" font-style="italic">etr1a</text>
<text transform="translate(635.9,528.6) scale(0.95,1)" font-size="14" text-anchor="middle" font-style="italic">etr2b</text>
<path d="M49.6 652V543.8M45 651.5H54.2M49.6 647.19H53.2M49.6 642.88H53.2M49.6 638.58H53.2M49.6 634.27H53.2M45 629.96H54.2M49.6 625.65H53.2M49.6 621.34H53.2M49.6 617.04H53.2M49.6 612.73H53.2M45 608.42H54.2M49.6 604.11H53.2M49.6 599.8H53.2M49.6 595.5H53.2M49.6 591.19H53.2M45 586.88H54.2M49.6 582.57H53.2M49.6 578.26H53.2M49.6 573.96H53.2M49.6 569.65H53.2M45 565.34H54.2M49.6 561.03H53.2M49.6 556.72H53.2M49.6 552.42H53.2M49.6 548.11H53.2M45 543.8H54.2M45 651.5H214.6M104.6 651.5V646M159.6 651.5V646M214.6 651.5V646" stroke="#111" stroke-width="1" fill="none"/>
<text transform="translate(37.4,656.65) scale(0.85,1)" font-size="14.4" text-anchor="end">0</text>
<text transform="translate(37.4,635.11) scale(0.85,1)" font-size="14.4" text-anchor="end">10</text>
<text transform="translate(37.4,613.57) scale(0.85,1)" font-size="14.4" text-anchor="end">20</text>
<text transform="translate(37.4,592.03) scale(0.85,1)" font-size="14.4" text-anchor="end">30</text>
<text transform="translate(37.4,570.49) scale(0.85,1)" font-size="14.4" text-anchor="end">40</text>
<text transform="translate(37.4,548.95) scale(0.85,1)" font-size="14.4" text-anchor="end">50</text>
<rect x="62.8" y="562.54" width="12.7" height="88.96" fill="#F4B31C" stroke="#1a1a1a" stroke-width="1"/>
<path d="M69.15 555.22V569.86M65.95 555.22H72.35M65.95 569.86H72.35" stroke="#000" stroke-width="1" fill="none"/>
<text transform="translate(69.15,552.42) scale(0.9,1)" font-size="10.5" text-anchor="middle">a</text>
<rect x="77.9" y="626.3" width="12.7" height="25.2" fill="#04A04E" stroke="#1a1a1a" stroke-width="1"/>
<path d="M84.25 617.9V634.7M81.05 617.9H87.45M81.05 634.7H87.45" stroke="#000" stroke-width="1" fill="none"/>
<text transform="translate(84.25,615.1) scale(0.9,1)" font-size="10.5" text-anchor="middle">b</text>
<rect x="117.8" y="583.43" width="12.7" height="68.07" fill="#F4B31C" stroke="#1a1a1a" stroke-width="1"/>
<path d="M124.15 573.53V593.34M120.95 573.53H127.35M120.95 593.34H127.35" stroke="#000" stroke-width="1" fill="none"/>
<text transform="translate(124.15,570.73) scale(0.9,1)" font-size="10.5" text-anchor="middle">a</text>
<rect x="132.9" y="628.24" width="12.7" height="23.26" fill="#04A04E" stroke="#1a1a1a" stroke-width="1"/>
<path d="M139.25 618.97V637.5M136.05 618.97H142.45M136.05 637.5H142.45" stroke="#000" stroke-width="1" fill="none"/>
<text transform="translate(139.25,616.17) scale(0.9,1)" font-size="10.5" text-anchor="middle">b</text>
<rect x="172.8" y="569.65" width="12.7" height="81.85" fill="#F4B31C" stroke="#1a1a1a" stroke-width="1"/>
<path d="M179.15 561.46V577.83M175.95 561.46H182.35M175.95 577.83H182.35" stroke="#000" stroke-width="1" fill="none"/>
<text transform="translate(179.15,558.66) scale(0.9,1)" font-size="10.5" text-anchor="middle">a</text>
<rect x="187.9" y="624.36" width="12.7" height="27.14" fill="#04A04E" stroke="#1a1a1a" stroke-width="1"/>
<path d="M194.25 612.73V635.99M191.05 612.73H197.45M191.05 635.99H197.45" stroke="#000" stroke-width="1" fill="none"/>
<text transform="translate(194.25,609.93) scale(0.9,1)" font-size="10.5" text-anchor="middle">b</text>
<path d="M273.4 651.1V543.8M268.8 650.6H278M273.4 646.33H277M273.4 642.06H277M273.4 637.78H277M273.4 633.51H277M268.8 629.24H278M273.4 624.97H277M273.4 620.7H277M273.4 616.42H277M273.4 612.15H277M268.8 607.88H278M273.4 603.61H277M273.4 599.34H277M273.4 595.06H277M273.4 590.79H277M268.8 586.52H278M273.4 582.25H277M273.4 577.98H277M273.4 573.7H277M273.4 569.43H277M268.8 565.16H278M273.4 560.89H277M273.4 556.62H277M273.4 552.34H277M273.4 548.07H277M268.8 543.8H278M268.8 650.6H436.6M327.8 650.6V645.1M382.2 650.6V645.1M436.6 650.6V645.1" stroke="#111" stroke-width="1" fill="none"/>
<text transform="translate(261.2,655.75) scale(0.85,1)" font-size="14.4" text-anchor="end">0</text>
<text transform="translate(261.2,634.39) scale(0.85,1)" font-size="14.4" text-anchor="end">10</text>
<text transform="translate(261.2,613.03) scale(0.85,1)" font-size="14.4" text-anchor="end">20</text>
<text transform="translate(261.2,591.67) scale(0.85,1)" font-size="14.4" text-anchor="end">30</text>
<text transform="translate(261.2,570.31) scale(0.85,1)" font-size="14.4" text-anchor="end">40</text>
<text transform="translate(261.2,548.95) scale(0.85,1)" font-size="14.4" text-anchor="end">50</text>
<rect x="286.8" y="591.65" width="12.7" height="58.95" fill="#F4B31C" stroke="#1a1a1a" stroke-width="1"/>
<path d="M293.15 589.72V593.57M289.95 589.72H296.35M289.95 593.57H296.35" stroke="#000" stroke-width="1" fill="none"/>
<text transform="translate(293.15,586.92) scale(0.9,1)" font-size="10.5" text-anchor="middle">a</text>
<rect x="302.3" y="639.49" width="12.7" height="11.11" fill="#04A04E" stroke="#1a1a1a" stroke-width="1"/>
<path d="M308.65 635.65V643.34M305.45 635.65H311.85M305.45 643.34H311.85" stroke="#000" stroke-width="1" fill="none"/>
<text transform="translate(308.65,632.85) scale(0.9,1)" font-size="10.5" text-anchor="middle">b</text>
<rect x="341.2" y="577.76" width="12.7" height="72.84" fill="#F4B31C" stroke="#1a1a1a" stroke-width="1"/>
<path d="M347.55 576.05V579.47M344.35 576.05H350.75M344.35 579.47H350.75" stroke="#000" stroke-width="1" fill="none"/>
<text transform="translate(347.55,573.25) scale(0.9,1)" font-size="10.5" text-anchor="middle">a</text>
<rect x="356.7" y="604.89" width="12.7" height="45.71" fill="#04A04E" stroke="#1a1a1a" stroke-width="1"/>
<path d="M363.05 599.55V610.23M359.85 599.55H366.25M359.85 610.23H366.25" stroke="#000" stroke-width="1" fill="none"/>
<text transform="translate(363.05,596.75) scale(0.9,1)" font-size="10.5" text-anchor="middle">b</text>
<rect x="395.6" y="582.68" width="12.7" height="67.92" fill="#F4B31C" stroke="#1a1a1a" stroke-width="1"/>
<path d="M401.95 570.5V594.85M398.75 570.5H405.15M398.75 594.85H405.15" stroke="#000" stroke-width="1" fill="none"/>
<text transform="translate(401.95,567.7) scale(0.9,1)" font-size="10.5" text-anchor="middle">a</text>
<rect x="411.1" y="628.39" width="12.7" height="22.21" fill="#04A04E" stroke="#1a1a1a" stroke-width="1"/>
<path d="M417.45 625.61V631.16M414.25 625.61H420.65M414.25 631.16H420.65" stroke="#000" stroke-width="1" fill="none"/>
<text transform="translate(417.45,622.81) scale(0.9,1)" font-size="10.5" text-anchor="middle">b</text>
<path d="M497.5 651.8V543.8M492.9 651.3H502.1M497.5 648.23H501.1M497.5 645.16H501.1M497.5 642.09H501.1M497.5 639.01H501.1M492.9 635.94H502.1M497.5 632.87H501.1M497.5 629.8H501.1M497.5 626.73H501.1M497.5 623.66H501.1M492.9 620.59H502.1M497.5 617.51H501.1M497.5 614.44H501.1M497.5 611.37H501.1M497.5 608.3H501.1M492.9 605.23H502.1M497.5 602.16H501.1M497.5 599.09H501.1M497.5 596.01H501.1M497.5 592.94H501.1M492.9 589.87H502.1M497.5 586.8H501.1M497.5 583.73H501.1M497.5 580.66H501.1M497.5 577.59H501.1M492.9 574.51H502.1M497.5 571.44H501.1M497.5 568.37H501.1M497.5 565.3H501.1M497.5 562.23H501.1M492.9 559.16H502.1M497.5 556.09H501.1M497.5 553.01H501.1M497.5 549.94H501.1M497.5 546.87H501.1M492.9 543.8H502.1M492.9 651.3H661.6M552.2 651.3V645.8M606.9 651.3V645.8M661.6 651.3V645.8" stroke="#111" stroke-width="1" fill="none"/>
<text transform="translate(485.3,656.45) scale(0.85,1)" font-size="14.4" text-anchor="end">0</text>
<text transform="translate(485.3,641.09) scale(0.85,1)" font-size="14.4" text-anchor="end">20</text>
<text transform="translate(485.3,625.74) scale(0.85,1)" font-size="14.4" text-anchor="end">40</text>
<text transform="translate(485.3,610.38) scale(0.85,1)" font-size="14.4" text-anchor="end">60</text>
<text transform="translate(485.3,595.02) scale(0.85,1)" font-size="14.4" text-anchor="end">80</text>
<text transform="translate(485.3,579.66) scale(0.85,1)" font-size="14.4" text-anchor="end">100</text>
<text transform="translate(485.3,564.31) scale(0.85,1)" font-size="14.4" text-anchor="end">120</text>
<text transform="translate(485.3,548.95) scale(0.85,1)" font-size="14.4" text-anchor="end">140</text>
<rect x="510.8" y="569.14" width="12.7" height="82.16" fill="#F4B31C" stroke="#1a1a1a" stroke-width="1"/>
<path d="M517.15 564.15V574.13M513.95 564.15H520.35M513.95 574.13H520.35" stroke="#000" stroke-width="1" fill="none"/>
<text transform="translate(517.15,561.35) scale(0.9,1)" font-size="10.5" text-anchor="middle">a</text>
<rect x="527" y="636.33" width="12.7" height="14.97" fill="#04A04E" stroke="#1a1a1a" stroke-width="1"/>
<path d="M533.35 632.49V640.17M530.15 632.49H536.55M530.15 640.17H536.55" stroke="#000" stroke-width="1" fill="none"/>
<text transform="translate(533.35,629.69) scale(0.9,1)" font-size="10.5" text-anchor="middle">b</text>
<rect x="565.5" y="596.78" width="12.7" height="54.52" fill="#F4B31C" stroke="#1a1a1a" stroke-width="1"/>
<path d="M571.85 596.32V597.24M568.65 596.32H575.05M568.65 597.24H575.05" stroke="#000" stroke-width="1" fill="none"/>
<text transform="translate(571.85,593.52) scale(0.9,1)" font-size="10.5" text-anchor="middle">a</text>
<rect x="581.7" y="632.56" width="12.7" height="18.74" fill="#04A04E" stroke="#1a1a1a" stroke-width="1"/>
<path d="M588.05 630.11V635.02M584.85 630.11H591.25M584.85 635.02H591.25" stroke="#000" stroke-width="1" fill="none"/>
<text transform="translate(588.05,627.31) scale(0.9,1)" font-size="10.5" text-anchor="middle">b</text>
<rect x="620.2" y="562" width="12.7" height="89.3" fill="#F4B31C" stroke="#1a1a1a" stroke-width="1"/>
<path d="M626.55 552.78V571.21M623.35 552.78H629.75M623.35 571.21H629.75" stroke="#000" stroke-width="1" fill="none"/>
<text transform="translate(626.55,549.98) scale(0.9,1)" font-size="10.5" text-anchor="middle">a</text>
<rect x="636.4" y="627.65" width="12.7" height="23.65" fill="#04A04E" stroke="#1a1a1a" stroke-width="1"/>
<path d="M642.75 623.43V631.87M639.55 623.43H645.95M639.55 631.87H645.95" stroke="#000" stroke-width="1" fill="none"/>
<text transform="translate(642.75,620.63) scale(0.9,1)" font-size="10.5" text-anchor="middle">b</text>
<text transform="translate(20.4,606.1) rotate(-90) scale(0.91,1)" font-size="14.2" text-anchor="middle" font-weight="bold">% Increase</text>
<text transform="translate(242.9,606.4) rotate(-90) scale(0.91,1)" font-size="14.2" text-anchor="middle" font-weight="bold">% Increase</text>
<text transform="translate(464.6,607.1) rotate(-90) scale(0.91,1)" font-size="14.2" text-anchor="middle" font-weight="bold">% Increase</text>
<rect x="190.5" y="538.8" width="6.2" height="6.8" fill="#F4B31C" stroke="#1a1a1a" stroke-width="1"/>
<rect x="190.5" y="553.2" width="6.2" height="6.8" fill="#04A04E" stroke="#1a1a1a" stroke-width="1"/>
<text x="199.7" y="546.0" font-size="11.6">WT</text>
<text x="200.6" y="560.4" font-size="11.6" font-style="italic">etr</text>
<text transform="translate(78.1,675.6) scale(0.95,1)" font-size="14" text-anchor="middle" font-style="italic">etr1b</text>
<text transform="translate(133.1,675.6) scale(0.95,1)" font-size="14" text-anchor="middle" font-style="italic">etr1a</text>
<text transform="translate(188.1,675.6) scale(0.95,1)" font-size="14" text-anchor="middle" font-style="italic">etr2b</text>
<text transform="translate(301.9,675.6) scale(0.95,1)" font-size="14" text-anchor="middle" font-style="italic">etr1b</text>
<text transform="translate(356.9,675.6) scale(0.95,1)" font-size="14" text-anchor="middle" font-style="italic">etr1a</text>
<text transform="translate(411.9,675.6) scale(0.95,1)" font-size="14" text-anchor="middle" font-style="italic">etr2b</text>
<text transform="translate(526,675.6) scale(0.95,1)" font-size="14" text-anchor="middle" font-style="italic">etr1b</text>
<text transform="translate(581,675.6) scale(0.95,1)" font-size="14" text-anchor="middle" font-style="italic">etr1a</text>
<text transform="translate(636,675.6) scale(0.95,1)" font-size="14" text-anchor="middle" font-style="italic">etr2b</text>
</svg>
</body></html>
